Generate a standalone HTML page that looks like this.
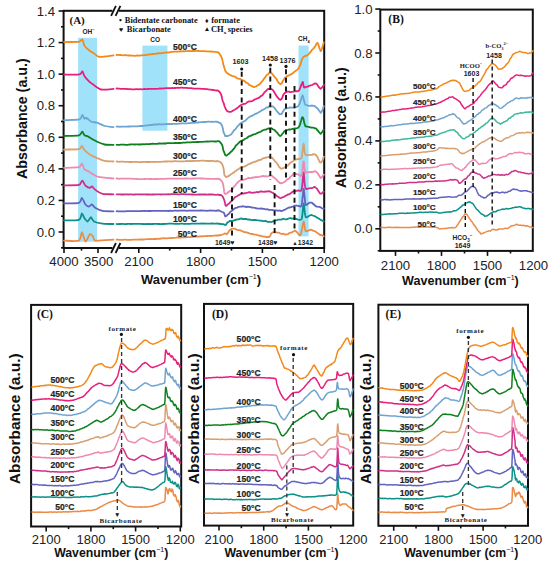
<!DOCTYPE html>
<html><head><meta charset="utf-8"><style>
html,body{margin:0;padding:0;background:#fff;}
svg{display:block;}
</style></head><body>
<svg width="550" height="564" viewBox="0 0 550 564">
<rect width="550" height="564" fill="#fff"/>
<rect x="78.10" y="37.80" width="18.90" height="203.90" fill="#A0E2FA"/>
<rect x="142.40" y="45.60" width="25.00" height="85.10" fill="#A0E2FA"/>
<rect x="298.50" y="45.50" width="10.10" height="190.90" fill="#A0E2FA"/>
<line x1="61.00" y1="247.78" x2="63.60" y2="247.78" stroke="#111" stroke-width="1.6" stroke-linecap="butt"/>
<line x1="58.60" y1="232.00" x2="63.60" y2="232.00" stroke="#111" stroke-width="1.6" stroke-linecap="butt"/>
<line x1="61.00" y1="216.22" x2="63.60" y2="216.22" stroke="#111" stroke-width="1.6" stroke-linecap="butt"/>
<line x1="58.60" y1="200.43" x2="63.60" y2="200.43" stroke="#111" stroke-width="1.6" stroke-linecap="butt"/>
<line x1="61.00" y1="184.64" x2="63.60" y2="184.64" stroke="#111" stroke-width="1.6" stroke-linecap="butt"/>
<line x1="58.60" y1="168.86" x2="63.60" y2="168.86" stroke="#111" stroke-width="1.6" stroke-linecap="butt"/>
<line x1="61.00" y1="153.07" x2="63.60" y2="153.07" stroke="#111" stroke-width="1.6" stroke-linecap="butt"/>
<line x1="58.60" y1="137.29" x2="63.60" y2="137.29" stroke="#111" stroke-width="1.6" stroke-linecap="butt"/>
<line x1="61.00" y1="121.50" x2="63.60" y2="121.50" stroke="#111" stroke-width="1.6" stroke-linecap="butt"/>
<line x1="58.60" y1="105.72" x2="63.60" y2="105.72" stroke="#111" stroke-width="1.6" stroke-linecap="butt"/>
<line x1="61.00" y1="89.94" x2="63.60" y2="89.94" stroke="#111" stroke-width="1.6" stroke-linecap="butt"/>
<line x1="58.60" y1="74.15" x2="63.60" y2="74.15" stroke="#111" stroke-width="1.6" stroke-linecap="butt"/>
<line x1="61.00" y1="58.37" x2="63.60" y2="58.37" stroke="#111" stroke-width="1.6" stroke-linecap="butt"/>
<line x1="58.60" y1="42.58" x2="63.60" y2="42.58" stroke="#111" stroke-width="1.6" stroke-linecap="butt"/>
<line x1="61.00" y1="26.79" x2="63.60" y2="26.79" stroke="#111" stroke-width="1.6" stroke-linecap="butt"/>
<line x1="58.60" y1="11.01" x2="63.60" y2="11.01" stroke="#111" stroke-width="1.6" stroke-linecap="butt"/>
<text x="55.00" y="236.50" font-family="Liberation Sans" font-size="13.2" font-weight="normal" text-anchor="end" fill="#222" >0.0</text>
<text x="55.00" y="204.93" font-family="Liberation Sans" font-size="13.2" font-weight="normal" text-anchor="end" fill="#222" >0.2</text>
<text x="55.00" y="173.36" font-family="Liberation Sans" font-size="13.2" font-weight="normal" text-anchor="end" fill="#222" >0.4</text>
<text x="55.00" y="141.79" font-family="Liberation Sans" font-size="13.2" font-weight="normal" text-anchor="end" fill="#222" >0.6</text>
<text x="55.00" y="110.22" font-family="Liberation Sans" font-size="13.2" font-weight="normal" text-anchor="end" fill="#222" >0.8</text>
<text x="55.00" y="78.65" font-family="Liberation Sans" font-size="13.2" font-weight="normal" text-anchor="end" fill="#222" >1.0</text>
<text x="55.00" y="47.08" font-family="Liberation Sans" font-size="13.2" font-weight="normal" text-anchor="end" fill="#222" >1.2</text>
<text x="55.00" y="15.51" font-family="Liberation Sans" font-size="13.2" font-weight="normal" text-anchor="end" fill="#222" >1.4</text>
<line x1="64.00" y1="248.00" x2="64.00" y2="253.00" stroke="#111" stroke-width="1.6" stroke-linecap="butt"/>
<line x1="81.50" y1="248.00" x2="81.50" y2="250.60" stroke="#111" stroke-width="1.6" stroke-linecap="butt"/>
<line x1="98.00" y1="248.00" x2="98.00" y2="253.00" stroke="#111" stroke-width="1.6" stroke-linecap="butt"/>
<line x1="138.80" y1="248.00" x2="138.80" y2="253.00" stroke="#111" stroke-width="1.6" stroke-linecap="butt"/>
<line x1="169.70" y1="248.00" x2="169.70" y2="250.60" stroke="#111" stroke-width="1.6" stroke-linecap="butt"/>
<line x1="200.60" y1="248.00" x2="200.60" y2="253.00" stroke="#111" stroke-width="1.6" stroke-linecap="butt"/>
<line x1="231.50" y1="248.00" x2="231.50" y2="250.60" stroke="#111" stroke-width="1.6" stroke-linecap="butt"/>
<line x1="262.40" y1="248.00" x2="262.40" y2="253.00" stroke="#111" stroke-width="1.6" stroke-linecap="butt"/>
<line x1="293.30" y1="248.00" x2="293.30" y2="250.60" stroke="#111" stroke-width="1.6" stroke-linecap="butt"/>
<line x1="324.20" y1="248.00" x2="324.20" y2="253.00" stroke="#111" stroke-width="1.6" stroke-linecap="butt"/>
<text x="64.00" y="266.00" font-family="Liberation Sans" font-size="13.2" font-weight="normal" text-anchor="middle" fill="#222" >4000</text>
<text x="98.70" y="266.00" font-family="Liberation Sans" font-size="13.2" font-weight="normal" text-anchor="middle" fill="#222" >3500</text>
<text x="138.80" y="266.00" font-family="Liberation Sans" font-size="13.2" font-weight="normal" text-anchor="middle" fill="#222" >2100</text>
<text x="200.60" y="266.00" font-family="Liberation Sans" font-size="13.2" font-weight="normal" text-anchor="middle" fill="#222" >1800</text>
<text x="262.40" y="266.00" font-family="Liberation Sans" font-size="13.2" font-weight="normal" text-anchor="middle" fill="#222" >1500</text>
<text x="324.20" y="266.00" font-family="Liberation Sans" font-size="13.2" font-weight="normal" text-anchor="middle" fill="#222" >1200</text>
<rect x="63.60" y="10.80" width="260.60" height="237.20" fill="none" stroke="#111" stroke-width="2.0"/>
<rect x="112.50" y="8.80" width="6.50" height="4.00" fill="#fff"/>
<rect x="112.50" y="246.00" width="6.50" height="4.00" fill="#fff"/>
<line x1="111.10" y1="15.80" x2="115.90" y2="5.80" stroke="#111" stroke-width="1.8" stroke-linecap="butt"/>
<line x1="115.60" y1="15.80" x2="120.40" y2="5.80" stroke="#111" stroke-width="1.8" stroke-linecap="butt"/>
<line x1="111.10" y1="253.00" x2="115.90" y2="243.00" stroke="#111" stroke-width="1.8" stroke-linecap="butt"/>
<line x1="115.60" y1="253.00" x2="120.40" y2="243.00" stroke="#111" stroke-width="1.8" stroke-linecap="butt"/>
<text x="201.00" y="284.00" font-family="Liberation Sans" font-size="13" font-weight="bold" text-anchor="middle" fill="#111" >Wavenumber (cm<tspan dy="-5" font-size="7" font-weight="normal">−1</tspan><tspan dy="5">)</tspan></text>
<text x="0.00" y="0.00" font-family="Liberation Sans" font-size="14.3" font-weight="bold" text-anchor="middle" fill="#111" transform="translate(27,118.6) rotate(-90)">Absorbance (a.u.)</text>
<text x="69.50" y="24.30" font-family="Liberation Serif" font-size="11" font-weight="bold" text-anchor="start" fill="#111" >(A)</text>
<text x="119.00" y="22.70" font-family="Liberation Serif" font-size="8" font-weight="bold" text-anchor="start" fill="#111" >•</text>
<text x="124.80" y="22.70" font-family="Liberation Serif" font-size="8.45" font-weight="bold" text-anchor="start" fill="#111" >Bidentate carbonate</text>
<text x="119.00" y="31.50" font-family="Liberation Serif" font-size="7" font-weight="bold" text-anchor="start" fill="#111" >♥</text>
<text x="126.80" y="31.50" font-family="Liberation Serif" font-size="8.45" font-weight="bold" text-anchor="start" fill="#111" >Bicarbonate</text>
<text x="205.00" y="22.70" font-family="Liberation Serif" font-size="7" font-weight="bold" text-anchor="start" fill="#111" >♦</text>
<text x="211.30" y="22.70" font-family="Liberation Serif" font-size="8.45" font-weight="bold" text-anchor="start" fill="#111" >formate</text>
<text x="203.80" y="31.30" font-family="Liberation Serif" font-size="6.5" font-weight="bold" text-anchor="start" fill="#111" >▲</text>
<text x="211.00" y="31.50" font-family="Liberation Serif" font-size="8.45" font-weight="bold" text-anchor="start" fill="#111" >CH<tspan dy="2.5" font-size="5">x</tspan><tspan dy="-2.5" dx="-0.5"> species</tspan></text>
<text x="82.50" y="34.00" font-family="Liberation Sans" font-size="6.5" font-weight="bold" text-anchor="start" fill="#222" >OH<tspan dy="-3" font-size="4">−</tspan></text>
<text x="150.30" y="42.00" font-family="Liberation Sans" font-size="6.5" font-weight="bold" text-anchor="start" fill="#222" >CO</text>
<text x="298.00" y="41.00" font-family="Liberation Sans" font-size="6.5" font-weight="bold" text-anchor="start" fill="#222" >CH<tspan dy="2" font-size="4">4</tspan></text>
<path d="M64.0,240.6 C65.8,240.6 76.9,241.6 79.0,240.6 C81.1,239.6 81.1,232.0 81.9,232.1 C82.7,232.2 84.6,241.4 85.5,241.7 C86.4,242.0 88.9,234.9 89.8,234.3 C90.7,233.7 92.4,235.7 93.0,236.4 C93.6,237.1 93.0,240.2 95.1,240.6 C97.5,241.0 111.4,239.7 113.5,239.6" fill="none" stroke="#EB8B46" stroke-width="1.8" stroke-linejoin="round" stroke-linecap="round"/>
<polyline points="116.6,239.6 117.1,239.7 117.7,239.7 118.3,239.7 119.1,239.8 119.9,239.8 120.9,239.8 121.9,239.9 123.0,239.9 124.2,239.7 125.4,239.7 126.8,239.9 128.2,239.9 129.7,239.8 131.2,239.9 132.9,239.7 134.6,239.7 136.3,239.7 138.1,239.6 140.0,239.4 140.6,239.5 141.2,239.6 141.9,239.5 142.7,239.5 143.5,239.6 144.4,239.3 145.3,239.3 146.2,239.1 147.3,239.2 148.3,239.2 149.4,239.1 150.6,239.0 151.8,239.1 153.0,239.1 154.2,239.0 155.5,239.0 156.9,238.8 158.2,238.7 159.6,238.8 161.0,238.5 162.5,238.4 163.9,238.2 165.4,238.3 166.9,238.3 168.4,238.1 169.9,238.1 171.4,238.0 173.0,237.9 174.6,237.8 176.1,237.7 177.7,237.5 179.2,237.7 180.8,237.5 182.4,237.4 184.0,237.4 185.5,237.4 187.1,237.2 188.6,237.1 190.1,237.2 191.7,236.9 193.2,236.8 194.6,236.7 196.1,236.7 197.5,236.6 199.0,236.5 200.4,236.3 201.7,236.2 203.1,236.3 204.4,236.1 205.7,236.1 206.9,236.0 208.1,235.9 209.3,235.8 210.4,236.0 211.5,235.9 212.5,235.8 213.5,235.7 214.5,235.7 215.3,235.7 216.2,235.5 217.0,235.4 217.7,235.8 218.4,235.4 219.0,235.3 219.5,234.9 220.0,235.4 222.6,234.5 223.8,234.0 224.3,233.7 224.7,233.3 226.8,234.3 227.3,233.4 228.1,232.6 229.0,231.0 230.0,229.9 231.0,229.2 232.0,228.9 232.7,228.7 233.6,228.7 234.6,228.6 235.8,229.3 237.1,229.9 238.4,230.1 239.8,230.1 241.2,230.8 242.5,231.2 243.8,231.9 244.5,232.2 245.4,232.2 246.4,232.5 247.5,232.7 248.7,233.2 250.0,233.6 251.4,234.0 252.8,234.0 254.3,234.7 255.8,234.6 257.2,235.0 258.7,235.6 260.1,235.6 261.4,236.2 262.7,236.4 263.9,236.6 264.9,236.6 265.8,236.9 266.6,237.3 267.2,236.9 268.6,237.1 269.7,236.6 270.5,235.1 271.2,233.7 271.9,232.9 272.8,232.3 273.6,232.3 274.7,232.2 276.0,232.4 277.4,232.6 279.0,232.7 280.5,233.5 282.0,234.0 283.4,233.7 284.6,234.3 285.5,234.8 286.6,234.3 287.9,234.2 289.2,233.1 290.6,232.7 292.0,232.3 293.2,231.5 294.3,231.0 295.1,230.6 296.2,231.4 297.4,232.6 298.6,234.2 299.6,235.3 300.4,235.1 300.7,234.5 301.0,233.2 301.3,232.3 301.6,230.9 302.0,229.0 302.3,227.0 302.6,225.6 302.9,224.0 303.2,223.0 303.4,222.3 303.6,221.6 303.8,221.7 304.0,222.7 304.3,224.1 304.5,225.7 304.8,227.5 305.0,228.9 305.4,230.4 305.7,231.1 306.5,230.9 307.8,230.9 309.2,230.2 310.7,229.7 312.1,230.0 312.8,230.6 313.8,230.8 314.9,231.3 316.2,232.1 317.5,233.1 318.9,234.0 320.2,235.0 321.4,235.0 322.5,235.6 323.3,236.0 323.8,236.4" fill="none" stroke="#EB8B46" stroke-width="1.8" stroke-linejoin="round" stroke-linecap="round"/>
<path d="M64.0,220.4 C65.8,220.3 76.9,220.6 79.0,219.8 C81.1,219.0 81.3,213.6 81.9,213.4 C82.5,213.2 83.8,217.4 84.5,218.3 C85.2,219.2 87.0,221.6 87.7,221.5 C88.4,221.4 90.2,217.2 90.9,217.2 C91.6,217.2 92.6,220.8 94.0,221.5 C95.4,222.2 100.3,223.3 102.6,223.6 C104.9,223.9 112.2,224.0 113.5,224.0" fill="none" stroke="#0C9188" stroke-width="1.8" stroke-linejoin="round" stroke-linecap="round"/>
<polyline points="116.6,224.0 117.1,224.1 117.7,224.1 118.3,224.1 119.1,224.0 119.9,223.9 120.9,224.0 121.9,223.9 123.0,223.9 124.2,224.1 125.4,224.2 126.8,224.0 128.2,223.9 129.7,223.9 131.2,224.0 132.9,223.9 134.6,223.9 136.3,223.8 138.1,223.8 140.0,223.9 140.6,223.9 141.2,223.9 141.9,224.0 142.7,224.1 143.5,224.0 144.4,224.1 145.3,224.0 146.2,224.1 147.3,224.0 148.3,223.9 149.4,224.0 150.6,224.1 151.8,224.0 153.0,224.0 154.2,223.9 155.5,223.8 156.8,223.8 158.2,224.0 159.6,224.0 161.0,224.1 162.4,224.0 163.9,224.0 165.4,223.8 166.8,223.8 168.4,223.7 169.9,223.7 171.4,223.7 173.0,223.6 174.5,223.8 176.1,223.7 177.6,223.8 179.2,223.8 180.8,223.7 182.3,223.7 183.9,223.9 185.5,223.9 187.0,223.8 188.6,223.9 190.1,223.8 191.6,223.7 193.1,223.7 194.6,223.7 196.1,223.7 197.5,223.7 198.9,223.7 200.3,223.7 201.7,223.5 203.0,223.6 204.3,223.5 205.6,223.6 206.9,223.7 208.1,223.7 209.2,223.7 210.4,223.7 211.4,223.5 212.5,223.5 213.5,223.6 214.4,223.6 215.3,223.6 216.2,223.6 216.9,223.5 217.7,223.6 218.3,223.8 219.0,223.5 219.5,223.7 220.0,224.0 223.1,224.1 224.6,224.8 225.2,224.7 225.7,225.1 226.6,223.8 227.5,222.4 229.0,221.7 229.7,221.0 230.6,220.9 231.7,221.0 232.9,220.9 234.2,220.4 235.7,219.8 237.2,219.3 238.7,219.3 240.2,218.7 241.7,218.4 242.4,219.1 243.3,219.2 244.2,218.9 245.4,219.0 246.6,219.0 247.9,219.6 249.2,219.5 250.7,219.8 252.2,220.1 253.7,220.0 255.2,219.9 256.8,220.2 258.3,220.3 259.9,220.6 261.3,220.6 262.8,221.1 264.1,221.1 265.4,220.9 266.6,221.4 267.7,221.8 268.7,221.8 269.5,221.7 270.2,221.9 271.7,222.1 273.1,221.2 274.5,221.0 275.8,220.3 277.0,220.1 278.2,219.7 279.3,219.6 280.3,219.6 281.3,219.7 282.2,219.2 283.4,218.7 284.7,219.3 286.1,219.3 287.6,219.0 289.2,218.4 290.6,218.0 292.0,218.6 293.3,218.5 294.3,218.7 295.1,218.7 296.6,219.0 298.1,219.7 299.5,219.8 300.7,219.7 301.5,219.2 301.7,218.9 301.9,218.2 302.1,217.0 302.3,215.3 302.5,213.5 302.7,211.5 302.8,210.0 303.0,208.5 303.1,206.9 303.2,205.7 303.4,204.9 303.5,204.4 303.6,203.4 303.7,203.4 303.9,204.4 304.1,205.8 304.2,207.0 304.4,209.1 304.6,210.7 304.8,212.7 305.0,213.8 305.2,215.2 305.5,216.0 305.7,217.2 306.6,217.4 307.9,216.8 309.4,215.6 311.0,215.0 311.7,215.1 312.8,215.5 314.0,215.9 315.4,216.5 316.9,217.6 318.4,218.3 319.8,219.2 321.2,220.2 322.3,220.6 323.2,221.1 323.8,221.5" fill="none" stroke="#0C9188" stroke-width="1.8" stroke-linejoin="round" stroke-linecap="round"/>
<path d="M64.0,203.4 C65.8,203.3 76.9,203.4 79.0,202.8 C81.1,202.2 81.1,197.8 81.9,198.0 C82.7,198.2 84.7,203.5 85.5,204.5 C86.3,205.5 88.0,206.6 88.7,206.6 C89.4,206.6 91.2,204.4 91.9,204.5 C92.6,204.6 93.9,207.0 95.1,207.7 C96.3,208.4 100.5,210.5 102.6,210.9 C104.7,211.3 112.2,211.3 113.5,211.3" fill="none" stroke="#6262C0" stroke-width="1.8" stroke-linejoin="round" stroke-linecap="round"/>
<polyline points="116.6,211.3 117.1,211.2 117.7,211.2 118.3,211.3 119.1,211.4 119.9,211.3 120.9,211.3 121.9,211.3 123.0,211.4 124.2,211.4 125.4,211.4 126.8,211.2 128.2,211.1 129.7,211.1 131.2,211.2 132.9,211.2 134.6,211.2 136.3,211.2 138.1,211.1 140.0,211.1 140.6,211.1 141.2,211.1 141.9,211.0 142.7,210.9 143.5,210.9 144.4,211.0 145.3,210.9 146.2,210.9 147.3,211.1 148.3,211.0 149.4,211.0 150.6,211.0 151.8,210.8 153.0,210.9 154.2,210.9 155.5,210.9 156.8,210.9 158.2,210.9 159.6,210.8 161.0,210.9 162.4,210.8 163.9,210.8 165.4,210.9 166.8,210.8 168.4,211.0 169.9,210.7 171.4,210.8 173.0,210.8 174.5,210.7 176.1,210.7 177.6,210.8 179.2,210.6 180.8,210.7 182.3,210.7 183.9,210.6 185.5,210.7 187.0,210.8 188.6,210.6 190.1,210.7 191.6,210.7 193.1,210.6 194.6,210.6 196.1,210.6 197.5,210.7 198.9,210.6 200.3,210.5 201.7,210.5 203.0,210.6 204.3,210.7 205.6,210.7 206.9,210.8 208.1,210.6 209.2,210.6 210.4,210.5 211.4,210.6 212.5,210.7 213.5,210.6 214.4,210.7 215.3,210.8 216.2,210.6 216.9,210.8 217.7,210.4 218.3,210.7 219.0,210.4 219.5,210.6 220.0,211.0 222.3,212.0 223.7,212.5 224.5,214.2 224.9,215.5 225.2,216.4 225.7,216.2 226.5,216.0 227.5,214.7 228.7,214.0 229.8,212.4 231.0,211.3 232.0,210.7 232.8,210.0 233.7,209.2 234.7,208.4 235.9,207.8 237.2,207.6 238.6,206.8 240.1,206.7 241.7,206.7 242.4,206.4 243.2,206.2 244.1,206.6 245.2,206.6 246.4,207.1 247.7,206.7 249.1,206.9 250.5,207.2 252.0,207.5 253.6,207.6 255.1,208.0 256.7,208.3 258.2,208.6 259.8,208.7 261.3,208.5 262.7,208.8 264.1,208.7 265.4,209.3 266.6,209.4 267.7,209.2 268.7,209.8 269.5,209.9 270.2,209.9 271.7,209.8 273.1,210.1 274.5,210.5 275.8,210.4 277.0,210.4 278.2,210.8 279.3,210.5 280.3,210.7 281.3,211.1 282.1,210.8 283.2,210.4 284.4,209.8 285.6,209.3 287.0,208.5 288.4,207.7 289.8,207.5 291.1,207.1 292.4,206.7 293.5,206.5 294.4,205.7 295.1,205.6 296.6,205.5 298.1,206.0 299.5,206.1 300.7,206.6 301.5,206.1 301.7,204.8 301.9,203.6 302.1,202.4 302.3,200.7 302.4,199.1 302.6,197.7 302.7,196.4 302.9,194.9 303.0,193.5 303.1,192.1 303.3,190.8 303.4,189.9 303.5,189.1 303.6,188.8 303.7,189.1 303.8,189.2 304.0,190.1 304.1,191.9 304.3,193.8 304.4,194.8 304.6,196.5 304.8,198.1 304.9,200.1 305.1,201.8 305.3,203.2 305.5,204.0 305.7,205.0 306.7,204.8 308.3,203.5 309.8,202.6 311.0,202.7 311.9,202.7 313.0,203.9 314.2,204.6 315.3,205.8 316.2,206.5 317.5,206.7 319.0,206.8 320.5,207.1 321.9,208.2 323.1,208.8 323.8,208.7" fill="none" stroke="#6262C0" stroke-width="1.8" stroke-linejoin="round" stroke-linecap="round"/>
<path d="M64.0,185.3 C65.8,185.3 76.9,185.4 79.0,184.9 C81.1,184.4 81.5,180.5 82.3,180.6 C83.1,180.7 84.6,184.8 85.5,185.7 C86.4,186.6 89.1,187.8 89.8,187.9 C90.5,188.0 91.3,186.2 91.9,186.4 C92.5,186.6 93.9,188.7 95.1,189.6 C96.3,190.5 100.5,193.3 102.6,193.8 C104.7,194.3 112.2,194.2 113.5,194.3" fill="none" stroke="#CF2F86" stroke-width="1.8" stroke-linejoin="round" stroke-linecap="round"/>
<polyline points="116.6,194.3 117.1,194.3 117.7,194.4 118.3,194.3 119.1,194.4 119.9,194.4 120.9,194.5 121.9,194.4 123.0,194.5 124.2,194.5 125.4,194.4 126.8,194.3 128.2,194.5 129.7,194.3 131.2,194.4 132.9,194.6 134.6,194.5 136.3,194.4 138.1,194.4 140.0,194.4 140.6,194.5 141.2,194.4 141.9,194.3 142.7,194.5 143.5,194.4 144.4,194.4 145.3,194.3 146.2,194.5 147.3,194.4 148.3,194.5 149.4,194.5 150.6,194.6 151.8,194.4 153.0,194.5 154.2,194.5 155.5,194.4 156.8,194.4 158.2,194.4 159.6,194.3 161.0,194.5 162.4,194.4 163.9,194.4 165.4,194.3 166.8,194.4 168.4,194.2 169.9,194.4 171.4,194.2 173.0,194.2 174.5,194.2 176.1,194.2 177.6,194.3 179.2,194.3 180.8,194.2 182.3,194.1 183.9,194.2 185.5,194.3 187.0,194.3 188.6,194.3 190.1,194.4 191.6,194.5 193.1,194.5 194.6,194.6 196.1,194.6 197.5,194.6 198.9,194.5 200.3,194.5 201.7,194.5 203.0,194.4 204.3,194.5 205.6,194.4 206.9,194.6 208.1,194.5 209.2,194.3 210.4,194.5 211.4,194.5 212.5,194.4 213.5,194.6 214.4,194.7 215.3,194.8 216.2,194.8 216.9,194.7 217.7,194.5 218.3,194.7 219.0,195.0 219.5,195.0 220.0,194.8 221.7,195.3 222.9,197.0 223.7,198.7 224.3,200.3 224.7,201.6 224.9,202.5 225.1,203.7 225.4,204.9 225.7,205.8 226.6,205.8 227.6,204.5 228.7,203.8 229.9,202.6 231.0,201.4 231.6,201.1 232.4,200.2 233.3,199.4 234.3,198.0 235.3,196.9 236.5,196.6 237.7,195.6 239.0,195.1 240.3,194.3 241.7,193.7 242.4,193.3 243.2,193.7 244.2,193.2 245.3,193.4 246.5,192.8 247.8,192.6 249.1,192.2 250.6,192.5 252.1,192.8 253.6,192.6 255.2,192.5 256.7,192.0 258.3,192.3 259.8,191.7 261.3,191.5 262.7,191.6 264.1,191.8 265.4,191.5 266.6,191.6 267.7,191.3 268.7,191.1 269.5,191.3 270.2,191.6 271.6,192.3 272.8,192.7 274.1,193.7 275.3,194.6 276.4,195.7 277.5,196.5 278.5,197.0 279.5,197.7 280.4,198.1 281.3,197.9 282.1,197.5 283.0,197.2 284.1,196.9 285.2,196.0 286.5,195.4 287.8,194.5 289.0,194.4 290.3,193.5 291.5,192.8 292.6,191.7 293.6,191.2 294.5,191.2 295.1,191.1 296.6,190.9 298.1,190.4 299.5,190.9 300.7,190.9 301.5,189.7 301.7,188.9 301.9,188.3 302.1,186.7 302.3,185.1 302.4,183.7 302.6,182.0 302.7,180.3 302.9,178.5 303.0,177.2 303.1,175.8 303.3,174.4 303.4,173.8 303.5,172.8 303.6,172.3 303.7,172.5 303.8,172.8 303.9,174.1 304.0,175.6 304.1,177.0 304.3,178.7 304.4,180.6 304.5,182.4 304.7,184.1 304.9,185.5 305.1,186.7 305.4,188.1 305.7,188.2 306.4,189.1 307.5,188.8 308.9,188.4 310.4,188.1 311.9,188.2 313.3,187.5 314.4,186.9 315.3,187.4 316.2,188.1 317.2,188.9 318.2,190.8 319.2,192.2 320.0,193.4 320.6,193.6 321.8,193.5 323.0,192.1 323.8,191.7" fill="none" stroke="#CF2F86" stroke-width="1.8" stroke-linejoin="round" stroke-linecap="round"/>
<path d="M64.0,167.9 C65.8,167.8 76.9,167.7 79.0,167.2 C81.1,166.7 81.3,163.3 81.9,163.6 C82.5,163.9 83.7,168.5 84.5,169.4 C85.3,170.3 87.8,171.0 88.7,171.5 C89.6,172.0 90.8,173.0 91.9,173.6 C93.0,174.2 95.8,176.2 98.3,176.8 C100.8,177.4 111.7,178.3 113.5,178.5" fill="none" stroke="#EE8AB0" stroke-width="1.8" stroke-linejoin="round" stroke-linecap="round"/>
<polyline points="116.6,178.5 117.1,178.5 117.7,178.6 118.3,178.6 119.1,178.8 119.9,178.6 120.9,178.7 121.9,178.6 123.0,178.6 124.2,178.6 125.4,178.7 126.8,178.6 128.2,178.6 129.7,178.6 131.2,178.7 132.9,178.8 134.6,178.9 136.3,178.8 138.1,179.0 140.0,179.1 140.6,179.1 141.2,179.2 141.9,179.1 142.7,179.1 143.5,179.1 144.4,179.0 145.3,179.0 146.2,178.9 147.3,178.8 148.3,178.9 149.4,179.0 150.6,179.0 151.8,179.0 153.0,179.1 154.2,179.1 155.5,178.9 156.9,179.0 158.2,178.8 159.6,178.8 161.0,178.9 162.5,178.9 163.9,178.8 165.4,178.8 166.9,178.7 168.4,178.6 169.9,178.6 171.4,178.6 173.0,178.6 174.6,178.6 176.1,178.7 177.7,178.6 179.2,178.6 180.8,178.6 182.4,178.6 184.0,178.6 185.5,178.4 187.1,178.5 188.6,178.7 190.1,178.6 191.7,178.7 193.2,178.5 194.6,178.5 196.1,178.4 197.5,178.3 199.0,178.4 200.4,178.5 201.7,178.4 203.1,178.5 204.4,178.6 205.7,178.6 206.9,178.8 208.1,178.7 209.3,178.8 210.4,178.8 211.5,178.8 212.5,178.9 213.5,178.8 214.5,178.8 215.3,178.9 216.2,179.0 217.0,178.9 217.7,178.7 218.4,178.7 219.0,179.1 219.5,179.0 220.0,179.6 221.1,180.5 221.9,181.4 222.5,182.5 223.0,184.1 223.4,185.8 223.6,187.4 223.8,188.4 224.0,189.7 224.1,191.4 224.2,192.0 224.4,192.9 224.7,193.8 225.7,193.8 226.9,193.4 228.3,192.2 229.7,191.0 231.0,190.5 231.5,190.4 232.2,189.7 232.9,188.3 233.6,187.1 234.5,186.1 235.4,185.4 236.3,183.9 237.3,182.8 238.4,181.6 239.5,180.9 240.6,180.2 241.7,180.1 242.3,180.1 243.1,180.0 244.0,179.5 245.1,179.4 246.2,179.0 247.4,178.4 248.7,177.9 250.1,178.1 251.5,178.1 253.0,177.3 254.4,177.6 255.9,176.9 257.4,177.2 258.9,176.9 260.4,176.5 261.8,176.4 263.1,175.8 264.4,176.3 265.7,176.2 266.8,176.3 267.8,176.4 268.8,176.0 269.5,175.6 270.2,175.3 271.4,175.6 272.6,176.3 273.8,177.5 274.8,178.1 275.9,179.1 276.9,180.1 277.8,181.3 278.8,182.0 279.6,182.9 280.5,183.4 281.3,183.0 282.0,183.2 282.9,182.7 283.8,182.3 284.9,181.6 286.0,180.7 287.2,179.4 288.4,178.9 289.6,178.2 290.7,176.6 291.8,175.6 292.8,174.6 293.7,174.0 294.5,174.0 295.1,173.9 296.6,174.0 298.1,174.4 299.5,175.1 300.7,176.0 301.5,175.5 301.7,174.7 302.0,173.9 302.2,173.1 302.4,171.2 302.6,169.8 302.7,167.8 302.9,166.1 303.1,164.2 303.2,163.3 303.3,162.4 303.5,161.8 303.6,161.3 303.8,161.3 303.9,162.2 304.1,163.4 304.2,165.4 304.4,167.2 304.7,169.3 304.9,171.0 305.3,172.3 305.7,172.6 306.4,172.5 307.5,172.2 308.9,172.3 310.4,172.0 311.9,172.0 313.3,171.9 314.4,171.4 315.3,171.2 316.2,171.9 317.2,172.9 318.2,174.1 319.2,175.7 320.0,177.0 320.6,178.1 321.8,177.2 323.0,175.4 323.8,174.7" fill="none" stroke="#EE8AB0" stroke-width="1.8" stroke-linejoin="round" stroke-linecap="round"/>
<path d="M64.0,149.6 C65.8,149.5 76.9,149.5 79.0,149.1 C81.1,148.7 81.3,145.9 81.9,146.0 C82.5,146.1 83.6,149.2 84.5,150.2 C85.4,151.2 88.4,153.6 89.8,154.5 C91.2,155.4 94.5,157.0 96.2,157.7 C97.9,158.4 102.7,160.5 104.7,160.9 C106.7,161.3 112.5,161.4 113.5,161.5" fill="none" stroke="#D8A070" stroke-width="1.8" stroke-linejoin="round" stroke-linecap="round"/>
<polyline points="116.6,161.5 117.1,161.6 117.7,161.5 118.3,161.7 119.1,161.8 120.0,161.6 120.9,161.7 121.9,161.7 123.1,161.7 124.2,161.8 125.5,161.9 126.9,161.8 128.3,161.9 129.8,162.0 131.3,162.0 132.9,161.9 134.6,161.9 136.4,161.9 138.2,162.1 140.0,162.2 140.6,162.1 141.2,162.0 141.9,162.1 142.7,162.0 143.5,161.9 144.4,161.8 145.3,161.9 146.2,162.0 147.3,162.0 148.3,162.0 149.4,162.0 150.6,161.9 151.8,161.8 153.0,161.9 154.2,162.0 155.5,161.9 156.8,161.9 158.2,161.9 159.6,161.8 161.0,161.8 162.4,161.7 163.9,161.7 165.3,161.4 166.8,161.5 168.3,161.4 169.8,161.4 171.4,161.5 172.9,161.4 174.5,161.2 176.0,161.2 177.6,161.3 179.1,161.3 180.7,161.4 182.2,161.3 183.8,161.3 185.3,161.2 186.9,161.0 188.4,161.1 189.9,160.9 191.4,161.1 192.9,161.0 194.3,160.9 195.8,160.8 197.2,160.9 198.6,160.8 200.0,160.8 201.3,160.7 202.6,160.7 203.9,160.7 205.1,160.9 206.3,160.8 207.5,161.0 208.6,161.0 209.7,160.9 210.8,161.0 211.8,160.9 212.7,160.9 213.6,161.0 214.4,161.2 215.2,161.3 216.0,161.1 216.6,161.4 217.3,161.1 217.8,161.0 218.3,161.4 219.7,161.6 220.9,162.7 221.8,163.7 222.6,165.2 223.1,166.7 223.5,168.3 223.8,169.8 224.0,171.4 224.1,173.0 224.3,174.1 224.5,175.1 224.7,175.5 226.0,177.1 227.9,176.3 228.4,176.2 229.0,175.9 229.8,175.2 230.6,174.5 231.6,174.0 232.6,173.3 233.7,172.6 234.8,171.5 236.0,171.0 237.2,169.7 238.3,169.4 239.5,168.4 240.6,167.5 241.7,167.0 242.4,167.2 243.1,166.9 244.0,166.7 245.0,166.4 246.1,165.6 247.3,165.2 248.5,164.1 249.8,163.9 251.2,163.1 252.5,162.4 253.9,162.2 255.4,161.6 256.8,161.1 258.2,160.4 259.6,159.8 261.0,159.8 262.3,158.8 263.6,158.1 264.8,158.1 265.9,157.5 267.0,157.3 268.0,157.1 268.8,156.7 269.6,156.8 270.2,157.4 271.2,157.8 272.3,157.7 273.2,159.1 274.2,160.2 275.1,161.4 276.0,162.1 276.8,163.2 277.6,164.2 278.4,165.7 279.2,166.9 279.9,167.4 280.6,168.4 281.3,168.7 282.1,168.6 283.0,168.1 284.1,167.8 285.2,167.0 286.5,166.3 287.8,165.6 289.0,164.1 290.3,162.8 291.5,161.9 292.6,161.6 293.6,160.7 294.5,160.0 295.1,159.8 296.6,159.3 298.1,159.0 299.5,159.2 300.7,158.6 301.5,158.0 301.8,156.8 302.0,156.0 302.2,154.4 302.4,152.8 302.6,150.7 302.8,149.4 303.0,147.4 303.2,146.3 303.3,145.0 303.5,143.7 303.6,144.0 303.8,144.4 303.9,144.8 304.1,146.1 304.2,148.4 304.4,150.1 304.7,151.9 304.9,153.5 305.3,154.3 305.7,154.9 306.4,155.3 307.5,155.2 308.9,155.1 310.4,154.9 311.9,154.9 313.3,154.1 314.4,154.3 315.3,154.3 316.0,155.1 316.7,156.0 317.5,157.1 318.2,159.0 318.9,160.0 319.6,161.8 320.2,162.5 320.6,162.6 321.3,162.4 322.0,161.2 322.8,159.7 323.4,157.6 323.8,156.6" fill="none" stroke="#D8A070" stroke-width="1.8" stroke-linejoin="round" stroke-linecap="round"/>
<path d="M64.0,136.0 C65.8,135.9 76.9,135.8 79.0,135.3 C81.1,134.8 81.7,131.7 82.3,131.7 C82.9,131.7 83.9,134.8 84.5,135.3 C85.1,135.8 86.8,136.0 87.7,136.4 C88.6,136.8 90.8,138.3 91.9,138.9 C93.0,139.5 95.7,141.0 97.2,141.7 C98.7,142.4 102.8,144.1 104.7,144.5 C106.6,144.9 112.5,144.9 113.5,144.9" fill="none" stroke="#0F8020" stroke-width="1.8" stroke-linejoin="round" stroke-linecap="round"/>
<polyline points="116.6,144.9 117.1,144.8 117.8,144.9 118.6,144.9 119.6,144.8 120.6,144.7 121.8,144.7 123.1,144.7 124.4,144.7 125.8,144.8 127.3,144.8 128.8,144.6 130.3,144.5 131.8,144.4 133.2,144.4 134.7,144.5 136.1,144.4 137.5,144.4 138.8,144.5 140.0,144.5 140.7,144.4 141.5,144.2 142.4,144.3 143.3,144.2 144.4,144.3 145.4,144.1 146.6,144.1 147.8,144.2 149.0,144.1 150.3,144.0 151.6,143.9 153.0,143.7 154.4,143.8 155.8,143.9 157.2,143.8 158.6,143.5 160.1,143.5 161.5,143.6 163.0,143.5 164.4,143.4 165.8,143.5 167.2,143.2 168.6,143.2 169.9,143.2 171.3,143.2 172.5,143.1 173.8,143.1 175.0,142.9 176.1,143.0 177.2,143.1 178.2,143.0 179.1,142.9 180.0,143.0 180.9,142.8 181.9,142.8 183.0,142.7 184.2,142.7 185.4,142.7 186.7,142.4 188.1,142.4 189.5,142.3 190.9,142.3 192.4,142.2 193.9,142.1 195.4,142.1 196.9,141.9 198.4,142.0 199.9,141.9 201.4,141.8 202.9,141.8 204.4,141.7 205.8,141.7 207.2,141.5 208.6,141.6 209.9,141.4 211.2,141.3 212.3,141.3 213.5,141.3 214.5,141.5 215.5,141.5 216.3,141.6 217.1,141.2 217.7,141.2 218.3,141.2 219.8,141.7 220.9,143.1 221.7,144.2 222.3,145.6 222.7,146.8 223.0,148.6 223.2,149.6 223.4,150.4 223.6,150.9 224.4,152.8 225.0,154.6 225.7,155.5 226.4,155.7 227.4,154.9 228.6,154.0 230.0,152.8 230.4,152.4 231.0,151.6 231.6,151.4 232.3,150.7 233.1,149.5 233.9,148.8 234.8,147.5 235.7,145.8 236.7,145.0 237.7,143.9 238.7,143.1 239.7,141.7 240.7,141.2 241.7,141.0 242.3,140.4 243.1,140.2 244.0,139.7 245.0,138.8 246.0,138.5 247.2,137.7 248.4,136.7 249.7,136.2 251.1,135.7 252.5,134.9 253.9,134.3 255.3,134.2 256.7,133.3 258.2,132.7 259.6,132.2 261.0,131.5 262.3,130.6 263.6,130.0 264.8,129.7 266.0,129.7 267.0,129.0 268.0,128.4 268.9,128.4 269.6,128.8 270.2,128.2 271.5,128.2 272.8,129.2 274.0,129.8 275.1,130.6 276.2,131.8 277.2,132.7 278.1,134.1 278.9,134.9 279.6,135.8 280.2,136.0 281.1,135.6 281.9,134.4 282.7,133.5 283.6,132.4 284.5,131.1 285.5,130.6 286.3,130.4 287.5,130.0 288.8,129.5 290.3,129.5 291.9,129.1 293.5,128.7 295.1,128.4 296.4,128.4 297.5,128.1 298.3,127.6 298.9,126.7 299.5,125.7 300.1,124.5 300.6,122.3 301.1,121.0 301.5,119.4 301.9,118.0 302.3,117.2 302.6,117.2 302.9,117.6 303.2,117.9 303.6,119.3 303.9,121.0 304.3,123.1 304.7,124.2 305.2,125.9 305.7,126.4 306.5,126.5 307.6,126.7 308.9,126.9 310.4,127.5 311.9,127.7 313.3,127.6 314.4,128.3 315.3,128.2 316.2,128.6 317.2,130.0 318.2,131.0 319.2,132.4 320.0,133.1 320.6,133.8 321.5,132.9 322.4,131.8 323.3,130.2 323.8,129.6" fill="none" stroke="#0F8020" stroke-width="1.8" stroke-linejoin="round" stroke-linecap="round"/>
<path d="M64.0,120.1 C65.8,120.0 77.4,120.0 79.5,119.4 C81.6,118.8 81.8,115.0 82.4,114.9 C83.0,114.8 83.9,118.5 84.4,118.8 C84.9,119.1 85.5,117.5 86.3,117.8 C87.1,118.1 89.9,121.1 91.2,121.7 C92.5,122.3 95.5,122.2 97.1,122.7 C98.7,123.2 103.0,125.5 104.9,126.0 C106.8,126.5 112.5,127.1 113.5,127.2" fill="none" stroke="#6EA4CF" stroke-width="1.8" stroke-linejoin="round" stroke-linecap="round"/>
<polyline points="116.6,126.6 117.1,126.5 117.9,126.6 118.8,126.7 119.9,126.8 121.1,126.7 122.4,126.6 123.8,126.6 125.3,126.6 126.9,126.6 128.4,126.5 130.0,126.5 131.5,126.3 133.0,126.3 134.5,126.4 135.8,126.3 137.1,126.3 138.2,126.3 139.2,126.0 140.0,125.9 141.1,126.0 142.3,126.0 143.6,125.8 144.8,125.7 146.1,125.6 147.4,125.3 148.7,125.2 150.0,125.1 151.3,125.0 152.6,124.9 153.8,124.5 155.0,124.5 155.8,124.6 156.6,124.5 157.6,124.4 158.7,124.3 159.8,124.2 161.1,124.3 162.4,124.3 163.7,124.3 165.1,124.1 166.5,124.0 167.9,124.1 169.4,124.0 170.8,124.1 172.2,124.0 173.6,123.9 175.0,123.9 176.4,123.8 177.6,123.8 178.9,123.7 180.0,123.7 180.8,123.5 181.6,123.4 182.6,123.3 183.7,123.4 184.8,123.4 186.0,123.4 187.3,123.3 188.7,123.1 190.1,123.1 191.5,122.9 193.0,122.8 194.5,122.8 196.0,122.7 197.5,122.5 199.1,122.3 200.6,122.2 202.1,122.1 203.7,122.0 205.1,122.0 206.6,121.8 208.0,121.7 209.3,121.7 210.6,121.8 211.9,121.7 213.0,121.8 214.1,121.8 215.1,121.7 216.0,121.6 216.8,121.7 217.4,122.2 218.0,121.9 219.5,122.9 220.7,123.4 221.5,124.8 222.1,125.9 222.6,127.5 222.9,128.6 223.1,129.9 223.3,131.3 223.6,132.4 224.2,133.5 224.7,134.6 225.1,136.1 225.7,136.1 226.6,136.0 228.0,136.0 229.5,135.3 231.0,134.4 231.5,134.1 232.0,133.1 232.6,132.6 233.3,131.4 234.1,130.3 234.9,129.6 235.8,128.8 236.7,127.5 237.6,126.2 238.6,125.3 239.6,124.2 240.7,123.3 241.7,122.8 242.3,122.1 242.9,122.1 243.7,121.4 244.6,121.1 245.6,120.4 246.6,119.4 247.7,118.4 248.9,117.4 250.1,116.5 251.4,116.1 252.7,115.4 254.0,114.7 255.3,113.8 256.6,113.5 258.0,112.7 259.3,111.9 260.6,111.3 261.8,110.1 263.0,109.8 264.2,109.1 265.3,108.4 266.4,107.5 267.3,107.5 268.2,107.3 269.0,106.4 269.6,105.8 270.2,106.2 271.5,106.3 272.8,106.5 274.0,107.4 275.1,108.7 276.2,110.3 277.2,111.7 278.1,112.5 278.9,113.4 279.6,114.3 280.2,114.2 281.1,114.2 281.9,113.7 282.7,111.8 283.6,110.6 284.5,109.3 285.5,108.7 286.3,108.3 287.5,108.2 288.8,107.9 290.3,107.3 291.9,107.6 293.5,107.5 295.1,107.3 296.4,107.0 297.5,106.6 298.3,105.9 298.9,104.9 299.5,103.7 300.1,102.3 300.6,101.0 301.1,99.5 301.5,98.3 301.9,96.8 302.3,95.9 302.6,95.4 302.9,95.8 303.2,97.2 303.6,98.6 303.9,100.4 304.3,101.6 304.7,103.3 305.2,104.5 305.7,104.9 306.5,105.1 307.6,105.4 308.9,105.8 310.4,105.8 311.9,105.5 313.3,105.8 314.4,106.0 315.3,106.6 316.2,107.5 317.2,108.2 318.2,109.2 319.2,110.9 320.0,111.6 320.6,112.8 321.3,112.5 322.0,110.8 322.8,109.0 323.4,107.2 323.8,106.2" fill="none" stroke="#6EA4CF" stroke-width="1.8" stroke-linejoin="round" stroke-linecap="round"/>
<path d="M64.0,74.5 C65.8,74.5 77.4,74.8 79.5,74.4 C81.6,74.0 81.8,71.2 82.4,71.4 C83.0,71.6 83.6,74.7 84.4,75.9 C85.2,77.1 88.3,80.7 89.3,81.7 C90.3,82.7 91.8,83.7 93.2,84.6 C94.6,85.5 98.6,89.0 101.0,89.5 C103.4,90.0 112.0,89.0 113.5,88.9" fill="none" stroke="#E91E7A" stroke-width="1.8" stroke-linejoin="round" stroke-linecap="round"/>
<polyline points="116.6,88.5 117.1,88.5 117.8,88.6 118.6,88.6 119.6,88.7 120.6,88.8 121.8,88.8 123.1,88.8 124.4,88.9 125.8,88.8 127.3,89.0 128.8,89.1 130.3,89.2 131.8,89.4 133.2,89.3 134.7,89.4 136.1,89.2 137.5,89.1 138.8,89.3 140.0,89.2 140.7,89.2 141.5,89.4 142.4,89.4 143.3,89.2 144.4,89.0 145.5,89.1 146.6,89.1 147.8,89.0 149.0,88.9 150.3,88.8 151.7,88.8 153.0,88.9 154.4,88.8 155.8,88.8 157.2,88.8 158.7,88.7 160.1,88.5 161.6,88.6 163.0,88.4 164.5,88.3 165.9,88.2 167.3,88.1 168.7,88.2 170.0,88.2 171.3,88.2 172.6,88.0 173.8,88.1 175.0,88.0 176.1,87.9 177.2,87.8 178.2,87.7 179.1,87.9 180.0,87.8 180.9,87.7 182.0,87.7 183.1,87.9 184.3,87.9 185.5,87.9 186.8,87.9 188.2,88.1 189.6,88.1 191.0,88.2 192.5,88.4 194.0,88.6 195.5,88.6 197.0,88.6 198.5,88.6 200.0,88.7 201.5,88.9 203.0,88.9 204.4,88.9 205.8,89.1 207.2,89.1 208.5,89.4 209.8,89.6 211.0,89.6 212.1,89.9 213.2,90.0 214.1,90.2 215.0,90.4 215.8,90.4 216.4,90.5 217.0,90.4 218.5,90.9 219.6,92.0 220.4,93.1 221.0,94.2 221.4,95.3 221.7,96.4 222.0,97.6 222.2,98.9 222.5,100.3 223.0,101.6 223.4,102.4 223.9,103.8 224.4,105.7 224.9,107.0 225.3,107.9 225.7,108.9 226.5,110.3 227.5,111.4 228.7,111.6 230.0,112.0 230.6,111.8 231.4,111.6 232.4,111.0 233.5,110.3 234.7,109.7 235.9,109.0 237.2,108.0 238.4,107.1 239.6,106.0 240.7,105.3 241.7,104.7 242.5,104.5 243.4,104.0 244.4,103.9 245.6,103.6 246.9,102.6 248.2,101.7 249.5,101.3 250.9,101.4 252.2,101.1 253.6,100.2 254.8,99.3 256.0,99.1 257.0,98.4 257.9,98.2 258.7,97.9 259.6,97.4 260.5,96.3 261.5,95.9 262.6,95.0 263.7,93.4 264.8,92.0 265.8,91.3 266.8,90.2 267.8,89.2 268.7,88.9 269.5,88.8 270.2,88.9 270.9,89.2 271.7,89.2 272.6,89.8 273.5,91.1 274.5,92.6 275.5,94.3 276.4,95.8 277.4,97.2 278.2,97.9 279.0,99.1 279.7,99.4 280.2,99.9 280.9,99.4 281.7,99.0 282.4,97.2 283.1,95.4 283.8,94.0 284.6,93.1 285.5,92.6 286.3,92.0 287.5,91.6 288.8,91.7 290.3,92.2 291.9,91.9 293.5,91.7 295.1,91.4 296.4,91.2 297.5,91.4 298.3,90.8 299.0,90.6 299.7,89.2 300.3,87.5 300.9,86.2 301.4,84.6 301.9,83.6 302.3,82.6 302.6,82.0 303.0,82.3 303.2,83.8 303.5,85.9 304.0,87.4 304.7,87.6 305.4,87.1 306.4,86.9 307.7,86.7 309.1,85.8 310.6,85.4 312.1,85.0 313.4,84.3 314.5,83.5 315.3,83.3 316.3,83.7 317.3,84.7 318.3,86.4 319.2,87.5 320.0,88.2 320.6,88.8 321.5,88.1 322.4,87.0 323.3,85.9 323.8,84.9" fill="none" stroke="#E91E7A" stroke-width="1.8" stroke-linejoin="round" stroke-linecap="round"/>
<path d="M64.0,42.1 C65.6,42.1 76.2,41.9 78.0,41.9 C79.5,41.9 79.0,42.0 79.5,41.7 C80.0,41.4 81.8,38.9 82.4,39.4 C83.0,39.9 83.6,44.3 84.4,45.6 C85.2,46.9 88.2,49.6 89.3,50.5 C90.4,51.4 93.0,52.7 94.1,53.4 C95.2,54.1 97.5,56.6 99.0,56.9 C100.5,57.2 105.1,56.5 106.8,56.3 C108.5,56.1 112.7,55.5 113.5,55.4" fill="none" stroke="#F28A1A" stroke-width="1.8" stroke-linejoin="round" stroke-linecap="round"/>
<polyline points="116.6,55.0 117.1,54.9 117.8,54.9 118.6,54.9 119.6,55.2 120.6,55.0 121.8,55.2 123.1,55.3 124.4,55.2 125.8,55.2 127.3,55.3 128.8,55.5 130.3,55.5 131.8,55.6 133.2,55.7 134.7,55.8 136.1,55.7 137.5,55.5 138.8,55.6 140.0,55.5 140.7,55.4 141.5,55.4 142.4,55.3 143.3,55.2 144.4,55.1 145.5,55.1 146.6,54.8 147.8,54.7 149.0,54.7 150.3,54.3 151.7,54.1 153.0,54.0 154.4,53.9 155.8,53.8 157.2,53.5 158.7,53.2 160.1,53.3 161.6,53.1 163.0,52.9 164.5,52.7 165.9,52.6 167.3,52.5 168.7,52.4 170.0,52.2 171.3,51.9 172.6,51.8 173.8,51.7 175.0,51.7 176.1,51.7 177.2,51.6 178.2,51.6 179.1,51.5 180.0,51.4 180.9,51.2 182.0,51.3 183.1,51.2 184.3,51.3 185.5,51.2 186.8,51.2 188.2,51.1 189.6,51.0 191.0,51.1 192.5,51.0 193.9,51.0 195.4,50.9 196.9,50.9 198.5,51.0 200.0,51.2 201.5,51.2 202.9,51.2 204.4,51.1 205.8,51.3 207.1,51.4 208.5,51.4 209.7,51.6 210.9,51.5 212.1,51.7 213.1,51.7 214.1,51.8 215.0,51.8 215.8,52.0 216.4,52.2 217.0,52.2 218.3,52.5 219.4,53.6 220.2,55.1 221.0,56.1 221.6,57.4 222.1,58.7 222.5,60.4 222.8,62.0 223.1,63.2 223.3,64.6 223.6,65.2 224.1,66.9 224.5,68.3 224.9,69.2 225.2,70.8 225.7,71.3 226.4,72.5 227.4,73.4 228.6,73.9 229.8,74.7 231.0,75.4 231.8,75.8 232.8,76.2 234.1,76.4 235.4,77.0 236.8,78.1 238.3,78.6 239.6,78.9 240.7,79.2 241.7,80.3 242.5,80.2 243.5,80.6 244.6,81.1 245.8,82.4 247.0,83.0 248.2,83.6 249.4,85.1 250.4,85.3 251.3,85.9 252.0,86.1 253.3,86.9 254.6,87.0 256.0,86.5 257.4,85.6 258.7,84.8 259.2,84.7 259.9,83.9 260.6,83.2 261.5,82.1 262.4,81.0 263.3,79.7 264.3,78.4 265.3,77.1 266.3,75.7 267.2,74.7 268.1,74.3 268.9,73.2 269.6,72.6 270.2,72.7 270.9,73.1 271.7,73.2 272.6,74.4 273.5,75.5 274.5,77.1 275.5,77.8 276.4,79.0 277.4,80.8 278.2,82.0 279.0,83.2 279.7,83.5 280.2,84.2 281.1,83.8 281.9,83.2 282.7,81.2 283.6,79.9 284.5,78.4 285.5,77.3 286.2,77.2 287.0,76.1 288.1,75.7 289.3,75.1 290.6,74.5 291.9,73.9 293.3,72.7 294.6,71.6 295.8,70.7 296.8,70.2 297.7,69.4 298.3,68.7 298.9,67.6 299.5,66.4 300.0,65.5 300.5,64.2 300.9,62.8 301.4,61.3 301.8,59.7 302.2,59.3 302.6,58.0 303.4,57.1 304.4,56.4 305.6,55.9 306.9,55.7 308.0,54.6 309.0,53.8 309.6,53.2 310.3,52.0 311.1,51.3 311.9,49.9 312.9,49.1 313.8,48.1 314.7,46.9 315.6,45.5 316.3,44.2 316.9,43.3 317.4,42.8 318.1,43.9 318.7,45.5 319.2,47.4 319.7,48.9 320.2,50.0 320.6,51.1 321.0,50.8 321.5,49.7 322.1,48.3 322.6,46.3 323.1,44.7 323.5,43.2 323.8,42.3" fill="none" stroke="#F28A1A" stroke-width="1.8" stroke-linejoin="round" stroke-linecap="round"/>
<line x1="241.70" y1="71.80" x2="241.70" y2="194.00" stroke="#111" stroke-width="1.9" stroke-linecap="butt" stroke-dasharray="5,3.6"/>
<line x1="270.30" y1="67.80" x2="270.30" y2="180.00" stroke="#111" stroke-width="1.9" stroke-linecap="butt" stroke-dasharray="5,3.6"/>
<line x1="286.00" y1="69.20" x2="286.00" y2="181.00" stroke="#111" stroke-width="1.9" stroke-linecap="butt" stroke-dasharray="5,3.6"/>
<line x1="294.50" y1="86.00" x2="294.50" y2="230.00" stroke="#111" stroke-width="1.9" stroke-linecap="butt" stroke-dasharray="5,3.6"/>
<line x1="232.00" y1="187.40" x2="232.00" y2="238.50" stroke="#111" stroke-width="1.9" stroke-linecap="butt" stroke-dasharray="5,3.6"/>
<line x1="274.60" y1="185.00" x2="274.60" y2="236.00" stroke="#111" stroke-width="1.9" stroke-linecap="butt" stroke-dasharray="5,3.6"/>
<circle cx="241.7" cy="69" r="1.6" fill="#111"/>
<circle cx="270.3" cy="65" r="1.6" fill="#111"/>
<circle cx="286.0" cy="66.4" r="1.6" fill="#111"/>
<text x="240.50" y="63.80" font-family="Liberation Sans" font-size="7.2" font-weight="bold" text-anchor="middle" fill="#222" >1603</text>
<text x="270.00" y="60.80" font-family="Liberation Sans" font-size="7.2" font-weight="bold" text-anchor="middle" fill="#222" >1458</text>
<text x="287.50" y="63.30" font-family="Liberation Sans" font-size="7.2" font-weight="bold" text-anchor="middle" fill="#222" >1376</text>
<text x="215.00" y="245.00" font-family="Liberation Sans" font-size="6.9" font-weight="bold" text-anchor="start" fill="#222" >1649<tspan font-size="7" font-family="Liberation Serif">♥</tspan></text>
<text x="258.00" y="245.00" font-family="Liberation Sans" font-size="6.9" font-weight="bold" text-anchor="start" fill="#222" >1438<tspan font-size="7" font-family="Liberation Serif">♥</tspan></text>
<text x="292.20" y="245.00" font-family="Liberation Sans" font-size="6.9" font-weight="bold" text-anchor="start" fill="#222" ><tspan font-size="5.5">▲</tspan>1342</text>
<text x="197.00" y="49.50" font-family="Liberation Sans" font-size="8.6" font-weight="bold" text-anchor="end" fill="#222" stroke="#222" stroke-width="0.2">500°C</text>
<text x="197.00" y="85.00" font-family="Liberation Sans" font-size="8.6" font-weight="bold" text-anchor="end" fill="#222" stroke="#222" stroke-width="0.2">450°C</text>
<text x="197.00" y="121.90" font-family="Liberation Sans" font-size="8.6" font-weight="bold" text-anchor="end" fill="#222" stroke="#222" stroke-width="0.2">400°C</text>
<text x="197.00" y="140.30" font-family="Liberation Sans" font-size="8.6" font-weight="bold" text-anchor="end" fill="#222" stroke="#222" stroke-width="0.2">350°C</text>
<text x="197.00" y="159.10" font-family="Liberation Sans" font-size="8.6" font-weight="bold" text-anchor="end" fill="#222" stroke="#222" stroke-width="0.2">300°C</text>
<text x="197.00" y="176.30" font-family="Liberation Sans" font-size="8.6" font-weight="bold" text-anchor="end" fill="#222" stroke="#222" stroke-width="0.2">250°C</text>
<text x="197.00" y="192.70" font-family="Liberation Sans" font-size="8.6" font-weight="bold" text-anchor="end" fill="#222" stroke="#222" stroke-width="0.2">200°C</text>
<text x="197.00" y="207.60" font-family="Liberation Sans" font-size="8.6" font-weight="bold" text-anchor="end" fill="#222" stroke="#222" stroke-width="0.2">150°C</text>
<text x="197.00" y="221.80" font-family="Liberation Sans" font-size="8.6" font-weight="bold" text-anchor="end" fill="#222" stroke="#222" stroke-width="0.2">100°C</text>
<text x="197.00" y="236.70" font-family="Liberation Sans" font-size="8.6" font-weight="bold" text-anchor="end" fill="#222" stroke="#222" stroke-width="0.2">50°C</text>
<line x1="377.70" y1="250.78" x2="380.30" y2="250.78" stroke="#111" stroke-width="1.6" stroke-linecap="butt"/>
<line x1="375.30" y1="228.80" x2="380.30" y2="228.80" stroke="#111" stroke-width="1.6" stroke-linecap="butt"/>
<line x1="377.70" y1="206.83" x2="380.30" y2="206.83" stroke="#111" stroke-width="1.6" stroke-linecap="butt"/>
<line x1="375.30" y1="184.85" x2="380.30" y2="184.85" stroke="#111" stroke-width="1.6" stroke-linecap="butt"/>
<line x1="377.70" y1="162.88" x2="380.30" y2="162.88" stroke="#111" stroke-width="1.6" stroke-linecap="butt"/>
<line x1="375.30" y1="140.90" x2="380.30" y2="140.90" stroke="#111" stroke-width="1.6" stroke-linecap="butt"/>
<line x1="377.70" y1="118.93" x2="380.30" y2="118.93" stroke="#111" stroke-width="1.6" stroke-linecap="butt"/>
<line x1="375.30" y1="96.95" x2="380.30" y2="96.95" stroke="#111" stroke-width="1.6" stroke-linecap="butt"/>
<line x1="377.70" y1="74.97" x2="380.30" y2="74.97" stroke="#111" stroke-width="1.6" stroke-linecap="butt"/>
<line x1="375.30" y1="53.00" x2="380.30" y2="53.00" stroke="#111" stroke-width="1.6" stroke-linecap="butt"/>
<line x1="377.70" y1="31.03" x2="380.30" y2="31.03" stroke="#111" stroke-width="1.6" stroke-linecap="butt"/>
<line x1="375.30" y1="9.05" x2="380.30" y2="9.05" stroke="#111" stroke-width="1.6" stroke-linecap="butt"/>
<text x="372.50" y="233.30" font-family="Liberation Sans" font-size="13.2" font-weight="normal" text-anchor="end" fill="#222" >0.0</text>
<text x="372.50" y="189.35" font-family="Liberation Sans" font-size="13.2" font-weight="normal" text-anchor="end" fill="#222" >0.2</text>
<text x="372.50" y="145.40" font-family="Liberation Sans" font-size="13.2" font-weight="normal" text-anchor="end" fill="#222" >0.4</text>
<text x="372.50" y="101.45" font-family="Liberation Sans" font-size="13.2" font-weight="normal" text-anchor="end" fill="#222" >0.6</text>
<text x="372.50" y="57.50" font-family="Liberation Sans" font-size="13.2" font-weight="normal" text-anchor="end" fill="#222" >0.8</text>
<text x="372.50" y="13.55" font-family="Liberation Sans" font-size="13.2" font-weight="normal" text-anchor="end" fill="#222" >1.0</text>
<line x1="395.50" y1="250.90" x2="395.50" y2="255.90" stroke="#111" stroke-width="1.6" stroke-linecap="butt"/>
<line x1="418.50" y1="250.90" x2="418.50" y2="253.50" stroke="#111" stroke-width="1.6" stroke-linecap="butt"/>
<line x1="441.50" y1="250.90" x2="441.50" y2="255.90" stroke="#111" stroke-width="1.6" stroke-linecap="butt"/>
<line x1="464.50" y1="250.90" x2="464.50" y2="253.50" stroke="#111" stroke-width="1.6" stroke-linecap="butt"/>
<line x1="487.50" y1="250.90" x2="487.50" y2="255.90" stroke="#111" stroke-width="1.6" stroke-linecap="butt"/>
<line x1="510.50" y1="250.90" x2="510.50" y2="253.50" stroke="#111" stroke-width="1.6" stroke-linecap="butt"/>
<text x="395.50" y="270.00" font-family="Liberation Sans" font-size="13.2" font-weight="normal" text-anchor="middle" fill="#222" >2100</text>
<text x="441.50" y="270.00" font-family="Liberation Sans" font-size="13.2" font-weight="normal" text-anchor="middle" fill="#222" >1800</text>
<text x="487.50" y="270.00" font-family="Liberation Sans" font-size="13.2" font-weight="normal" text-anchor="middle" fill="#222" >1500</text>
<text x="533.50" y="270.00" font-family="Liberation Sans" font-size="13.2" font-weight="normal" text-anchor="middle" fill="#222" >1200</text>
<rect x="380.30" y="9.60" width="152.50" height="241.30" fill="none" stroke="#111" stroke-width="2.0"/>
<text x="460.40" y="284.50" font-family="Liberation Sans" font-size="12.6" font-weight="bold" text-anchor="middle" fill="#111" >Wavenumber (cm<tspan dy="-5" font-size="7" font-weight="normal">−1</tspan><tspan dy="5">)</tspan></text>
<text x="0.00" y="0.00" font-family="Liberation Sans" font-size="14.3" font-weight="bold" text-anchor="middle" fill="#111" transform="translate(345.5,127.7) rotate(-90)">Absorbance (a.u.)</text>
<text x="388.30" y="23.00" font-family="Liberation Serif" font-size="11.6" font-weight="bold" text-anchor="start" fill="#111" >(B)</text>
<polyline points="381.0,227.6 381.5,227.5 382.1,227.6 382.7,227.5 383.5,227.5 384.4,227.7 385.3,227.5 386.3,227.4 387.4,227.5 388.5,227.3 389.8,227.3 391.0,227.5 392.4,227.6 393.7,227.4 395.2,227.3 396.6,227.5 398.1,227.3 399.6,227.4 401.2,227.4 402.7,227.4 404.3,227.5 405.9,227.5 407.5,227.4 409.1,227.4 410.7,227.4 412.2,227.3 413.8,227.2 415.3,227.0 416.8,227.0 418.3,227.2 419.7,227.2 421.1,227.0 422.5,227.1 423.8,227.0 425.0,227.1 426.2,227.0 427.4,226.9 428.4,226.8 429.4,226.9 430.3,226.9 431.1,227.0 431.8,227.1 432.5,227.2 433.0,227.2 435.7,227.3 437.3,227.8 438.1,228.0 438.5,228.5 439.0,228.8 440.0,228.9 440.7,228.7 441.7,228.7 442.8,228.6 444.1,228.4 445.5,228.4 446.9,228.3 448.4,228.0 449.9,227.8 451.3,227.8 452.6,227.5 453.8,227.9 454.8,227.7 455.6,227.4 456.3,226.8 457.1,225.4 457.9,224.7 458.8,223.0 459.7,221.5 460.5,220.3 461.4,218.9 462.2,217.4 463.0,216.6 463.7,216.3 464.3,214.7 464.9,213.9 465.3,214.3 466.3,214.0 467.2,214.8 468.0,216.2 469.2,218.3 469.6,218.7 470.1,219.2 470.7,220.0 471.4,221.4 472.2,221.9 473.0,223.3 473.8,224.9 474.7,225.6 475.6,227.0 476.5,228.3 477.3,229.8 478.2,230.9 479.0,231.8 479.7,232.4 480.3,233.0 480.9,234.0 481.8,233.6 482.9,233.2 484.1,232.8 485.3,232.1 486.7,231.6 488.0,231.1 489.3,231.0 490.5,230.9 491.6,229.7 492.6,229.6 493.5,229.2 494.7,229.7 495.9,230.1 497.3,229.9 498.8,229.0 500.3,229.0 501.7,229.0 503.1,229.0 504.3,228.6 505.4,228.1 506.3,228.5 507.4,228.6 508.5,227.8 509.7,227.1 511.0,226.0 512.3,225.7 513.6,225.6 514.8,225.1 516.0,224.4 516.8,224.2 517.8,225.0 519.0,225.3 520.4,225.1 521.8,225.5 523.4,225.3 524.9,225.9 526.5,225.8 527.9,226.1 529.3,226.7 530.5,227.0 531.6,227.1 532.4,227.6 533.0,227.7" fill="none" stroke="#EB8B46" stroke-width="1.5" stroke-linejoin="round" stroke-linecap="round"/>
<polyline points="381.0,214.4 381.5,214.3 382.1,214.4 382.7,214.4 383.5,214.4 384.4,214.3 385.3,214.3 386.3,214.2 387.4,214.0 388.5,214.0 389.8,213.8 391.0,214.0 392.4,214.1 393.7,213.8 395.2,213.7 396.6,213.7 398.1,213.5 399.6,213.3 401.2,213.2 402.7,213.2 404.3,213.2 405.9,213.4 407.5,213.1 409.1,213.2 410.7,213.1 412.2,213.1 413.8,213.0 415.3,212.7 416.8,212.7 418.3,212.5 419.7,212.3 421.1,212.3 422.5,212.4 423.8,212.4 425.0,212.2 426.2,212.3 427.4,212.4 428.4,212.2 429.4,212.1 430.3,212.1 431.1,212.2 431.8,212.0 432.5,212.0 433.0,212.2 436.1,212.2 437.7,212.5 438.4,212.9 438.9,213.1 440.0,213.0 440.7,212.9 441.7,212.8 442.8,212.6 444.1,212.6 445.4,212.3 446.9,212.1 448.3,212.0 449.8,211.8 451.2,211.9 452.5,211.5 453.7,210.7 454.8,210.8 455.6,210.8 456.5,210.3 457.6,209.7 458.8,208.7 460.0,207.6 461.3,206.7 462.5,205.3 463.7,204.8 464.8,204.3 465.8,203.1 466.6,202.9 467.3,202.7 468.6,202.0 469.8,201.8 471.1,202.7 472.2,203.2 473.1,203.9 473.7,204.8 474.4,205.9 475.2,207.2 476.0,208.4 476.8,209.3 477.6,209.9 478.4,210.7 479.0,211.4 479.9,212.5 481.1,213.8 482.4,214.3 483.7,215.0 484.8,216.2 485.8,216.1 486.7,216.0 487.7,215.4 488.9,214.7 490.1,213.6 491.4,212.8 492.6,212.4 493.4,211.6 494.4,211.8 495.7,211.8 497.0,210.8 498.5,210.3 500.0,209.9 501.5,209.4 502.9,209.1 504.2,209.4 505.4,208.8 506.3,208.4 507.4,209.1 508.6,208.7 510.0,208.5 511.4,208.2 512.8,207.7 514.2,207.5 515.6,207.1 516.9,207.2 518.0,207.0 518.9,206.8 520.1,206.8 521.4,207.2 522.9,208.0 524.4,208.2 526.0,208.8 527.6,208.6 529.0,208.5 530.4,209.0 531.5,208.7 532.4,209.5 533.0,209.2" fill="none" stroke="#0C9188" stroke-width="1.5" stroke-linejoin="round" stroke-linecap="round"/>
<polyline points="381.0,199.9 381.5,200.1 382.1,199.9 382.7,199.8 383.5,199.8 384.4,199.6 385.3,199.5 386.3,199.7 387.4,199.6 388.5,199.7 389.8,199.9 391.0,199.7 392.4,199.7 393.7,199.4 395.2,199.6 396.6,199.4 398.1,199.5 399.6,199.4 401.2,199.5 402.7,199.5 404.3,199.3 405.9,199.1 407.5,198.9 409.1,199.1 410.7,199.1 412.2,198.9 413.8,198.8 415.3,198.9 416.8,198.9 418.3,198.9 419.7,198.8 421.1,198.9 422.5,198.6 423.8,198.8 425.0,198.8 426.2,198.9 427.4,198.6 428.4,198.4 429.4,198.4 430.3,198.3 431.1,198.4 431.8,198.3 432.5,198.2 433.0,198.2 436.1,198.3 437.5,198.3 438.2,198.0 438.7,197.7 440.0,197.4 440.7,197.5 441.6,197.3 442.6,197.2 443.8,197.2 445.1,197.0 446.5,197.0 448.0,196.8 449.5,196.7 451.0,197.0 452.4,197.2 453.9,197.1 455.3,196.9 456.5,197.0 457.7,196.0 458.7,195.4 459.5,195.1 460.5,195.4 461.5,195.1 462.6,194.2 463.8,193.1 465.1,192.0 466.3,191.6 467.5,190.6 468.7,189.2 469.8,188.0 470.8,187.1 471.7,186.4 472.5,186.4 473.1,186.3 474.0,187.0 474.8,187.2 475.6,188.4 476.4,189.6 477.1,191.7 477.8,193.2 478.4,194.2 479.0,195.3 480.0,195.5 481.2,196.7 482.5,196.9 483.7,197.9 484.8,197.7 485.6,197.7 486.6,196.9 487.7,195.5 489.0,194.9 490.2,193.6 491.5,192.9 492.6,192.7 493.4,193.0 494.5,192.3 495.8,192.2 497.2,192.0 498.7,192.8 500.2,192.9 501.7,192.2 503.1,192.2 504.4,192.9 505.5,192.2 506.3,192.4 507.5,192.2 508.7,191.3 510.0,191.3 511.3,190.1 512.6,189.3 514.1,189.1 514.9,189.6 515.9,189.5 517.1,189.6 518.4,190.4 519.9,190.7 521.5,191.2 523.1,190.8 524.7,190.7 526.3,190.7 527.8,191.3 529.2,191.6 530.5,192.0 531.6,192.2 532.4,192.6 533.0,192.6" fill="none" stroke="#6262C0" stroke-width="1.5" stroke-linejoin="round" stroke-linecap="round"/>
<polyline points="381.0,184.8 381.5,184.6 382.1,184.7 382.7,184.5 383.5,184.7 384.4,184.5 385.3,184.3 386.3,184.3 387.4,184.2 388.5,184.0 389.8,184.0 391.0,184.0 392.4,183.8 393.7,184.0 395.2,183.8 396.6,183.8 398.1,183.6 399.6,183.3 401.2,183.3 402.7,183.3 404.3,183.2 405.9,183.1 407.5,182.8 409.1,182.6 410.7,182.5 412.2,182.5 413.8,182.6 415.3,182.4 416.8,182.4 418.3,182.1 419.7,182.0 421.1,182.0 422.5,182.0 423.8,182.0 425.0,181.7 426.2,181.6 427.4,181.5 428.4,181.6 429.4,181.5 430.3,181.5 431.1,181.5 431.8,181.5 432.5,181.4 433.0,181.5 436.1,181.1 437.7,181.2 438.4,180.9 438.9,181.1 440.0,181.2 440.7,181.1 441.7,180.9 442.9,180.9 444.2,180.9 445.7,180.7 447.2,180.5 448.7,180.3 450.2,179.6 451.6,179.9 452.9,179.7 454.0,180.0 454.9,179.4 455.6,179.7 457.0,180.0 458.0,181.1 458.8,182.8 459.5,183.3 460.5,183.0 461.7,182.0 463.1,180.5 464.4,179.3 465.0,179.1 465.9,178.9 466.8,177.9 467.9,176.2 469.0,175.6 470.1,174.0 471.2,172.6 472.2,172.2 473.1,172.0 473.9,171.7 475.0,172.9 476.2,173.1 477.6,173.9 479.0,174.3 480.4,174.9 481.7,176.6 482.9,177.8 484.0,178.2 484.8,177.7 486.0,177.4 487.3,176.8 488.6,175.9 490.0,175.9 491.3,175.3 492.6,174.4 493.4,174.4 494.5,174.6 495.8,174.8 497.2,174.9 498.7,174.6 500.2,175.2 501.7,174.7 503.1,174.9 504.4,175.3 505.5,174.7 506.3,174.3 507.4,174.8 508.5,174.4 509.6,173.2 510.7,172.7 511.8,171.5 512.9,171.6 514.1,170.8 514.9,170.6 515.9,170.7 517.1,171.3 518.4,172.1 519.8,171.9 521.3,172.6 522.9,172.7 524.3,173.0 525.7,173.5 527.0,173.4 528.1,173.9 529.0,173.8 529.7,173.6 531.5,173.5 532.5,172.6 533.0,172.0" fill="none" stroke="#CF2F86" stroke-width="1.5" stroke-linejoin="round" stroke-linecap="round"/>
<polyline points="381.0,169.7 381.5,169.8 382.1,169.8 382.7,169.5 383.5,169.3 384.4,169.3 385.3,169.3 386.3,169.3 387.4,169.3 388.5,169.5 389.8,169.4 391.0,169.3 392.4,169.2 393.7,169.3 395.2,169.3 396.6,169.0 398.1,169.1 399.6,168.9 401.2,168.7 402.7,168.7 404.3,168.5 405.9,168.6 407.5,168.7 409.1,168.5 410.7,168.4 412.2,168.4 413.8,168.3 415.3,168.2 416.8,168.1 418.3,167.9 419.7,168.1 421.1,168.0 422.5,168.1 423.8,168.0 425.0,167.8 426.2,167.8 427.4,167.6 428.4,167.7 429.4,167.7 430.3,167.7 431.1,167.5 431.8,167.6 432.5,167.6 433.0,167.3 435.8,167.0 437.4,166.7 438.3,166.3 438.7,166.0 439.2,165.5 440.0,165.3 440.9,165.0 442.1,165.1 443.4,164.9 445.0,164.6 446.5,164.5 448.0,164.3 449.5,164.3 450.7,163.8 451.7,163.8 452.6,164.1 453.6,165.5 454.8,166.6 456.0,167.9 457.1,168.1 458.3,168.5 459.5,169.7 460.5,169.8 461.4,170.5 462.1,170.6 462.8,169.2 463.8,169.0 464.7,167.7 465.8,167.0 466.9,165.4 468.0,163.8 469.0,163.3 470.0,161.8 471.0,161.3 471.8,160.9 472.5,160.0 473.1,159.7 474.1,160.0 475.2,160.1 476.2,161.3 477.2,162.2 478.2,163.6 479.0,164.4 480.0,164.2 481.4,163.5 482.9,163.3 484.4,163.4 485.8,163.3 486.8,162.9 487.9,161.5 489.1,160.2 490.4,159.3 491.6,158.6 492.6,158.2 493.7,158.0 495.1,158.9 496.7,158.8 498.5,158.5 499.2,158.1 500.1,158.0 501.2,157.5 502.4,156.9 503.7,156.6 505.1,156.5 506.5,156.0 507.9,154.6 509.4,153.7 510.7,153.6 512.0,153.7 513.1,153.4 514.1,152.9 515.0,152.3 516.2,152.9 517.5,152.5 518.9,152.3 520.4,152.6 522.0,152.5 523.5,153.0 525.1,153.7 526.5,153.7 527.9,153.5 529.1,153.5 530.2,154.1 531.0,154.2 531.6,154.6" fill="none" stroke="#EE8AB0" stroke-width="1.5" stroke-linejoin="round" stroke-linecap="round"/>
<polyline points="381.0,156.0 381.5,155.9 382.1,155.7 382.7,155.7 383.5,155.8 384.4,155.7 385.3,155.6 386.3,155.4 387.4,155.3 388.5,155.2 389.8,155.0 391.0,154.9 392.4,154.7 393.7,154.8 395.2,154.7 396.6,154.6 398.1,154.5 399.6,154.4 401.2,154.1 402.7,154.2 404.3,154.0 405.9,153.9 407.5,153.6 409.1,153.4 410.7,153.1 412.2,153.1 413.8,153.0 415.3,153.0 416.8,152.7 418.3,152.7 419.7,152.6 421.1,152.5 422.5,152.1 423.8,152.1 425.0,152.1 426.2,152.0 427.4,151.7 428.4,151.6 429.4,151.4 430.3,151.2 431.1,151.3 431.8,151.2 432.5,151.3 433.0,151.0 435.7,150.4 437.2,149.9 438.0,149.0 438.4,148.4 439.0,148.0 440.0,147.7 440.7,147.8 441.7,147.9 442.9,147.9 444.3,148.1 445.8,148.4 447.3,148.2 448.9,148.6 450.5,148.4 452.0,148.6 453.4,148.6 454.8,148.5 455.9,149.1 456.8,149.0 457.5,149.5 458.9,151.0 459.7,152.5 460.4,153.0 461.4,153.2 462.1,153.7 463.0,153.3 464.2,153.4 465.5,152.5 466.8,151.9 468.2,151.1 469.6,150.0 470.9,149.7 472.1,149.2 473.1,148.6 473.9,148.8 474.8,148.3 475.9,147.0 477.1,145.8 478.3,144.8 479.6,143.9 480.9,143.1 482.1,142.1 483.3,142.1 484.4,141.3 485.4,140.6 486.2,140.1 486.8,139.8 488.3,138.8 489.5,138.1 490.6,137.7 491.7,137.3 492.5,137.7 493.6,138.0 494.9,138.7 496.3,139.6 497.7,140.4 499.1,140.9 500.4,141.2 501.1,141.3 502.0,141.0 503.0,140.1 504.1,139.1 505.4,138.5 506.7,137.7 508.0,137.7 509.3,137.3 510.6,136.0 511.9,135.8 513.1,135.4 514.2,134.8 515.2,134.2 516.0,133.6 517.0,133.5 518.3,132.9 519.7,132.7 521.1,132.9 522.6,132.5 524.1,133.1 525.6,132.6 526.9,132.2 528.1,132.5 529.0,132.3 529.7,132.4 531.9,132.7 533.0,133.0" fill="none" stroke="#D8A070" stroke-width="1.5" stroke-linejoin="round" stroke-linecap="round"/>
<polyline points="381.0,141.6 381.5,141.7 382.1,141.5 382.7,141.5 383.5,141.4 384.4,141.5 385.3,141.3 386.3,141.0 387.4,140.9 388.5,140.9 389.8,140.9 391.0,140.6 392.4,140.3 393.7,140.3 395.2,140.0 396.6,139.8 398.1,139.9 399.6,139.8 401.2,139.5 402.7,139.3 404.3,139.1 405.9,139.0 407.5,138.7 409.1,138.6 410.7,138.4 412.2,138.1 413.8,137.9 415.3,137.9 416.8,137.6 418.3,137.6 419.7,137.4 421.1,137.3 422.5,137.2 423.8,137.1 425.0,136.8 426.2,136.5 427.4,136.5 428.4,136.6 429.4,136.2 430.3,136.2 431.1,136.2 431.8,136.1 432.5,135.9 433.0,135.6 435.7,135.2 437.3,135.0 438.2,134.6 438.6,134.2 439.1,134.0 440.0,133.6 440.8,133.4 441.9,133.0 443.2,132.4 444.6,132.2 446.1,131.6 447.6,130.9 449.1,130.5 450.5,129.9 451.8,130.1 452.8,129.7 453.6,129.7 454.7,130.3 455.9,131.7 456.9,132.1 457.9,133.1 458.8,134.8 459.5,135.4 460.6,136.4 461.8,137.8 463.1,138.5 464.4,138.7 465.2,138.3 466.2,137.3 467.3,136.9 468.6,136.5 469.9,134.7 471.2,134.3 472.2,133.8 473.1,133.3 474.0,132.7 475.1,132.1 476.3,130.7 477.5,130.3 478.7,128.8 479.9,128.3 480.9,127.2 481.6,126.5 482.5,126.5 483.6,125.3 484.7,124.8 485.9,123.3 487.1,122.9 488.3,121.5 489.4,120.1 490.4,119.2 491.1,118.7 491.7,118.2 493.4,118.3 494.6,119.7 495.5,120.4 496.7,121.7 498.1,122.9 499.4,123.3 500.4,124.2 501.4,123.3 502.5,123.0 503.8,122.0 505.1,121.5 506.3,120.9 507.0,120.8 507.9,119.6 509.0,118.3 510.2,118.2 511.4,116.6 512.7,116.2 513.9,114.9 515.0,114.2 516.0,113.9 516.9,113.6 518.0,113.8 519.4,113.1 520.8,112.7 522.4,113.1 523.9,112.8 525.4,112.1 526.8,112.4 528.0,111.8 529.0,112.4 529.7,112.0 531.9,112.0 533.0,113.0" fill="none" stroke="#3DB89A" stroke-width="1.5" stroke-linejoin="round" stroke-linecap="round"/>
<polyline points="381.0,126.8 381.5,126.6 382.0,126.7 382.7,126.7 383.5,126.7 384.3,126.5 385.2,126.5 386.2,126.5 387.3,126.3 388.4,126.2 389.6,125.9 390.9,125.6 392.2,125.7 393.5,125.7 394.9,125.5 396.3,125.3 397.8,124.9 399.3,124.7 400.8,124.7 402.4,124.3 403.9,124.2 405.5,124.0 407.0,124.1 408.6,123.7 410.2,123.4 411.7,123.3 413.3,123.4 414.8,123.2 416.3,123.1 417.8,123.0 419.2,122.8 420.6,122.8 422.0,122.5 423.3,122.0 424.6,121.8 425.8,121.9 427.0,121.7 428.1,121.7 429.1,121.5 430.0,121.5 430.9,121.2 431.7,121.2 432.4,121.1 433.0,121.1 434.6,120.6 436.1,120.1 437.6,119.8 439.1,119.3 440.5,118.7 441.8,118.3 443.0,118.0 444.2,117.5 445.3,116.8 446.3,116.3 447.2,116.0 448.1,115.6 448.8,115.1 449.5,114.7 450.0,114.7 451.8,114.5 452.7,113.6 453.6,114.2 454.3,114.3 455.3,115.1 456.5,116.7 457.7,117.8 458.7,118.1 459.5,118.8 460.3,119.8 461.3,121.3 462.4,122.8 463.4,123.9 464.4,123.8 465.2,123.8 466.2,123.2 467.3,122.2 468.6,121.3 469.9,120.4 471.2,119.9 472.2,119.2 473.1,118.1 473.9,117.4 474.8,117.0 475.8,116.0 476.9,114.6 478.0,114.3 479.0,113.0 480.0,112.7 480.9,111.6 481.6,110.7 482.5,110.2 483.6,109.4 484.7,108.4 485.9,107.9 487.1,107.2 488.3,105.8 489.4,105.3 490.4,104.7 491.1,104.0 491.7,103.8 493.4,103.8 494.6,104.7 495.5,104.6 496.7,105.9 498.1,106.5 499.4,108.1 500.4,108.4 501.4,108.1 502.5,107.4 503.8,106.2 505.1,105.3 506.3,104.2 507.0,103.5 507.9,102.9 509.0,102.5 510.2,101.5 511.4,100.9 512.7,100.5 513.9,99.6 515.0,98.5 516.0,98.1 516.9,98.1 518.0,98.5 519.4,98.7 520.8,97.7 522.4,98.0 523.9,98.1 525.4,98.0 526.8,98.2 528.0,97.4 529.0,97.7 529.7,97.6 531.9,97.3 533.0,98.0" fill="none" stroke="#6EA4CF" stroke-width="1.5" stroke-linejoin="round" stroke-linecap="round"/>
<polyline points="381.0,112.3 381.5,112.3 382.0,112.3 382.7,112.0 383.5,112.1 384.3,112.1 385.2,111.9 386.2,111.8 387.3,111.6 388.4,111.3 389.6,111.2 390.9,111.0 392.2,110.6 393.5,110.5 394.9,110.4 396.3,110.1 397.8,110.1 399.3,109.6 400.8,109.4 402.4,109.1 403.9,108.9 405.5,108.9 407.0,108.7 408.6,108.5 410.2,108.3 411.7,108.0 413.3,107.9 414.8,107.5 416.3,107.2 417.8,107.1 419.2,107.0 420.6,106.9 422.0,106.7 423.3,106.4 424.6,106.3 425.8,105.9 427.0,105.8 428.1,105.6 429.1,105.4 430.0,105.3 430.9,105.1 431.7,105.2 432.4,105.0 433.0,104.6 434.6,104.2 436.1,104.0 437.6,103.4 439.1,102.8 440.5,102.3 441.8,101.5 443.0,100.9 444.2,100.5 445.3,99.7 446.3,99.1 447.2,98.7 448.1,98.4 448.8,97.7 449.5,97.2 450.0,97.3 451.8,96.9 452.7,96.6 453.6,97.8 454.5,98.2 455.8,98.9 457.2,99.9 458.5,100.6 459.5,101.7 460.2,102.0 461.0,103.9 461.8,105.0 462.7,106.3 463.6,107.4 464.4,108.5 465.2,108.8 466.2,107.7 467.3,106.7 468.6,106.4 469.9,105.4 471.2,104.5 472.2,104.3 473.1,103.5 473.8,103.3 474.6,101.8 475.5,101.0 476.4,100.1 477.4,99.1 478.3,97.5 479.3,96.9 480.1,95.9 480.9,94.6 481.5,93.9 482.2,92.8 483.1,92.0 484.0,90.9 485.0,90.0 486.0,88.7 487.0,87.3 488.0,85.8 489.0,84.7 489.9,83.9 490.6,83.3 491.2,82.7 491.7,81.6 493.4,81.0 494.6,82.5 495.3,83.5 496.3,84.3 497.4,85.4 498.5,87.1 499.6,87.6 500.4,87.6 501.4,87.9 502.5,87.5 503.8,85.8 505.1,85.2 506.3,84.5 506.9,83.3 507.7,82.0 508.7,81.6 509.7,80.4 510.8,78.7 511.9,78.0 513.0,77.5 514.1,76.5 515.1,75.6 516.0,75.0 516.9,74.9 518.0,75.3 519.4,75.6 520.8,75.3 522.4,75.6 523.9,75.8 525.4,76.2 526.8,75.9 528.0,76.0 529.0,75.9 529.7,76.1 531.4,75.4 532.4,73.4 533.0,73.0" fill="none" stroke="#E91E7A" stroke-width="1.5" stroke-linejoin="round" stroke-linecap="round"/>
<polyline points="381.0,97.0 381.5,97.2 382.1,97.0 382.7,96.7 383.5,96.7 384.4,96.5 385.3,96.5 386.3,96.3 387.4,96.1 388.5,96.1 389.8,95.7 391.0,95.5 392.4,95.3 393.7,95.1 395.2,95.2 396.6,94.7 398.1,94.6 399.6,94.3 401.2,94.0 402.7,93.8 404.3,93.8 405.9,93.5 407.5,93.5 409.1,93.2 410.7,92.9 412.2,92.5 413.8,92.2 415.3,91.9 416.8,92.0 418.3,92.0 419.7,91.9 421.1,91.6 422.5,91.5 423.8,91.2 425.0,90.9 426.2,90.9 427.4,90.6 428.4,90.3 429.4,90.2 430.3,90.2 431.1,90.1 431.8,89.9 432.5,89.8 433.0,89.6 435.7,89.0 437.3,88.4 438.2,87.5 438.6,87.1 439.1,86.6 440.0,86.0 440.7,85.5 441.7,85.1 442.8,84.5 444.1,83.7 445.4,83.3 446.8,82.7 448.2,81.9 449.6,81.3 450.9,80.5 452.0,80.7 452.9,80.1 453.6,80.4 455.0,80.3 456.3,81.0 457.5,81.7 458.6,82.3 459.5,83.1 460.1,84.0 460.7,85.5 461.5,86.7 462.2,88.5 463.0,89.7 463.7,90.7 464.4,91.3 465.3,91.3 466.5,91.1 467.9,90.7 469.4,90.1 470.8,88.7 472.1,87.8 473.1,87.0 473.8,86.8 474.7,86.3 475.6,85.4 476.6,84.5 477.6,83.2 478.6,82.3 479.5,81.6 480.3,81.1 480.9,80.1 481.4,79.5 482.0,77.9 482.6,77.2 483.3,75.9 484.0,74.6 484.6,73.6 485.3,72.4 485.9,70.9 486.4,69.8 486.8,69.7 487.5,68.6 488.4,67.7 489.4,66.1 490.3,65.2 491.1,64.3 491.7,63.7 493.1,63.7 494.6,64.7 495.3,65.2 496.3,66.1 497.4,67.9 498.6,69.1 499.5,69.2 500.4,69.0 501.5,68.9 502.8,68.0 504.1,67.2 505.3,66.2 506.3,64.5 506.8,63.9 507.5,63.4 508.2,62.6 508.9,61.6 509.7,59.7 510.6,58.2 511.4,57.2 512.2,55.7 512.9,54.4 513.5,53.9 514.1,53.8 515.2,53.0 516.5,52.5 518.0,52.1 519.5,51.3 520.8,51.7 521.9,52.1 523.0,52.5 524.4,52.5 526.0,52.7 527.5,53.6 528.8,53.4 529.7,53.0 531.0,53.0 532.3,51.5 533.0,50.7" fill="none" stroke="#F28A1A" stroke-width="1.5" stroke-linejoin="round" stroke-linecap="round"/>
<line x1="473.10" y1="78.00" x2="473.10" y2="187.00" stroke="#111" stroke-width="1.4" stroke-linecap="butt" stroke-dasharray="4,3"/>
<line x1="492.20" y1="59.50" x2="492.20" y2="227.00" stroke="#111" stroke-width="1.4" stroke-linecap="butt" stroke-dasharray="4,3"/>
<line x1="465.30" y1="181.00" x2="465.30" y2="230.00" stroke="#111" stroke-width="1.4" stroke-linecap="butt" stroke-dasharray="4,3"/>
<text x="471.00" y="68.30" font-family="Liberation Serif" font-size="6.6" font-weight="bold" text-anchor="middle" fill="#222" >HCOO<tspan dy="-3" font-size="4.5">−</tspan></text>
<text x="471.50" y="76.00" font-family="Liberation Sans" font-size="7" font-weight="bold" text-anchor="middle" fill="#222" >1603</text>
<text x="497.00" y="47.80" font-family="Liberation Serif" font-size="6.6" font-weight="bold" text-anchor="middle" fill="#222" >b-CO<tspan dy="2" font-size="4.5">3</tspan><tspan dy="-5" font-size="4.5">2−</tspan></text>
<text x="494.00" y="57.50" font-family="Liberation Sans" font-size="7" font-weight="bold" text-anchor="middle" fill="#222" >1458</text>
<text x="462.50" y="240.40" font-family="Liberation Sans" font-size="6.6" font-weight="bold" text-anchor="middle" fill="#222" >HCO<tspan dy="2" font-size="4.5">3</tspan><tspan dy="-5" font-size="4.5">−</tspan></text>
<text x="462.50" y="248.20" font-family="Liberation Sans" font-size="7" font-weight="bold" text-anchor="middle" fill="#222" >1649</text>
<text x="435.60" y="88.90" font-family="Liberation Sans" font-size="8.1" font-weight="bold" text-anchor="end" fill="#222" stroke="#222" stroke-width="0.2">500°C</text>
<text x="435.60" y="104.90" font-family="Liberation Sans" font-size="8.1" font-weight="bold" text-anchor="end" fill="#222" stroke="#222" stroke-width="0.2">450°C</text>
<text x="435.60" y="120.90" font-family="Liberation Sans" font-size="8.1" font-weight="bold" text-anchor="end" fill="#222" stroke="#222" stroke-width="0.2">400°C</text>
<text x="435.60" y="134.90" font-family="Liberation Sans" font-size="8.1" font-weight="bold" text-anchor="end" fill="#222" stroke="#222" stroke-width="0.2">350°C</text>
<text x="435.60" y="148.90" font-family="Liberation Sans" font-size="8.1" font-weight="bold" text-anchor="end" fill="#222" stroke="#222" stroke-width="0.2">300°C</text>
<text x="435.60" y="163.90" font-family="Liberation Sans" font-size="8.1" font-weight="bold" text-anchor="end" fill="#222" stroke="#222" stroke-width="0.2">250°C</text>
<text x="435.60" y="179.30" font-family="Liberation Sans" font-size="8.1" font-weight="bold" text-anchor="end" fill="#222" stroke="#222" stroke-width="0.2">200°C</text>
<text x="435.60" y="194.60" font-family="Liberation Sans" font-size="8.1" font-weight="bold" text-anchor="end" fill="#222" stroke="#222" stroke-width="0.2">150°C</text>
<text x="435.60" y="209.90" font-family="Liberation Sans" font-size="8.1" font-weight="bold" text-anchor="end" fill="#222" stroke="#222" stroke-width="0.2">100°C</text>
<text x="435.60" y="226.50" font-family="Liberation Sans" font-size="8.1" font-weight="bold" text-anchor="end" fill="#222" stroke="#222" stroke-width="0.2">50°C</text>
<rect x="31.10" y="304.90" width="150.10" height="221.60" fill="none" stroke="#111" stroke-width="2.0"/>
<line x1="46.20" y1="526.50" x2="46.20" y2="531.50" stroke="#111" stroke-width="1.6" stroke-linecap="butt"/>
<line x1="68.55" y1="526.50" x2="68.55" y2="529.10" stroke="#111" stroke-width="1.6" stroke-linecap="butt"/>
<line x1="90.90" y1="526.50" x2="90.90" y2="531.50" stroke="#111" stroke-width="1.6" stroke-linecap="butt"/>
<line x1="113.25" y1="526.50" x2="113.25" y2="529.10" stroke="#111" stroke-width="1.6" stroke-linecap="butt"/>
<line x1="135.60" y1="526.50" x2="135.60" y2="531.50" stroke="#111" stroke-width="1.6" stroke-linecap="butt"/>
<line x1="157.95" y1="526.50" x2="157.95" y2="529.10" stroke="#111" stroke-width="1.6" stroke-linecap="butt"/>
<line x1="180.30" y1="526.50" x2="180.30" y2="531.50" stroke="#111" stroke-width="1.6" stroke-linecap="butt"/>
<text x="46.20" y="543.60" font-family="Liberation Sans" font-size="13.0" font-weight="normal" text-anchor="middle" fill="#222" >2100</text>
<text x="90.90" y="543.60" font-family="Liberation Sans" font-size="13.0" font-weight="normal" text-anchor="middle" fill="#222" >1800</text>
<text x="135.60" y="543.60" font-family="Liberation Sans" font-size="13.0" font-weight="normal" text-anchor="middle" fill="#222" >1500</text>
<text x="180.30" y="543.60" font-family="Liberation Sans" font-size="13.0" font-weight="normal" text-anchor="middle" fill="#222" >1200</text>
<text x="111.20" y="556.50" font-family="Liberation Sans" font-size="12.3" font-weight="bold" text-anchor="middle" fill="#111" >Wavenumber (cm<tspan dy="-5" font-size="7" font-weight="normal">−1</tspan><tspan dy="5">)</tspan></text>
<text x="0.00" y="0.00" font-family="Liberation Sans" font-size="15.5" font-weight="bold" text-anchor="middle" fill="#111" transform="translate(19.5,418.8) rotate(-90)">Absorbance (a.u.)</text>
<text x="36.90" y="318.40" font-family="Liberation Serif" font-size="11.6" font-weight="bold" text-anchor="start" fill="#111" >(C)</text>
<rect x="204.00" y="303.90" width="149.20" height="221.70" fill="none" stroke="#111" stroke-width="2.0"/>
<line x1="219.00" y1="525.60" x2="219.00" y2="530.60" stroke="#111" stroke-width="1.6" stroke-linecap="butt"/>
<line x1="241.35" y1="525.60" x2="241.35" y2="528.20" stroke="#111" stroke-width="1.6" stroke-linecap="butt"/>
<line x1="263.70" y1="525.60" x2="263.70" y2="530.60" stroke="#111" stroke-width="1.6" stroke-linecap="butt"/>
<line x1="286.05" y1="525.60" x2="286.05" y2="528.20" stroke="#111" stroke-width="1.6" stroke-linecap="butt"/>
<line x1="308.40" y1="525.60" x2="308.40" y2="530.60" stroke="#111" stroke-width="1.6" stroke-linecap="butt"/>
<line x1="330.75" y1="525.60" x2="330.75" y2="528.20" stroke="#111" stroke-width="1.6" stroke-linecap="butt"/>
<text x="219.00" y="543.60" font-family="Liberation Sans" font-size="13.0" font-weight="normal" text-anchor="middle" fill="#222" >2100</text>
<text x="263.70" y="543.60" font-family="Liberation Sans" font-size="13.0" font-weight="normal" text-anchor="middle" fill="#222" >1800</text>
<text x="308.40" y="543.60" font-family="Liberation Sans" font-size="13.0" font-weight="normal" text-anchor="middle" fill="#222" >1500</text>
<text x="353.10" y="543.60" font-family="Liberation Sans" font-size="13.0" font-weight="normal" text-anchor="middle" fill="#222" >1200</text>
<text x="281.50" y="556.50" font-family="Liberation Sans" font-size="12.3" font-weight="bold" text-anchor="middle" fill="#111" >Wavenumber (cm<tspan dy="-5" font-size="7" font-weight="normal">−1</tspan><tspan dy="5">)</tspan></text>
<text x="0.00" y="0.00" font-family="Liberation Sans" font-size="15.5" font-weight="bold" text-anchor="middle" fill="#111" transform="translate(198.7,418.8) rotate(-90)">Absorbance (a.u.)</text>
<text x="212.00" y="318.40" font-family="Liberation Serif" font-size="11.6" font-weight="bold" text-anchor="start" fill="#111" >(D)</text>
<rect x="378.40" y="304.70" width="149.60" height="221.10" fill="none" stroke="#111" stroke-width="2.0"/>
<line x1="393.70" y1="525.80" x2="393.70" y2="530.80" stroke="#111" stroke-width="1.6" stroke-linecap="butt"/>
<line x1="416.05" y1="525.80" x2="416.05" y2="528.40" stroke="#111" stroke-width="1.6" stroke-linecap="butt"/>
<line x1="438.40" y1="525.80" x2="438.40" y2="530.80" stroke="#111" stroke-width="1.6" stroke-linecap="butt"/>
<line x1="460.75" y1="525.80" x2="460.75" y2="528.40" stroke="#111" stroke-width="1.6" stroke-linecap="butt"/>
<line x1="483.10" y1="525.80" x2="483.10" y2="530.80" stroke="#111" stroke-width="1.6" stroke-linecap="butt"/>
<line x1="505.45" y1="525.80" x2="505.45" y2="528.40" stroke="#111" stroke-width="1.6" stroke-linecap="butt"/>
<text x="393.70" y="543.60" font-family="Liberation Sans" font-size="13.0" font-weight="normal" text-anchor="middle" fill="#222" >2100</text>
<text x="438.40" y="543.60" font-family="Liberation Sans" font-size="13.0" font-weight="normal" text-anchor="middle" fill="#222" >1800</text>
<text x="483.10" y="543.60" font-family="Liberation Sans" font-size="13.0" font-weight="normal" text-anchor="middle" fill="#222" >1500</text>
<text x="527.80" y="543.60" font-family="Liberation Sans" font-size="13.0" font-weight="normal" text-anchor="middle" fill="#222" >1200</text>
<text x="461.30" y="556.50" font-family="Liberation Sans" font-size="12.3" font-weight="bold" text-anchor="middle" fill="#111" >Wavenumber (cm<tspan dy="-5" font-size="7" font-weight="normal">−1</tspan><tspan dy="5">)</tspan></text>
<text x="0.00" y="0.00" font-family="Liberation Sans" font-size="15.5" font-weight="bold" text-anchor="middle" fill="#111" transform="translate(370.5,418.8) rotate(-90)">Absorbance (a.u.)</text>
<text x="385.60" y="318.40" font-family="Liberation Serif" font-size="11.6" font-weight="bold" text-anchor="start" fill="#111" >(E)</text>
<polyline points="32.0,512.1 32.3,512.1 32.7,511.9 33.2,512.0 33.8,512.3 34.4,512.1 35.1,512.3 35.9,512.2 36.7,512.3 37.5,512.0 38.4,512.2 39.3,512.1 40.2,512.2 41.2,512.1 42.2,512.3 43.1,512.2 44.1,512.3 45.0,512.2 45.9,512.2 46.8,512.3 47.7,512.2 48.5,512.2 49.3,512.0 50.0,512.1 50.7,512.0 51.3,512.1 51.8,512.1 52.4,512.2 53.0,512.2 53.7,512.0 54.4,512.1 55.2,511.9 55.9,512.2 56.7,512.2 57.5,512.0 58.4,511.9 59.2,512.0 60.1,512.0 61.0,512.0 61.9,512.2 62.7,511.8 63.6,511.8 64.5,511.9 65.4,511.7 66.2,511.8 67.0,511.9 67.8,511.8 68.6,512.0 69.4,511.8 70.1,511.7 70.8,511.8 71.4,511.7 72.0,511.7 72.6,511.5 73.2,511.4 73.8,511.6 74.5,511.5 75.2,511.4 75.9,511.4 76.7,511.4 77.6,511.2 78.4,511.4 79.3,511.4 80.2,511.5 81.1,511.0 82.0,511.0 82.9,511.1 83.9,511.1 84.8,510.8 85.7,511.0 86.6,510.6 87.4,510.6 88.3,510.4 89.1,510.3 89.8,510.5 90.6,510.4 91.2,510.5 91.9,510.5 92.5,510.2 93.0,510.1 93.4,510.0 93.8,509.8 94.8,509.7 95.7,509.6 96.4,509.2 97.1,509.0 97.7,508.4 98.3,507.9 98.9,507.9 99.4,507.3 100.0,506.9 100.5,507.0 101.1,506.7 101.7,506.4 102.4,506.0 103.2,505.3 104.1,505.0 104.9,504.6 105.7,504.1 106.5,503.7 107.3,503.3 108.0,502.9 108.7,502.6 109.2,502.5 109.8,502.1 110.5,502.1 111.2,501.7 112.1,501.4 112.9,501.1 113.8,500.9 114.7,500.8 115.5,500.7 116.4,500.3 117.1,500.0 117.8,499.9 118.4,500.3 118.9,500.2 119.4,500.5 120.0,500.9 120.7,501.2 121.3,501.9 122.0,502.6 122.7,503.1 123.5,503.6 124.2,504.2 124.9,504.7 125.6,504.9 126.3,505.2 127.0,505.8 127.6,506.1 128.1,506.3 128.6,506.4 129.3,506.3 130.0,506.2 130.7,506.5 131.5,506.4 132.4,506.7 133.2,506.7 134.1,506.9 135.0,507.0 136.0,507.1 136.9,507.0 137.7,507.0 138.6,506.9 139.4,506.9 140.2,506.8 140.9,507.2 141.5,507.0 142.1,507.2 142.6,506.9 143.3,507.0 144.1,506.9 144.9,507.1 145.8,506.8 146.7,507.0 147.6,506.9 148.5,506.8 149.4,506.6 150.2,506.5 151.0,506.4 151.8,506.2 152.4,506.3 153.0,505.9 153.6,505.7 154.3,505.6 155.0,505.2 155.8,504.9 156.7,504.8 157.5,504.7 158.4,504.0 159.2,503.7 160.0,503.3 160.7,503.1 161.3,502.9 161.8,502.7 162.2,502.4 163.1,502.3 163.9,501.9 164.4,501.6 164.8,500.7 164.9,500.3 164.9,499.8 165.0,499.1 165.1,498.3 165.1,497.4 165.2,496.5 165.2,495.5 165.3,494.5 165.3,493.4 165.4,492.4 165.4,491.5 165.5,490.5 165.5,489.7 165.6,489.0 165.6,488.4 165.6,487.9 165.7,487.6 166.0,487.5 166.5,488.5 167.0,489.7 167.3,490.6 167.6,493.1 168.0,493.9 168.4,492.7 169.0,489.3 169.7,488.6 170.5,491.1 171.4,491.0 171.6,491.7 171.9,489.0 172.2,489.4 172.5,489.8 172.9,490.5 173.3,494.1 173.7,495.0 174.2,495.8 174.6,496.1 175.1,494.5 175.6,495.9 176.1,496.9 176.6,500.1 177.1,500.6 177.5,502.0 178.0,500.5 178.4,500.4 178.8,501.7 179.2,504.6 179.6,505.8 179.9,506.3 180.1,506.7 180.3,507.3 180.5,506.0" fill="none" stroke="#EB8B46" stroke-width="1.5" stroke-linejoin="round" stroke-linecap="round"/>
<polyline points="32.0,496.8 32.3,496.8 32.7,497.0 33.2,497.0 33.8,496.9 34.4,496.8 35.1,496.7 35.9,497.0 36.7,497.1 37.5,496.9 38.4,497.0 39.3,497.1 40.2,497.2 41.2,497.0 42.2,496.9 43.1,496.9 44.1,497.1 45.0,497.3 45.9,497.3 46.8,497.0 47.7,497.1 48.5,497.0 49.3,497.0 50.0,497.1 50.7,497.0 51.3,497.1 51.8,497.1 52.4,497.1 53.0,497.3 53.7,497.1 54.4,497.3 55.2,497.2 55.9,497.1 56.7,497.1 57.5,497.3 58.4,497.4 59.2,497.4 60.1,497.5 61.0,497.4 61.9,497.2 62.7,497.1 63.6,497.3 64.5,497.3 65.4,497.4 66.2,497.5 67.0,497.4 67.8,497.5 68.6,497.4 69.4,497.4 70.1,497.4 70.8,497.3 71.4,497.4 72.0,497.4 72.6,497.3 73.2,497.1 73.8,497.1 74.4,497.2 75.1,497.2 75.9,497.1 76.7,497.0 77.5,497.1 78.3,497.1 79.2,497.2 80.1,497.2 81.0,496.8 81.9,496.8 82.8,496.9 83.7,496.8 84.6,496.8 85.5,496.6 86.3,496.6 87.2,496.8 88.0,496.7 88.8,496.7 89.6,496.7 90.4,496.7 91.1,496.6 91.7,496.6 92.3,496.6 92.9,496.5 93.4,496.3 93.8,496.2 94.6,496.1 95.4,496.1 96.3,496.1 97.1,495.8 98.0,495.5 98.8,495.2 99.7,494.9 100.5,494.7 101.3,494.5 102.0,494.3 102.7,494.3 103.4,494.1 104.0,494.3 104.5,493.9 105.1,493.7 105.9,493.9 106.7,493.9 107.5,493.7 108.4,493.6 109.3,493.4 110.1,493.3 111.0,493.1 111.8,492.8 112.6,492.9 113.2,492.7 113.8,492.4 114.2,491.8 114.6,491.5 115.1,490.7 115.6,490.3 116.1,489.4 116.6,488.8 117.2,487.8 117.7,487.3 118.3,486.5 118.8,485.5 119.4,484.9 119.9,484.2 120.4,483.3 120.8,482.9 121.2,482.5 121.6,482.0 121.9,481.9 122.4,481.7 123.0,481.8 123.6,482.5 124.1,483.0 124.8,484.1 125.4,484.9 126.1,485.4 126.8,486.0 127.6,486.2 128.0,486.4 128.5,486.6 129.1,486.8 129.8,487.0 130.5,486.9 131.3,486.9 132.2,487.1 133.1,487.1 134.0,487.2 134.9,487.1 135.8,487.3 136.7,487.1 137.6,487.2 138.5,487.2 139.3,487.2 140.1,487.4 140.9,487.6 141.5,487.3 142.1,487.5 142.6,487.5 143.3,487.8 144.0,488.0 144.8,488.3 145.6,488.6 146.4,488.7 147.2,488.8 148.1,489.2 148.9,489.4 149.7,489.5 150.5,489.6 151.2,490.0 151.9,490.0 152.5,489.8 153.0,489.7 153.5,489.5 154.1,489.2 154.7,489.1 155.4,488.6 156.1,488.0 156.8,487.4 157.6,486.8 158.3,486.3 159.0,485.7 159.7,485.0 160.4,484.5 160.9,484.2 161.4,483.7 161.9,483.3 162.2,483.0 163.1,482.4 163.9,482.2 164.4,482.0 164.8,481.0 164.9,480.7 164.9,480.2 165.0,479.5 165.0,478.8 165.1,477.9 165.1,477.0 165.2,476.0 165.2,475.0 165.3,474.0 165.3,473.0 165.4,472.0 165.4,471.0 165.4,470.1 165.5,469.3 165.5,468.5 165.6,467.9 165.6,467.4 165.7,467.0 165.7,466.8 165.8,466.8 165.9,467.1 166.1,467.8 166.2,468.6 166.4,469.6 166.5,470.7 166.7,471.7 166.9,472.8 167.0,473.7 167.2,474.5 167.3,475.1 167.5,477.2 167.6,477.4 167.8,478.1 168.0,479.0 168.5,480.4 169.1,477.8 169.4,478.3 169.9,479.1 170.4,482.2 171.0,482.2 171.7,482.8 172.4,481.2 173.2,483.7 174.0,484.1 174.9,482.2 175.7,483.3 176.5,486.0 177.3,486.8 178.0,484.2 178.7,485.4 179.3,488.5 179.8,488.8 180.2,488.3 180.5,487.6" fill="none" stroke="#0C9188" stroke-width="1.5" stroke-linejoin="round" stroke-linecap="round"/>
<polyline points="32.0,484.5 32.3,484.4 32.7,484.3 33.2,484.4 33.8,484.4 34.4,484.7 35.1,484.5 35.9,484.6 36.7,484.6 37.5,484.6 38.4,484.9 39.3,485.1 40.2,485.0 41.2,485.0 42.2,485.0 43.1,485.2 44.1,485.0 45.0,485.2 45.9,485.1 46.8,485.4 47.7,485.5 48.5,485.5 49.3,485.4 50.0,485.4 50.7,485.6 51.3,485.6 51.8,485.6 52.4,485.4 53.0,485.7 53.7,485.8 54.4,485.8 55.1,485.8 55.9,485.6 56.6,485.8 57.4,485.7 58.3,485.7 59.1,485.5 60.0,485.5 60.8,485.7 61.7,485.9 62.5,485.9 63.4,485.9 64.3,485.9 65.1,485.6 66.0,485.8 66.8,485.7 67.6,485.9 68.4,485.8 69.2,485.7 69.9,485.7 70.7,485.5 71.3,485.5 72.0,485.6 72.6,485.4 73.1,485.4 73.7,485.2 74.3,485.2 75.0,485.4 75.7,485.3 76.4,485.1 77.2,485.0 78.0,484.9 78.9,484.8 79.7,484.4 80.6,484.3 81.5,484.1 82.5,484.0 83.4,484.0 84.3,483.6 85.3,483.4 86.2,483.5 87.1,483.2 88.0,483.0 89.0,482.9 89.8,482.7 90.7,482.4 91.6,482.5 92.4,482.5 93.2,482.3 93.9,482.1 94.6,481.8 95.3,481.6 95.9,481.6 96.4,481.7 97.0,481.7 97.4,481.3 97.8,481.4 98.1,481.5 99.1,481.7 100.0,481.7 100.4,481.6 100.9,481.8 101.5,481.6 102.2,481.4 103.0,481.3 103.8,481.2 104.7,480.9 105.7,481.0 106.6,480.8 107.6,480.7 108.6,480.3 109.5,480.2 110.4,479.8 111.2,479.6 112.0,479.2 112.7,478.9 113.3,478.5 113.8,478.4 114.2,478.0 114.5,477.6 114.9,476.9 115.3,476.3 115.7,475.8 116.1,474.8 116.5,474.1 117.0,473.0 117.4,472.0 117.8,471.0 118.2,470.4 118.6,469.4 119.0,468.7 119.4,467.8 119.8,467.0 120.1,466.0 120.5,465.6 120.8,464.9 121.1,464.4 121.4,464.1 121.7,463.5 121.9,463.4 122.3,463.4 122.7,463.7 123.1,464.0 123.6,464.8 124.1,465.6 124.6,466.2 125.0,467.1 125.5,468.1 126.0,469.0 126.4,470.0 126.8,470.5 127.2,470.9 127.6,471.2 128.2,471.7 128.9,472.2 129.7,472.7 130.6,472.9 131.4,473.4 132.3,473.4 133.2,473.6 133.9,473.5 134.6,473.5 135.1,473.6 135.8,473.2 136.5,472.9 137.2,472.4 138.0,471.9 138.9,471.4 139.7,471.1 140.5,471.0 141.3,470.7 142.0,470.3 142.6,470.3 143.1,470.5 143.6,470.6 144.3,470.8 145.0,471.1 145.7,471.7 146.5,472.0 147.3,472.4 148.1,472.9 148.9,473.4 149.7,473.7 150.5,474.1 151.2,474.3 151.9,474.6 152.5,474.8 153.0,474.8 153.6,474.7 154.3,474.6 155.0,474.6 155.9,474.2 156.8,473.9 157.7,473.7 158.6,473.3 159.5,472.9 160.4,472.9 161.2,472.6 161.9,472.2 162.5,472.0 163.0,471.6 163.4,471.5 164.3,471.0 164.6,470.6 164.8,469.2 164.8,468.8 164.9,468.3 164.9,467.7 165.0,466.9 165.0,466.1 165.0,465.2 165.1,464.2 165.1,463.2 165.2,462.2 165.2,461.1 165.3,460.1 165.3,459.1 165.4,458.0 165.4,457.1 165.4,456.2 165.5,455.4 165.5,454.7 165.6,454.0 165.6,453.6 165.7,453.2 165.7,453.0 165.8,453.0 165.9,453.3 166.0,453.8 166.2,454.6 166.3,455.5 166.5,456.6 166.6,457.7 166.8,458.7 166.9,459.8 167.1,460.7 167.2,461.4 167.3,462.0 167.5,464.3 167.6,464.7 167.8,465.5 168.0,466.2 168.5,467.1 169.1,465.6 169.4,465.6 169.8,466.5 170.3,468.9 170.9,470.1 171.5,470.0 172.2,468.3 172.9,468.5 173.7,471.9 174.5,472.9 175.3,470.6 176.0,471.6 176.8,474.3 177.5,474.7 178.2,473.4 178.8,473.4 179.4,476.1 179.9,476.5 180.2,477.4 180.5,476.0" fill="none" stroke="#6262C0" stroke-width="1.5" stroke-linejoin="round" stroke-linecap="round"/>
<polyline points="32.0,470.2 32.3,470.3 32.7,470.4 33.2,470.2 33.8,470.2 34.4,470.4 35.1,470.4 35.9,470.6 36.7,470.8 37.5,470.5 38.4,470.7 39.3,470.7 40.2,470.8 41.2,471.1 42.2,471.0 43.1,471.1 44.1,471.1 45.0,471.1 45.9,471.1 46.8,471.2 47.7,471.5 48.5,471.6 49.3,471.6 50.0,471.7 50.7,471.9 51.3,471.7 51.8,471.8 52.4,471.6 53.0,471.6 53.7,471.7 54.4,471.8 55.1,471.9 55.9,471.8 56.6,471.8 57.4,472.0 58.3,471.9 59.1,472.0 60.0,472.1 60.8,472.2 61.7,471.9 62.5,471.9 63.4,472.1 64.3,471.9 65.1,472.0 66.0,471.9 66.8,472.1 67.6,472.0 68.4,471.8 69.2,472.0 69.9,471.7 70.7,471.7 71.3,471.8 72.0,471.7 72.6,471.8 73.1,471.9 73.7,471.7 74.3,471.5 75.0,471.6 75.7,471.4 76.4,471.3 77.2,471.1 78.0,471.0 78.9,470.9 79.7,470.4 80.6,470.2 81.5,470.0 82.5,469.9 83.4,469.7 84.3,469.6 85.3,469.4 86.2,469.3 87.1,469.2 88.0,468.7 89.0,468.6 89.8,468.7 90.7,468.6 91.6,468.1 92.4,468.0 93.2,467.9 93.9,467.8 94.6,467.5 95.3,467.6 95.9,467.5 96.4,467.3 97.0,467.1 97.4,466.9 97.8,466.9 98.1,467.1 99.1,467.6 100.0,468.0 100.4,468.0 100.9,467.8 101.5,468.0 102.2,467.8 103.0,467.9 103.8,468.0 104.7,467.8 105.7,467.9 106.6,467.6 107.6,467.3 108.6,467.2 109.5,467.0 110.4,466.9 111.2,466.8 112.0,466.5 112.7,466.1 113.3,465.8 113.8,465.8 114.1,465.6 114.4,465.2 114.8,464.7 115.1,464.0 115.5,463.1 115.8,462.5 116.2,461.7 116.6,460.6 116.9,460.0 117.3,459.0 117.7,458.0 118.0,456.9 118.4,456.1 118.7,455.3 119.1,454.3 119.4,453.4 119.8,452.7 120.1,451.8 120.4,451.2 120.7,450.4 121.0,449.6 121.2,449.1 121.5,449.0 121.7,448.5 121.9,448.2 122.3,448.3 122.6,448.5 123.1,448.9 123.5,449.4 123.9,450.1 124.4,451.0 124.8,451.9 125.2,452.9 125.7,453.8 126.1,454.8 126.5,455.6 126.9,456.6 127.3,457.2 127.6,457.4 128.2,458.0 128.9,458.5 129.7,459.0 130.6,459.1 131.4,459.4 132.3,459.6 133.2,460.0 133.9,460.1 134.6,460.2 135.1,459.8 135.7,459.3 136.3,459.2 137.0,458.6 137.7,458.2 138.5,457.7 139.2,457.0 140.0,456.6 140.7,456.2 141.4,455.8 142.0,455.4 142.6,455.4 143.1,455.5 143.6,455.7 144.3,455.9 145.0,456.0 145.7,456.5 146.5,456.9 147.3,457.5 148.1,457.8 148.9,458.2 149.7,458.6 150.5,458.9 151.2,459.5 151.9,459.8 152.5,460.0 153.0,460.1 153.6,459.8 154.3,459.8 155.0,459.7 155.9,459.5 156.8,459.2 157.7,458.8 158.6,458.5 159.5,458.2 160.4,457.7 161.2,457.5 161.9,457.2 162.5,457.1 163.0,456.6 163.4,456.6 164.3,456.2 164.6,455.8 164.8,454.7 164.8,454.3 164.9,453.7 164.9,453.0 165.0,452.2 165.1,451.3 165.1,450.4 165.2,449.3 165.2,448.3 165.3,447.2 165.3,446.2 165.4,445.2 165.4,444.3 165.5,443.5 165.5,442.8 165.6,442.2 165.6,441.7 165.7,441.5 165.8,441.5 166.0,441.9 166.2,442.7 166.5,443.8 166.7,444.9 166.9,446.0 167.1,446.9 167.3,447.5 167.5,449.8 167.8,449.8 168.2,451.2 169.1,449.3 169.4,450.0 169.7,449.7 170.1,450.1 170.6,453.4 171.2,454.3 171.8,452.2 172.4,452.8 173.1,453.4 173.8,456.5 174.5,457.3 175.2,455.3 175.9,456.7 176.6,459.6 177.3,460.7 177.9,458.1 178.5,458.7 179.1,459.7 179.5,462.8 179.9,463.3 180.3,462.9 180.5,462.2" fill="none" stroke="#CF2F86" stroke-width="1.5" stroke-linejoin="round" stroke-linecap="round"/>
<polyline points="32.0,456.8 32.3,456.6 32.7,456.8 33.2,456.9 33.8,456.7 34.4,457.0 35.1,457.2 35.9,457.1 36.7,457.2 37.5,457.3 38.4,457.1 39.3,457.3 40.2,457.3 41.2,457.5 42.2,457.6 43.1,457.7 44.1,457.4 45.0,457.8 45.9,457.6 46.8,457.8 47.7,457.9 48.5,457.7 49.3,457.7 50.0,458.0 50.7,458.1 51.3,458.0 51.8,458.1 52.4,458.2 53.1,457.9 53.8,457.8 54.5,458.0 55.3,458.1 56.1,457.8 56.9,458.0 57.8,457.9 58.6,458.2 59.5,458.0 60.4,458.2 61.3,457.9 62.2,458.1 63.1,458.0 64.0,457.8 64.9,458.1 65.8,458.3 66.6,458.2 67.5,458.3 68.3,458.0 69.0,458.0 69.7,458.1 70.4,458.2 71.0,457.9 71.6,457.7 72.1,458.0 72.6,457.8 73.3,457.7 74.1,457.8 74.8,457.9 75.6,457.7 76.4,457.4 77.3,457.5 78.1,457.4 78.9,457.0 79.7,456.9 80.5,456.8 81.3,456.5 82.1,456.6 82.8,456.4 83.5,456.3 84.1,455.8 84.7,455.6 85.3,455.5 85.9,455.4 86.5,455.3 87.3,455.0 88.1,455.0 89.0,454.7 89.9,454.6 90.8,454.2 91.7,454.0 92.6,453.8 93.5,453.3 94.4,452.9 95.2,452.7 96.0,452.7 96.7,452.6 97.2,452.4 97.7,452.1 98.1,452.0 99.0,452.5 100.0,453.1 100.4,453.0 100.9,453.0 101.5,453.0 102.2,452.8 103.0,452.7 103.8,452.6 104.7,452.3 105.7,452.2 106.6,452.2 107.6,451.8 108.6,451.7 109.5,451.5 110.4,451.4 111.2,451.1 112.0,450.6 112.7,450.1 113.3,449.9 113.8,449.6 114.1,449.2 114.4,448.9 114.7,448.3 115.1,447.6 115.4,446.7 115.7,445.9 116.1,445.2 116.4,444.3 116.8,443.6 117.1,442.7 117.5,441.8 117.9,440.6 118.2,439.7 118.5,438.8 118.9,437.9 119.2,437.0 119.5,436.2 119.9,435.5 120.2,434.6 120.5,433.9 120.7,433.2 121.0,432.6 121.3,432.1 121.5,431.4 121.7,431.3 121.9,431.2 122.3,431.2 122.6,431.3 123.1,431.7 123.5,432.3 123.9,433.0 124.4,433.8 124.8,434.8 125.2,435.9 125.7,436.9 126.1,437.9 126.5,438.6 126.9,439.4 127.3,439.8 127.6,440.4 128.2,440.9 128.9,441.3 129.7,441.4 130.6,441.7 131.4,442.1 132.3,442.2 133.2,442.5 133.9,442.7 134.6,442.8 135.1,442.7 135.7,442.2 136.3,441.8 137.0,441.3 137.7,440.6 138.5,439.9 139.2,439.6 140.0,439.0 140.7,438.7 141.4,438.2 142.0,438.2 142.6,438.1 143.1,438.1 143.6,438.1 144.3,438.3 145.0,438.9 145.7,439.2 146.5,439.5 147.3,440.0 148.1,440.6 148.9,440.8 149.7,441.1 150.5,441.5 151.2,441.8 151.9,442.1 152.5,442.5 153.0,442.8 153.6,442.5 154.3,442.4 155.0,442.4 155.9,441.9 156.8,441.7 157.7,441.7 158.6,441.3 159.5,440.8 160.4,440.5 161.2,440.2 161.9,440.0 162.5,439.6 163.0,439.2 163.4,439.1 164.3,438.8 164.6,438.5 164.8,437.3 164.8,436.9 164.9,436.4 164.9,435.7 165.0,435.0 165.0,434.1 165.1,433.2 165.1,432.2 165.2,431.2 165.2,430.2 165.3,429.2 165.3,428.2 165.4,427.2 165.4,426.3 165.5,425.5 165.5,424.7 165.6,424.1 165.6,423.6 165.7,423.2 165.7,423.0 165.8,423.0 165.9,423.4 166.1,424.0 166.3,424.9 166.5,426.0 166.6,427.1 166.8,428.2 167.0,429.2 167.2,430.0 167.3,430.5 167.5,432.8 167.7,433.0 167.9,434.4 168.4,434.5 169.1,433.7 169.4,433.8 169.8,434.1 170.2,437.3 170.7,437.8 171.3,437.8 172.0,435.9 172.7,436.4 173.4,440.2 174.1,440.9 174.9,438.5 175.6,439.1 176.4,442.8 177.1,443.1 177.7,441.0 178.4,441.5 179.0,441.9 179.5,445.5 179.9,446.0 180.2,446.0 180.5,445.0" fill="none" stroke="#EE8AB0" stroke-width="1.5" stroke-linejoin="round" stroke-linecap="round"/>
<polyline points="32.0,443.0 32.3,443.0 32.7,443.1 33.2,443.1 33.8,443.1 34.4,442.9 35.1,443.1 35.9,443.2 36.7,443.2 37.5,443.2 38.4,443.2 39.3,443.5 40.2,443.6 41.2,443.7 42.2,443.8 43.1,443.8 44.1,443.9 45.0,443.6 45.9,443.7 46.8,443.7 47.7,443.7 48.5,443.8 49.3,443.9 50.0,444.1 50.7,443.9 51.3,443.9 51.8,444.2 52.4,443.9 53.1,443.8 53.8,443.8 54.5,444.1 55.3,444.2 56.1,444.2 56.9,444.0 57.8,444.2 58.6,444.0 59.5,444.2 60.4,444.4 61.3,444.4 62.2,444.1 63.1,444.1 64.0,444.1 64.9,444.3 65.8,444.3 66.6,444.2 67.5,444.1 68.3,444.0 69.0,444.2 69.7,444.0 70.4,444.2 71.0,444.1 71.6,444.1 72.1,444.2 72.6,443.9 73.3,443.7 74.1,443.8 74.8,443.5 75.6,443.6 76.4,443.2 77.3,443.3 78.1,443.1 78.9,442.9 79.7,442.4 80.5,442.1 81.3,442.2 82.1,441.9 82.8,441.8 83.5,441.3 84.1,441.2 84.7,441.1 85.3,441.0 85.8,440.7 86.5,440.5 87.2,440.5 87.9,440.3 88.7,439.7 89.6,439.4 90.4,439.0 91.3,438.7 92.2,438.5 93.0,438.3 93.9,438.0 94.7,437.6 95.4,437.2 96.1,437.2 96.8,437.0 97.3,437.0 97.8,436.8 98.1,436.7 98.9,437.0 99.1,437.6 100.0,438.0 100.4,438.0 100.8,437.7 101.4,437.5 102.0,437.4 102.8,437.4 103.5,437.0 104.4,436.6 105.3,436.6 106.2,436.2 107.1,435.8 108.0,435.6 108.9,435.0 109.8,434.6 110.6,434.3 111.4,433.9 112.1,433.6 112.8,433.2 113.3,432.9 113.8,432.4 114.1,432.0 114.4,431.5 114.8,430.9 115.1,430.1 115.5,429.7 115.8,429.0 116.2,427.9 116.6,426.9 116.9,426.0 117.3,425.4 117.7,424.4 118.0,423.5 118.4,422.6 118.7,421.5 119.1,420.5 119.4,419.8 119.8,419.2 120.1,418.4 120.4,417.7 120.7,417.0 121.0,416.2 121.2,415.8 121.5,415.5 121.7,415.3 121.9,414.9 122.2,414.9 122.6,415.2 123.0,415.6 123.4,416.2 123.8,416.9 124.2,417.7 124.6,418.9 125.0,420.0 125.4,420.8 125.8,421.9 126.2,423.0 126.6,423.7 127.0,424.5 127.3,425.1 127.6,425.5 128.2,425.9 128.9,426.4 129.7,426.8 130.6,427.0 131.4,427.3 132.3,427.4 133.2,427.5 133.9,427.8 134.6,427.8 135.0,427.5 135.6,427.1 136.1,426.6 136.8,426.3 137.4,425.6 138.1,425.0 138.8,424.5 139.5,423.6 140.2,423.2 140.9,422.8 141.5,422.4 142.1,422.2 142.6,421.9 143.1,422.0 143.7,422.2 144.4,422.2 145.2,422.5 146.0,422.6 146.8,423.1 147.7,423.4 148.6,423.7 149.4,424.2 150.3,424.6 151.0,425.0 151.8,425.0 152.4,425.2 153.0,425.4 153.6,425.2 154.3,425.2 155.0,425.0 155.9,424.7 156.8,424.3 157.7,424.2 158.6,423.8 159.5,423.6 160.4,423.4 161.2,423.1 161.9,422.7 162.5,422.4 163.0,421.9 163.4,422.0 164.3,421.6 164.6,421.1 164.8,419.8 164.8,419.4 164.9,418.9 164.9,418.3 165.0,417.5 165.0,416.7 165.1,415.8 165.1,414.8 165.1,413.8 165.2,412.8 165.2,411.7 165.3,410.7 165.3,409.7 165.4,408.7 165.4,407.8 165.5,407.0 165.5,406.3 165.6,405.6 165.6,405.1 165.7,404.8 165.7,404.6 165.8,404.6 165.9,404.9 166.0,405.5 166.2,406.2 166.3,407.2 166.5,408.2 166.6,409.3 166.8,410.4 166.9,411.4 167.1,412.3 167.2,413.0 167.3,413.6 167.5,415.4 167.6,415.9 167.8,416.7 168.0,418.1 168.5,418.6 169.1,416.9 169.4,417.7 169.7,418.0 170.1,417.9 170.6,420.9 171.2,421.7 171.8,420.4 172.4,420.6 173.1,421.3 173.8,424.2 174.5,424.9 175.2,423.1 175.9,424.4 176.6,427.1 177.3,428.1 177.9,426.4 178.5,427.2 179.1,426.8 179.5,430.4 179.9,430.9 180.3,430.6 180.5,430.0" fill="none" stroke="#D8A070" stroke-width="1.5" stroke-linejoin="round" stroke-linecap="round"/>
<polyline points="32.0,429.6 32.3,429.8 32.7,429.5 33.2,429.8 33.8,429.6 34.4,429.7 35.1,429.6 35.9,429.6 36.7,429.7 37.5,429.6 38.4,429.5 39.3,429.7 40.2,429.8 41.2,429.7 42.2,429.8 43.1,429.9 44.1,430.1 45.0,429.9 45.9,429.9 46.8,429.8 47.7,430.1 48.5,430.2 49.3,430.2 50.0,430.3 50.7,430.3 51.3,430.1 51.8,430.0 52.4,430.0 53.1,430.4 53.8,430.2 54.5,430.6 55.3,430.7 56.1,430.4 56.9,430.6 57.8,430.4 58.6,430.5 59.5,430.8 60.4,430.9 61.3,431.0 62.2,430.9 63.1,430.9 64.0,431.1 64.9,431.0 65.8,431.0 66.6,431.1 67.5,431.1 68.3,431.4 69.0,431.5 69.7,431.4 70.4,431.5 71.0,431.4 71.6,431.2 72.1,431.3 72.6,431.1 73.3,431.2 74.1,430.9 74.9,431.0 75.7,430.9 76.5,430.4 77.3,430.0 78.2,430.0 79.0,429.8 79.8,429.2 80.6,429.1 81.4,428.8 82.2,428.4 82.9,427.9 83.6,427.8 84.2,427.7 84.8,427.1 85.3,426.8 85.8,426.8 86.5,426.5 87.1,426.0 87.8,425.6 88.6,425.0 89.4,424.7 90.1,424.1 90.9,423.5 91.7,423.2 92.5,422.5 93.2,422.2 93.9,421.7 94.5,421.4 95.1,420.9 95.6,420.9 96.0,420.5 96.8,420.3 97.5,420.6 98.3,420.7 99.1,421.3 99.9,421.7 100.7,421.9 101.5,422.0 102.3,421.6 102.7,421.5 103.2,421.1 103.7,421.1 104.3,420.5 105.0,420.1 105.7,419.6 106.4,419.2 107.2,419.1 108.0,418.5 108.7,417.8 109.5,417.2 110.3,416.6 111.0,416.4 111.7,415.8 112.3,415.2 112.9,414.8 113.4,414.3 113.8,413.8 114.1,413.3 114.5,412.9 114.9,412.4 115.3,411.6 115.7,410.8 116.1,410.1 116.6,409.3 117.0,408.2 117.4,407.4 117.9,406.4 118.3,405.9 118.8,404.9 119.2,403.9 119.6,403.2 120.0,402.6 120.4,402.1 120.7,401.3 121.1,400.8 121.4,400.5 121.7,400.2 121.9,400.1 122.4,400.1 122.9,400.2 123.4,400.6 124.0,401.2 124.5,402.1 125.1,403.0 125.6,403.9 126.2,404.7 126.7,405.8 127.2,406.5 127.6,406.7 128.1,407.3 128.7,407.6 129.4,408.1 130.2,408.7 131.0,409.1 131.8,409.4 132.6,410.0 133.3,410.3 134.0,410.3 134.6,410.4 135.0,410.1 135.6,410.0 136.1,409.3 136.8,408.9 137.4,408.5 138.1,407.8 138.8,407.1 139.5,406.4 140.2,405.7 140.9,405.2 141.5,404.9 142.1,404.8 142.6,404.6 143.1,404.5 143.6,404.8 144.3,405.2 145.0,405.2 145.7,405.6 146.5,406.1 147.3,406.5 148.1,407.2 148.9,407.4 149.7,407.9 150.5,408.2 151.2,408.6 151.9,409.0 152.5,409.3 153.0,409.4 153.5,409.3 154.2,408.9 154.9,408.8 155.7,408.6 156.5,408.1 157.3,407.7 158.2,407.5 159.0,407.2 159.8,406.5 160.6,406.3 161.4,405.8 162.0,405.4 162.6,405.1 163.1,405.0 163.4,404.6 164.3,404.2 164.6,403.8 164.8,402.5 164.8,402.2 164.9,401.7 164.9,401.0 165.0,400.3 165.0,399.5 165.1,398.6 165.1,397.7 165.1,396.7 165.2,395.7 165.2,394.6 165.3,393.6 165.3,392.6 165.4,391.7 165.4,390.8 165.5,390.0 165.5,389.2 165.6,388.6 165.6,388.1 165.7,387.7 165.7,387.5 165.8,387.4 166.0,387.8 166.2,388.6 166.4,389.5 166.6,390.7 166.8,391.8 167.0,392.9 167.2,393.7 167.3,394.3 167.5,396.1 167.7,396.6 167.9,397.2 168.4,397.8 169.1,397.3 169.3,397.3 169.6,397.5 170.0,398.4 170.4,400.6 170.8,400.9 171.3,401.7 171.9,400.8 172.4,401.4 173.0,402.4 173.6,404.6 174.3,405.7 174.9,404.3 175.5,404.9 176.1,405.7 176.7,408.3 177.3,409.3 177.9,408.3 178.4,408.5 178.9,409.7 179.3,412.0 179.7,412.1 180.0,412.8 180.3,413.3 180.5,412.4" fill="none" stroke="#0F8020" stroke-width="1.5" stroke-linejoin="round" stroke-linecap="round"/>
<polyline points="32.0,414.4 32.3,414.2 32.7,414.4 33.2,414.3 33.8,414.2 34.5,414.2 35.2,414.2 35.9,414.0 36.8,413.7 37.6,413.8 38.5,413.8 39.4,413.8 40.4,413.8 41.3,413.5 42.3,413.4 43.2,413.2 44.1,413.1 45.0,413.1 45.9,413.0 46.7,412.9 47.5,413.1 48.2,413.1 48.9,413.1 49.5,413.1 50.0,412.9 50.6,412.9 51.2,413.0 51.9,413.3 52.6,413.2 53.4,413.4 54.2,413.7 55.0,413.5 55.8,413.6 56.7,413.8 57.6,413.9 58.5,414.3 59.3,414.5 60.2,414.4 61.1,414.4 62.0,414.8 62.8,415.0 63.6,414.9 64.4,414.9 65.2,414.9 66.0,415.1 66.7,415.5 67.3,415.4 67.9,415.3 68.5,415.3 69.0,415.4 69.6,415.3 70.3,415.2 71.0,415.4 71.7,415.2 72.5,415.0 73.3,414.7 74.1,414.6 74.9,414.4 75.8,414.5 76.6,414.1 77.5,414.0 78.3,413.8 79.1,413.4 79.9,413.2 80.7,413.2 81.5,412.6 82.2,412.3 82.9,412.1 83.5,412.1 84.1,411.7 84.6,411.5 85.1,411.2 85.6,411.1 86.1,410.4 86.7,410.1 87.4,409.5 88.0,408.9 88.7,408.4 89.4,408.1 90.1,407.3 90.8,406.8 91.5,406.1 92.2,405.4 92.9,405.0 93.6,404.4 94.3,403.6 94.9,403.1 95.5,402.6 96.1,402.2 96.6,402.0 97.1,401.5 97.6,401.0 98.0,400.7 98.3,400.7 99.3,400.3 100.2,400.5 101.0,400.6 101.9,400.9 102.7,401.0 103.4,401.5 104.1,401.8 104.7,401.9 105.3,402.3 106.1,402.5 107.0,402.8 107.9,402.9 108.8,403.2 109.7,403.7 110.5,403.9 111.1,403.7 111.7,403.5 112.0,403.5 112.4,402.9 112.8,402.5 113.2,402.0 113.6,401.2 114.1,400.5 114.5,399.7 115.0,398.9 115.4,398.3 115.8,397.3 116.2,396.7 116.6,396.0 117.0,395.0 117.2,394.3 117.5,393.7 117.7,393.2 117.9,392.6 118.1,391.8 118.3,390.9 118.6,390.0 118.8,388.9 119.0,388.0 119.2,387.2 119.5,386.2 119.7,385.2 120.0,384.5 120.2,383.7 120.4,382.8 120.7,382.2 120.9,381.8 121.2,381.6 121.4,381.4 121.7,381.2 122.2,381.4 122.7,381.9 123.3,382.2 123.9,382.9 124.5,383.7 125.2,384.6 125.9,385.5 126.6,386.3 127.2,386.9 127.8,387.5 128.3,388.3 128.8,388.9 129.2,389.1 129.9,389.4 130.8,389.9 131.6,390.0 132.5,390.3 133.4,390.2 134.3,390.4 135.1,389.8 135.5,389.7 136.0,389.4 136.6,388.9 137.3,388.7 138.0,387.9 138.7,387.4 139.5,386.6 140.3,386.2 141.0,385.7 141.8,385.1 142.5,384.4 143.2,384.1 143.8,383.6 144.3,383.3 144.8,383.0 145.4,383.0 146.0,383.0 146.7,383.5 147.5,383.6 148.2,384.2 149.0,384.6 149.8,384.9 150.5,385.3 151.3,385.8 152.0,386.0 152.6,386.1 153.1,385.9 153.7,386.0 154.4,385.6 155.2,385.4 156.0,385.5 156.9,385.3 157.8,385.1 158.8,384.7 159.7,384.3 160.6,384.0 161.4,383.9 162.2,383.7 162.9,383.5 163.5,383.2 164.0,383.2 164.3,383.1 164.7,382.7 164.8,381.3 164.8,381.0 164.9,380.4 164.9,379.8 165.0,379.0 165.0,378.1 165.1,377.2 165.1,376.2 165.2,375.2 165.2,374.1 165.3,373.2 165.4,372.2 165.4,371.3 165.5,370.5 165.5,369.8 165.6,369.2 165.6,368.8 165.7,368.5 165.9,368.4 166.1,369.0 166.4,370.0 166.7,371.2 167.0,372.2 167.3,372.9 167.7,374.6 168.1,374.7 168.7,374.9 169.4,373.3 170.2,376.1 170.5,376.3 170.8,377.3 171.2,377.3 171.6,377.9 172.2,376.9 172.7,377.2 173.3,380.2 173.9,380.6 174.5,381.8 175.2,380.3 175.8,381.2 176.4,383.8 177.0,384.6 177.6,385.5 178.2,384.3 178.7,384.5 179.2,387.4 179.6,387.9 180.0,388.2 180.3,388.9 180.5,388.0" fill="none" stroke="#6EA4CF" stroke-width="1.5" stroke-linejoin="round" stroke-linecap="round"/>
<polyline points="32.0,400.1 32.3,400.3 32.7,400.1 33.2,400.0 33.8,400.0 34.5,400.0 35.2,399.7 35.9,399.6 36.8,399.7 37.6,399.6 38.5,399.3 39.4,399.5 40.4,399.3 41.3,399.3 42.3,399.1 43.2,399.1 44.1,399.1 45.0,399.1 45.9,398.7 46.7,398.9 47.5,398.9 48.2,398.7 48.9,398.8 49.5,399.0 50.0,399.1 50.6,399.1 51.3,399.0 51.9,398.9 52.7,399.1 53.4,399.1 54.2,399.3 55.1,399.2 55.9,399.3 56.8,399.4 57.6,399.5 58.5,399.7 59.4,399.9 60.3,399.9 61.2,399.9 62.1,400.1 62.9,400.2 63.7,400.3 64.5,400.5 65.3,400.8 66.0,400.5 66.7,400.8 67.4,400.6 68.0,400.7 68.5,400.8 69.0,400.9 69.7,400.6 70.4,400.5 71.2,400.5 72.0,400.3 72.8,400.3 73.7,400.2 74.5,399.7 75.4,399.6 76.3,399.2 77.1,398.9 78.0,398.5 78.8,398.3 79.6,398.1 80.3,397.7 81.0,397.4 81.6,397.1 82.2,397.2 82.7,396.8 83.2,396.5 83.7,396.1 84.2,395.6 84.8,395.2 85.4,394.5 86.0,393.7 86.6,393.0 87.2,392.4 87.8,391.9 88.5,391.3 89.1,390.4 89.6,389.9 90.2,389.1 90.7,388.6 91.2,388.1 91.6,387.6 92.0,387.3 92.4,386.9 93.0,386.6 93.7,386.2 94.5,385.4 95.3,385.1 96.1,384.6 96.8,384.3 97.6,384.0 98.2,383.5 98.8,383.2 99.3,383.3 100.0,383.4 100.8,383.5 101.7,383.8 102.5,384.5 103.3,384.8 104.1,385.2 104.6,385.4 105.3,385.4 106.1,385.4 106.9,385.4 107.9,385.4 108.8,385.7 109.6,385.8 110.4,385.4 111.1,385.4 111.7,385.0 112.1,384.7 112.5,384.2 113.0,383.9 113.5,383.3 114.0,382.4 114.5,381.5 115.0,380.8 115.5,379.8 116.0,379.3 116.4,378.2 116.9,377.7 117.2,376.9 117.5,376.5 117.7,375.9 117.9,375.3 118.1,374.6 118.3,373.6 118.6,372.7 118.8,371.7 119.0,370.7 119.2,369.9 119.5,368.9 119.7,367.9 120.0,367.1 120.2,366.0 120.4,365.4 120.7,364.6 120.9,364.1 121.2,363.8 121.4,363.8 121.8,363.4 122.3,363.6 122.8,364.1 123.5,364.6 124.1,365.4 124.8,365.9 125.6,366.9 126.3,367.6 127.0,368.3 127.7,369.0 128.3,369.6 128.8,370.2 129.2,370.3 129.9,370.9 130.8,371.2 131.6,371.7 132.5,371.9 133.4,371.9 134.3,371.8 135.1,371.4 135.5,371.3 135.9,370.9 136.4,370.5 137.0,370.0 137.5,369.5 138.2,368.6 138.8,367.9 139.5,367.4 140.2,366.6 140.9,365.9 141.6,365.0 142.2,364.3 142.8,363.8 143.4,363.6 143.9,363.2 144.4,363.0 144.8,362.5 145.3,362.6 145.9,362.9 146.6,363.3 147.2,363.7 147.9,364.4 148.6,365.0 149.3,365.6 150.0,366.3 150.7,366.9 151.4,367.0 152.0,367.4 152.6,367.3 153.1,367.6 153.7,367.2 154.4,366.9 155.2,366.6 156.0,366.6 156.9,366.0 157.8,365.7 158.8,365.3 159.7,364.9 160.6,364.6 161.4,364.2 162.2,363.6 162.9,363.4 163.5,362.9 164.0,362.8 164.3,362.6 164.7,362.1 164.8,361.1 164.8,360.7 164.9,360.1 164.9,359.3 165.0,358.4 165.1,357.4 165.1,356.4 165.2,355.3 165.3,354.3 165.3,353.3 165.4,352.3 165.5,351.5 165.6,350.8 165.6,350.3 165.7,350.0 166.0,350.0 166.4,351.0 166.9,352.3 167.3,353.1 167.8,354.2 168.4,354.4 169.2,353.2 170.2,355.8 170.5,356.0 170.8,356.3 171.3,357.1 171.7,355.8 172.3,356.1 172.9,356.8 173.5,359.4 174.1,359.9 174.8,359.1 175.5,360.1 176.1,360.7 176.8,362.9 177.4,364.2 178.0,362.5 178.6,363.6 179.1,364.3 179.6,366.4 180.0,367.0 180.3,367.0 180.5,366.5" fill="none" stroke="#E91E7A" stroke-width="1.5" stroke-linejoin="round" stroke-linecap="round"/>
<polyline points="32.0,387.0 32.3,387.0 32.7,387.1 33.2,386.9 33.8,386.7 34.5,386.6 35.2,386.7 35.9,386.6 36.8,386.5 37.6,386.2 38.5,386.2 39.4,386.2 40.4,385.8 41.3,385.8 42.3,385.8 43.2,385.8 44.1,385.4 45.0,385.2 45.9,385.4 46.7,385.2 47.5,385.1 48.2,385.1 48.9,385.0 49.5,385.0 50.0,385.1 50.6,385.0 51.3,385.3 51.9,385.4 52.7,385.3 53.4,385.4 54.2,385.4 55.1,385.7 55.9,386.0 56.8,386.1 57.6,386.1 58.5,386.4 59.4,386.7 60.3,386.6 61.2,386.7 62.1,387.0 62.9,387.2 63.7,387.4 64.5,387.5 65.3,387.6 66.0,387.8 66.7,387.8 67.4,387.7 68.0,387.8 68.5,387.8 69.0,387.9 69.7,387.8 70.4,388.1 71.2,387.8 72.0,387.6 72.9,387.7 73.8,387.4 74.7,387.3 75.6,387.2 76.4,387.0 77.3,386.8 78.2,386.7 79.0,386.3 79.8,386.0 80.5,385.9 81.2,385.7 81.8,385.4 82.3,385.1 82.7,385.0 83.3,384.5 83.8,384.0 84.4,383.5 84.9,383.0 85.4,382.3 85.9,381.5 86.4,380.8 86.9,380.1 87.3,379.5 87.8,378.6 88.1,377.8 88.5,377.4 88.8,377.0 89.1,376.2 89.4,375.6 89.8,375.0 90.2,374.1 90.6,373.2 91.0,372.6 91.4,371.9 91.8,370.8 92.2,370.2 92.6,369.3 93.0,368.5 93.4,367.8 93.8,367.2 94.1,367.0 94.4,366.5 95.0,365.9 95.7,365.5 96.5,365.2 97.4,364.8 98.3,364.3 99.2,363.9 100.0,364.0 100.7,363.9 101.2,363.6 101.8,363.8 102.5,364.1 103.2,365.0 103.8,365.7 104.5,366.1 105.1,366.4 105.7,366.8 106.5,367.0 107.4,367.1 108.4,367.2 109.3,367.5 110.3,367.8 111.1,367.6 111.7,367.3 112.1,367.3 112.5,367.0 113.0,366.4 113.5,365.8 114.0,365.2 114.5,364.4 115.0,363.8 115.4,363.2 115.9,362.4 116.3,361.6 116.6,360.5 116.7,360.3 116.9,359.9 117.1,359.4 117.2,358.5 117.4,358.0 117.6,356.9 117.8,356.2 118.0,355.1 118.2,354.3 118.4,353.1 118.7,352.1 118.9,351.4 119.1,350.6 119.3,349.3 119.5,348.5 119.8,347.4 120.0,346.9 120.2,346.2 120.4,345.3 120.6,344.6 120.8,344.1 121.0,343.8 121.2,343.3 121.4,343.0 121.8,343.0 122.3,343.2 122.9,343.4 123.5,343.7 124.2,344.3 124.9,344.8 125.6,345.8 126.3,346.4 127.0,347.3 127.7,348.0 128.3,348.2 128.8,348.6 129.2,348.9 129.9,349.0 130.8,349.4 131.6,349.4 132.5,349.7 133.4,349.5 134.3,349.4 135.1,349.0 135.5,348.8 135.9,348.3 136.4,347.8 137.0,347.3 137.5,346.8 138.2,346.0 138.8,345.4 139.5,344.7 140.2,344.2 140.9,343.3 141.6,342.9 142.2,342.2 142.8,341.7 143.4,341.1 143.9,340.7 144.4,340.2 144.8,340.3 145.4,340.2 146.0,340.2 146.7,340.6 147.5,341.0 148.2,341.8 149.0,342.3 149.8,342.9 150.5,343.3 151.3,343.6 152.0,343.9 152.6,344.2 153.1,344.1 153.7,343.9 154.4,343.7 155.2,343.4 156.0,343.1 156.9,342.7 157.8,342.4 158.7,341.9 159.7,341.4 160.5,340.9 161.4,340.5 162.2,340.1 162.9,339.9 163.5,339.5 163.9,339.5 164.3,339.2 165.2,338.8 165.4,337.9 165.5,337.5 165.5,336.9 165.6,336.1 165.7,335.1 165.7,334.2 165.8,333.1 165.9,332.1 166.0,331.1 166.1,330.2 166.1,329.5 166.2,328.9 166.3,328.5 167.0,328.4 167.9,330.1 168.5,330.0 169.4,327.8 170.3,330.1 171.1,330.7 171.5,330.4 172.0,329.2 172.5,329.9 173.2,330.5 173.8,333.1 174.5,333.8 175.0,332.7 175.6,332.8 176.0,333.7 176.4,336.2 176.9,336.4 177.5,337.6 178.2,336.1 178.8,337.3 179.3,339.3 179.8,339.9 180.2,340.9 180.5,340.2" fill="none" stroke="#F28A1A" stroke-width="1.5" stroke-linejoin="round" stroke-linecap="round"/>
<line x1="121.60" y1="338.00" x2="121.60" y2="482.00" stroke="#333" stroke-width="1.35" stroke-linecap="butt" stroke-dasharray="4,3"/>
<circle cx="121.4" cy="334.4" r="1.6" fill="#111"/>
<line x1="117.30" y1="492.00" x2="117.30" y2="511.00" stroke="#333" stroke-width="1.3" stroke-linecap="butt" stroke-dasharray="4,3"/>
<text x="117.30" y="517.00" font-family="Liberation Sans" font-size="6.5" font-weight="normal" text-anchor="middle" fill="#111" >▼</text>
<text x="122.50" y="330.50" font-family="Liberation Serif" font-size="7" font-weight="bold" text-anchor="middle" fill="#222" letter-spacing="0.6">formate</text>
<text x="121.00" y="522.50" font-family="Liberation Serif" font-size="7" font-weight="bold" text-anchor="middle" fill="#222" letter-spacing="0.6">Bicarbonate</text>
<text x="74.50" y="383.40" font-family="Liberation Sans" font-size="8.6" font-weight="bold" text-anchor="end" fill="#222" stroke="#222" stroke-width="0.2">500°C</text>
<text x="74.50" y="397.10" font-family="Liberation Sans" font-size="8.6" font-weight="bold" text-anchor="end" fill="#222" stroke="#222" stroke-width="0.2">450°C</text>
<text x="74.50" y="410.80" font-family="Liberation Sans" font-size="8.6" font-weight="bold" text-anchor="end" fill="#222" stroke="#222" stroke-width="0.2">400°C</text>
<text x="74.50" y="426.30" font-family="Liberation Sans" font-size="8.6" font-weight="bold" text-anchor="end" fill="#222" stroke="#222" stroke-width="0.2">350°C</text>
<text x="74.50" y="440.20" font-family="Liberation Sans" font-size="8.6" font-weight="bold" text-anchor="end" fill="#222" stroke="#222" stroke-width="0.2">300°C</text>
<text x="74.50" y="455.00" font-family="Liberation Sans" font-size="8.6" font-weight="bold" text-anchor="end" fill="#222" stroke="#222" stroke-width="0.2">250°C</text>
<text x="74.50" y="467.80" font-family="Liberation Sans" font-size="8.6" font-weight="bold" text-anchor="end" fill="#222" stroke="#222" stroke-width="0.2">200°C</text>
<text x="74.50" y="481.60" font-family="Liberation Sans" font-size="8.6" font-weight="bold" text-anchor="end" fill="#222" stroke="#222" stroke-width="0.2">150°C</text>
<text x="74.50" y="495.50" font-family="Liberation Sans" font-size="8.6" font-weight="bold" text-anchor="end" fill="#222" stroke="#222" stroke-width="0.2">100°C</text>
<text x="74.50" y="510.30" font-family="Liberation Sans" font-size="8.6" font-weight="bold" text-anchor="end" fill="#222" stroke="#222" stroke-width="0.2">50°C</text>
<polyline points="205.0,513.3 205.3,513.3 205.6,513.4 206.0,513.2 206.5,513.2 206.9,513.3 207.5,513.3 208.0,513.2 208.6,513.2 209.3,513.1 209.9,513.1 210.6,513.2 211.4,513.4 212.1,513.3 212.9,513.3 213.7,513.1 214.6,513.1 215.4,513.0 216.3,513.2 217.2,513.0 218.1,513.0 219.0,513.3 219.9,513.1 220.9,513.3 221.8,513.2 222.8,513.2 223.7,513.1 224.7,512.9 225.6,513.1 226.6,512.9 227.5,512.9 228.5,512.8 229.4,512.7 230.3,512.8 231.2,512.7 232.1,512.8 233.0,513.0 233.9,513.1 234.7,512.9 235.5,512.7 236.3,512.7 237.1,512.6 237.8,512.6 238.5,512.8 239.2,512.8 239.8,512.6 240.4,512.7 241.0,512.7 241.5,512.7 242.0,512.5 242.6,512.6 243.3,512.5 244.0,512.7 244.8,512.7 245.6,512.7 246.4,512.6 247.2,512.8 248.0,512.6 248.9,512.4 249.8,512.4 250.7,512.6 251.6,512.4 252.5,512.5 253.4,512.6 254.3,512.6 255.2,512.4 256.1,512.3 257.0,512.5 257.9,512.4 258.8,512.4 259.7,512.1 260.5,512.2 261.4,512.3 262.2,512.0 263.0,511.9 263.7,512.2 264.5,512.1 265.2,512.0 265.8,511.9 266.5,511.8 267.0,511.7 267.6,511.6 268.1,511.7 268.5,511.6 268.9,511.9 269.3,511.9 270.6,511.6 271.7,511.0 272.6,510.8 273.3,510.2 273.9,509.8 274.3,509.3 274.8,509.0 275.2,508.6 275.8,508.2 276.5,507.7 277.2,507.2 277.9,506.8 278.5,506.3 279.0,506.0 279.9,505.9 280.9,506.0 281.8,505.6 282.3,505.3 282.9,504.8 283.7,504.4 284.5,503.8 285.3,503.5 286.0,502.9 286.6,502.6 287.1,502.9 287.8,503.2 288.5,503.3 289.2,503.8 290.1,504.4 290.9,505.1 291.7,505.6 292.5,506.0 292.9,506.1 293.5,506.5 294.1,506.6 294.8,506.8 295.6,507.1 296.4,507.8 297.3,508.2 298.2,508.6 299.1,509.1 299.9,509.4 300.8,509.6 301.6,510.0 302.4,510.4 303.1,510.3 303.7,510.7 304.2,510.6 304.8,510.4 305.5,510.3 306.3,510.2 307.1,509.8 307.9,509.3 308.8,509.0 309.6,508.4 310.5,508.1 311.3,507.6 312.1,507.3 312.8,507.0 313.4,506.7 313.9,506.5 314.5,506.8 315.2,506.9 315.9,507.1 316.6,507.6 317.4,508.1 318.2,508.3 319.0,508.8 319.7,509.0 320.4,509.5 321.1,509.5 321.7,509.8 322.2,509.7 322.8,509.5 323.5,509.2 324.3,508.8 325.1,508.5 325.9,508.0 326.8,507.6 327.6,507.3 328.4,507.0 329.2,506.5 329.9,506.3 330.6,506.1 331.1,506.0 331.5,505.6 332.2,506.0 332.9,506.4 333.5,507.3 334.1,508.1 334.6,508.8 335.1,509.5 335.4,509.7 336.0,509.6 336.5,509.1 336.8,507.8 336.8,507.4 336.9,506.9 336.9,506.2 337.0,505.4 337.1,504.5 337.1,503.6 337.2,502.6 337.2,501.5 337.3,500.5 337.3,499.4 337.4,498.4 337.4,497.5 337.5,496.6 337.5,495.8 337.6,495.1 337.6,494.6 337.7,494.2 337.7,494.0 337.8,494.0 337.8,494.4 337.9,495.0 338.0,495.9 338.1,496.9 338.2,497.9 338.2,499.0 338.3,500.1 338.4,501.0 338.5,501.8 338.6,502.2 338.9,503.2 339.3,504.0 339.8,505.1 340.3,505.5 340.8,505.1 341.6,504.7 342.4,503.9 343.4,504.0 344.3,504.1 345.1,504.0 345.5,503.9 346.0,504.0 346.7,504.9 347.4,505.6 348.1,506.2 348.9,507.1 349.6,507.2 350.4,507.7 351.1,508.4 351.7,509.1 352.3,509.5 352.7,510.0 353.0,510.6" fill="none" stroke="#EB8B46" stroke-width="1.5" stroke-linejoin="round" stroke-linecap="round"/>
<polyline points="205.0,499.0 205.3,498.9 205.6,499.2 206.0,499.1 206.4,499.0 206.9,499.1 207.4,498.9 208.0,498.9 208.6,499.0 209.2,498.9 209.9,499.1 210.5,499.1 211.3,499.1 212.0,499.0 212.8,499.0 213.6,499.2 214.4,499.4 215.3,499.2 216.1,499.3 217.0,499.2 217.9,499.3 218.8,499.2 219.7,499.3 220.6,499.3 221.6,499.5 222.5,499.5 223.5,499.2 224.4,499.2 225.4,499.3 226.3,499.3 227.2,499.3 228.2,499.6 229.1,499.7 230.0,499.3 230.9,499.2 231.8,499.5 232.7,499.7 233.6,499.7 234.4,499.7 235.3,499.7 236.1,499.6 236.8,499.6 237.6,499.7 238.3,499.5 239.0,499.6 239.7,499.7 240.3,499.5 240.9,499.7 241.5,499.5 242.0,499.8 242.6,499.8 243.2,499.6 243.8,499.6 244.5,499.8 245.2,499.6 246.0,499.4 246.7,499.6 247.5,499.7 248.3,499.4 249.1,499.6 250.0,499.5 250.9,499.6 251.7,499.5 252.6,499.7 253.5,499.5 254.4,499.7 255.3,499.7 256.3,499.3 257.2,499.5 258.1,499.5 259.0,499.2 259.9,499.3 260.8,499.2 261.7,499.1 262.6,499.0 263.5,499.1 264.4,499.3 265.2,499.0 266.1,499.2 266.9,499.3 267.7,499.1 268.5,499.2 269.2,499.2 269.9,499.2 270.6,499.1 271.3,499.2 271.9,499.0 272.5,498.9 273.0,498.8 273.6,498.8 274.0,498.7 274.5,499.0 274.9,498.8 275.2,499.0 276.8,499.0 278.0,498.8 279.0,498.4 279.8,498.3 280.4,498.5 281.0,498.3 281.4,498.2 281.8,497.9 282.5,497.4 283.2,496.9 283.9,496.4 284.7,495.8 285.2,495.8 285.8,495.7 286.5,495.4 287.3,495.0 288.2,494.8 289.1,494.5 290.0,494.4 290.9,494.2 291.8,494.2 292.5,494.3 293.0,494.1 293.5,494.3 294.1,494.2 294.8,494.7 295.5,494.8 296.3,495.1 297.1,495.3 297.9,495.4 298.8,495.9 299.6,495.8 300.4,496.1 301.3,496.4 302.1,496.8 302.8,496.9 303.5,497.1 304.2,497.0 304.7,497.0 305.2,497.1 305.9,496.9 306.6,496.8 307.3,496.9 308.1,496.7 309.0,496.7 309.8,496.7 310.7,496.9 311.6,496.8 312.6,496.8 313.5,496.7 314.4,496.6 315.3,496.7 316.2,496.4 317.1,496.3 317.9,496.2 318.7,496.0 319.4,495.9 320.1,495.9 320.7,496.1 321.2,495.9 321.7,496.0 322.5,495.8 323.3,495.9 324.1,495.7 325.0,495.6 325.9,495.7 326.8,495.6 327.6,495.6 328.4,495.2 329.2,495.2 329.9,495.0 330.5,495.2 331.1,495.0 331.5,495.1 332.5,495.0 333.4,495.2 334.2,495.3 334.9,495.3 335.4,495.2 336.0,494.8 336.5,494.2 336.8,492.5 336.8,492.1 336.9,491.6 336.9,491.0 336.9,490.3 337.0,489.5 337.0,488.6 337.1,487.7 337.1,486.7 337.1,485.7 337.2,484.7 337.2,483.6 337.3,482.5 337.3,481.5 337.4,480.5 337.4,479.5 337.4,478.5 337.5,477.6 337.5,476.8 337.5,476.0 337.6,475.4 337.6,474.9 337.6,474.4 337.7,474.1 337.7,474.0 337.7,474.0 337.8,474.2 337.8,474.7 337.9,475.2 337.9,475.9 338.0,476.8 338.0,477.7 338.1,478.7 338.1,479.7 338.2,480.8 338.2,481.9 338.3,482.9 338.3,483.9 338.4,484.9 338.4,485.7 338.5,486.5 338.5,487.1 338.6,487.5 338.8,488.5 339.0,489.5 339.3,490.3 339.6,491.2 339.9,491.4 340.3,491.9 340.8,492.4 341.6,492.2 342.4,492.0 343.4,492.0 344.3,492.3 345.1,491.9 345.6,492.4 346.3,492.4 347.0,493.0 347.9,493.0 348.8,493.3 349.7,493.9 350.6,494.8 351.4,495.0 352.1,495.7 352.6,495.7 353.0,496.0" fill="none" stroke="#0C9188" stroke-width="1.5" stroke-linejoin="round" stroke-linecap="round"/>
<polyline points="205.0,483.4 205.3,483.4 205.6,483.3 206.0,483.6 206.4,483.5 206.9,483.4 207.4,483.5 208.0,483.6 208.6,483.6 209.2,483.5 209.9,483.3 210.5,483.5 211.3,483.5 212.0,483.6 212.8,483.3 213.6,483.5 214.4,483.6 215.3,483.7 216.1,483.8 217.0,483.7 217.9,483.6 218.8,483.8 219.7,483.9 220.6,483.9 221.6,483.7 222.5,483.5 223.5,483.6 224.4,483.7 225.4,483.7 226.3,483.7 227.2,483.7 228.2,483.9 229.1,483.6 230.0,483.7 230.9,483.9 231.8,483.9 232.7,483.6 233.6,483.7 234.4,484.0 235.3,483.9 236.1,483.8 236.8,483.9 237.6,484.0 238.3,484.2 239.0,484.1 239.7,484.2 240.3,484.0 240.9,484.0 241.5,483.9 242.0,483.9 242.6,484.2 243.2,483.9 243.8,484.0 244.5,484.2 245.2,484.2 246.0,484.3 246.8,484.2 247.5,484.0 248.4,484.0 249.2,484.2 250.1,484.2 250.9,484.3 251.8,484.3 252.7,484.5 253.6,484.4 254.5,484.5 255.5,484.4 256.4,484.4 257.3,484.5 258.2,484.7 259.2,484.8 260.1,484.5 261.0,484.7 261.9,484.9 262.8,484.6 263.7,484.7 264.6,484.7 265.4,484.7 266.3,484.7 267.1,484.9 267.9,484.9 268.7,484.8 269.4,485.0 270.1,484.9 270.8,484.8 271.4,485.0 272.1,485.3 272.6,485.4 273.2,485.3 273.7,485.2 274.1,485.0 274.5,485.2 274.9,485.4 275.2,485.3 276.7,485.6 277.3,486.1 277.5,486.9 277.9,487.2 278.5,487.8 279.4,488.3 280.3,488.8 281.2,489.3 281.8,489.2 282.3,488.9 282.8,488.3 283.4,487.5 284.0,486.8 284.7,486.1 285.1,486.1 285.6,485.8 286.1,485.5 286.8,484.8 287.5,484.3 288.2,483.8 289.0,483.1 289.7,482.8 290.5,482.3 291.2,481.7 291.9,481.6 292.5,481.6 293.0,481.6 293.6,481.4 294.4,481.3 295.1,481.5 296.0,481.7 296.9,481.9 297.8,482.1 298.7,482.5 299.7,482.4 300.6,482.7 301.4,482.9 302.2,483.2 303.0,483.2 303.6,483.2 304.2,483.5 304.8,483.4 305.5,483.4 306.3,483.4 307.1,483.4 307.9,483.2 308.8,483.1 309.6,483.0 310.5,483.0 311.3,482.6 312.1,482.4 312.8,482.5 313.4,482.4 313.9,482.5 314.6,482.7 315.3,482.4 316.1,482.7 317.0,482.9 317.9,482.9 318.8,483.3 319.6,483.6 320.4,483.4 321.1,483.5 321.7,483.3 322.2,483.1 322.7,482.8 323.3,482.6 324.0,481.9 324.6,481.4 325.3,480.6 326.0,479.9 326.7,479.4 327.4,478.7 328.0,478.2 328.6,478.0 329.1,477.7 329.5,477.3 330.2,477.5 331.0,477.6 331.8,478.1 332.7,478.7 333.6,479.5 334.3,479.9 335.0,480.1 335.4,480.5 336.1,480.3 336.5,479.7 336.8,478.1 336.8,477.7 336.9,477.2 336.9,476.5 337.0,475.8 337.0,475.0 337.0,474.1 337.1,473.1 337.1,472.1 337.2,471.0 337.2,469.9 337.3,468.9 337.3,467.8 337.4,466.8 337.4,465.8 337.4,464.8 337.5,464.0 337.5,463.2 337.6,462.5 337.6,461.9 337.6,461.5 337.7,461.2 337.7,461.0 337.7,461.0 337.8,461.3 337.8,461.7 337.9,462.3 337.9,463.1 338.0,463.9 338.0,464.9 338.1,465.9 338.1,467.0 338.2,468.0 338.3,469.1 338.3,470.1 338.4,471.1 338.4,471.9 338.5,472.7 338.5,473.3 338.6,473.8 338.8,474.7 338.9,475.6 339.2,476.4 339.4,477.3 339.8,477.3 340.3,478.3 340.7,478.6 341.4,478.7 342.2,478.5 343.1,478.3 344.0,478.6 345.0,478.8 345.9,478.1 346.7,478.4 347.5,478.8 348.0,478.7 348.7,478.5 349.5,479.4 350.4,479.4 351.3,480.5 352.0,480.4 352.6,481.5 353.0,481.4" fill="none" stroke="#6262C0" stroke-width="1.5" stroke-linejoin="round" stroke-linecap="round"/>
<polyline points="205.0,469.8 205.3,469.9 205.6,469.6 206.0,469.9 206.4,469.9 206.9,469.9 207.4,470.0 208.0,469.8 208.6,470.0 209.2,470.0 209.9,469.7 210.5,469.9 211.3,469.9 212.0,470.0 212.8,470.1 213.6,470.0 214.4,470.0 215.3,470.1 216.1,469.9 217.0,469.8 217.9,470.0 218.8,470.1 219.7,470.2 220.6,470.2 221.6,470.1 222.5,470.2 223.5,470.0 224.4,469.9 225.4,470.2 226.3,470.2 227.2,470.2 228.2,470.2 229.1,470.0 230.0,470.0 230.9,470.0 231.8,470.0 232.7,470.1 233.6,470.0 234.4,470.3 235.3,470.1 236.1,470.0 236.8,470.2 237.6,470.1 238.3,470.1 239.0,470.3 239.7,470.3 240.3,470.4 240.9,470.5 241.5,470.3 242.0,470.3 242.6,470.2 243.2,470.2 243.8,470.2 244.5,470.2 245.2,470.3 246.0,470.4 246.8,470.6 247.5,470.6 248.4,470.2 249.2,470.2 250.1,470.5 250.9,470.6 251.8,470.4 252.7,470.2 253.6,470.1 254.5,470.1 255.5,470.5 256.4,470.5 257.3,470.4 258.2,470.4 259.2,470.3 260.1,470.3 261.0,470.2 261.9,470.4 262.8,470.4 263.7,470.4 264.6,470.2 265.4,470.1 266.3,470.1 267.1,470.4 267.9,470.6 268.7,470.5 269.4,470.6 270.1,470.5 270.8,470.5 271.4,470.4 272.1,470.6 272.6,470.4 273.2,470.6 273.7,470.8 274.1,470.5 274.5,470.7 274.9,470.7 275.2,470.8 276.3,471.0 276.9,471.7 277.3,472.5 277.5,473.2 277.6,473.9 277.9,474.5 278.3,475.1 278.7,475.8 279.3,476.6 279.8,477.2 280.4,478.3 281.0,478.9 281.4,479.3 281.8,479.7 282.3,479.6 282.8,478.8 283.4,478.1 284.0,477.2 284.7,476.6 285.0,476.2 285.4,475.6 285.9,475.2 286.4,474.7 287.0,473.9 287.6,473.1 288.2,472.3 288.9,471.5 289.5,470.9 290.2,470.5 290.8,469.8 291.4,469.1 292.0,468.7 292.5,468.8 293.0,468.8 293.6,468.4 294.4,468.6 295.1,468.4 296.0,468.8 296.9,468.8 297.8,468.9 298.7,469.2 299.7,469.3 300.6,469.4 301.4,469.5 302.2,469.7 303.0,469.8 303.6,469.8 304.2,469.5 304.8,469.6 305.5,469.6 306.3,469.2 307.1,468.7 307.9,468.6 308.8,468.4 309.6,467.9 310.5,467.6 311.3,467.1 312.1,467.2 312.8,466.9 313.4,466.6 313.9,466.5 314.4,467.0 315.1,467.2 315.7,467.9 316.4,468.3 317.1,468.9 317.9,469.3 318.6,470.1 319.3,470.6 320.0,471.1 320.6,471.4 321.2,471.5 321.7,471.8 322.2,471.6 322.7,471.3 323.3,470.9 324.0,470.1 324.6,469.3 325.3,468.6 326.0,467.9 326.7,467.1 327.4,466.7 328.0,465.9 328.6,465.4 329.1,464.8 329.5,464.7 330.2,464.6 331.0,464.9 331.8,465.3 332.7,465.7 333.6,466.2 334.3,466.7 335.0,466.7 335.4,466.7 336.1,466.5 336.5,466.1 336.8,464.5 336.8,464.2 336.9,463.7 336.9,463.1 337.0,462.3 337.0,461.5 337.0,460.7 337.1,459.7 337.1,458.7 337.2,457.7 337.2,456.7 337.3,455.6 337.3,454.6 337.4,453.6 337.4,452.7 337.4,451.7 337.5,450.9 337.5,450.1 337.6,449.5 337.6,448.9 337.6,448.5 337.7,448.2 337.7,448.0 337.7,448.0 337.8,448.3 337.8,448.8 337.9,449.4 337.9,450.2 338.0,451.1 338.1,452.1 338.1,453.1 338.2,454.2 338.2,455.2 338.3,456.3 338.4,457.3 338.4,458.2 338.5,458.9 338.5,459.6 338.6,460.0 338.8,461.1 339.0,462.0 339.3,462.8 339.7,463.5 340.3,463.9 340.8,464.2 341.4,464.3 342.2,464.3 343.2,464.4 344.1,464.7 345.1,464.8 346.0,465.2 346.9,465.4 347.5,465.2 348.0,465.6 348.7,466.8 349.2,467.6 349.6,468.7 350.0,468.7 350.5,468.5 351.2,467.5 352.0,467.0 352.6,466.5 353.0,465.8" fill="none" stroke="#CF2F86" stroke-width="1.5" stroke-linejoin="round" stroke-linecap="round"/>
<polyline points="205.0,454.1 205.3,454.3 205.6,454.0 206.0,453.9 206.4,454.2 206.9,454.2 207.4,454.3 208.0,454.3 208.6,454.1 209.2,454.1 209.9,454.1 210.5,454.0 211.3,454.1 212.0,454.0 212.8,454.0 213.6,454.1 214.4,454.3 215.3,454.2 216.1,454.5 217.0,454.4 217.9,454.4 218.8,454.4 219.7,454.2 220.6,454.3 221.6,454.5 222.5,454.4 223.5,454.4 224.4,454.5 225.4,454.7 226.3,454.5 227.2,454.4 228.2,454.7 229.1,454.7 230.0,454.7 230.9,454.6 231.8,454.6 232.7,454.7 233.6,454.8 234.4,454.6 235.3,454.4 236.1,454.6 236.8,454.5 237.6,454.8 238.3,454.9 239.0,454.9 239.7,454.8 240.3,454.6 240.9,454.6 241.5,454.6 242.0,454.5 242.6,454.8 243.2,454.8 243.8,454.8 244.5,454.6 245.2,454.8 246.0,454.6 246.8,454.7 247.5,454.7 248.4,454.8 249.2,454.6 250.1,454.9 250.9,454.7 251.8,454.9 252.7,454.9 253.6,454.7 254.5,454.7 255.5,454.8 256.4,454.7 257.3,454.6 258.2,454.8 259.2,454.6 260.1,454.5 261.0,454.6 261.9,454.7 262.8,454.8 263.7,454.7 264.6,454.7 265.4,454.7 266.3,454.7 267.1,454.7 267.9,454.7 268.7,454.7 269.4,454.8 270.1,454.9 270.8,454.9 271.4,455.0 272.1,454.8 272.6,454.9 273.2,454.8 273.7,455.1 274.1,455.0 274.5,455.1 274.9,455.0 275.2,455.0 276.3,455.4 276.9,455.8 277.3,456.5 277.5,457.2 277.6,458.4 277.9,458.9 278.1,459.5 278.4,460.3 278.7,461.1 279.1,461.8 279.5,462.6 279.8,463.7 280.2,464.8 280.6,465.5 281.0,466.3 281.3,467.1 281.6,467.7 281.8,468.0 282.4,468.2 283.1,467.7 283.8,467.0 284.7,465.9 285.0,465.5 285.3,464.9 285.7,464.6 286.1,463.8 286.6,463.1 287.1,462.3 287.7,461.7 288.2,460.8 288.8,460.1 289.4,459.1 289.9,458.3 290.5,457.7 291.0,457.2 291.6,456.8 292.1,456.4 292.5,456.2 293.0,455.8 293.6,455.7 294.4,455.6 295.1,455.6 296.0,455.5 296.9,455.2 297.8,455.1 298.7,455.1 299.7,455.3 300.6,455.3 301.4,455.3 302.2,455.1 303.0,455.1 303.6,455.3 304.2,455.3 304.8,454.8 305.5,454.7 306.3,454.3 307.1,454.0 307.9,453.6 308.8,453.2 309.6,452.7 310.5,452.2 311.3,451.7 312.1,451.5 312.8,451.2 313.4,451.2 313.9,451.1 314.4,451.2 315.0,451.9 315.6,452.2 316.2,452.8 316.9,453.6 317.5,454.4 318.2,455.4 318.9,456.0 319.5,456.6 320.2,457.0 320.7,457.8 321.2,458.0 321.7,458.0 322.1,457.8 322.6,457.4 323.1,457.2 323.6,456.5 324.2,455.7 324.8,455.2 325.4,454.5 326.0,453.7 326.6,452.6 327.2,452.0 327.7,451.1 328.2,450.3 328.7,449.8 329.1,449.6 329.5,449.4 330.3,448.9 331.2,448.8 332.2,449.0 333.2,448.9 334.1,449.3 334.9,449.1 335.4,449.2 336.3,448.9 336.8,447.6 336.9,447.2 336.9,446.6 337.0,445.9 337.0,445.0 337.1,444.0 337.2,443.0 337.2,441.9 337.3,440.8 337.4,439.8 337.4,438.8 337.5,438.0 337.6,437.2 337.6,436.6 337.7,436.2 337.7,436.0 337.8,436.1 337.8,436.5 337.9,437.1 338.0,438.0 338.1,439.0 338.2,440.0 338.2,441.1 338.3,442.1 338.4,443.0 338.5,443.8 338.6,444.2 338.8,445.1 339.2,445.9 339.6,446.2 340.3,446.5 340.8,446.7 341.4,447.1 342.2,447.1 343.2,447.3 344.1,447.7 345.1,448.2 346.0,448.7 346.9,449.0 347.5,449.0 348.0,449.5 348.4,449.7 348.8,450.4 349.1,451.4 349.3,452.0 349.5,453.5 349.8,454.0 350.0,453.8 350.3,453.4 350.8,453.3 351.3,452.4 351.9,451.3 352.4,450.7 352.8,449.4 353.0,449.2" fill="none" stroke="#EE8AB0" stroke-width="1.5" stroke-linejoin="round" stroke-linecap="round"/>
<polyline points="205.0,439.1 205.3,439.0 205.6,438.9 206.0,439.0 206.4,439.3 206.9,439.0 207.4,439.1 208.0,439.1 208.6,439.0 209.2,439.0 209.9,439.0 210.5,439.2 211.3,439.2 212.0,439.3 212.8,439.3 213.6,439.1 214.4,439.3 215.3,439.3 216.1,439.3 217.0,439.2 217.9,439.1 218.8,439.4 219.7,439.4 220.6,439.5 221.6,439.3 222.5,439.1 223.5,439.4 224.4,439.6 225.4,439.5 226.3,439.4 227.2,439.4 228.2,439.2 229.1,439.2 230.0,439.5 230.9,439.2 231.8,439.3 232.7,439.5 233.6,439.5 234.4,439.3 235.3,439.2 236.1,439.4 236.8,439.3 237.6,439.5 238.3,439.5 239.0,439.5 239.7,439.4 240.3,439.4 240.9,439.6 241.5,439.7 242.0,439.7 242.6,439.5 243.2,439.4 243.8,439.6 244.5,439.6 245.2,439.6 246.0,439.7 246.8,439.4 247.5,439.4 248.4,439.3 249.2,439.4 250.1,439.2 250.9,439.3 251.8,439.4 252.7,439.4 253.6,439.6 254.5,439.5 255.5,439.4 256.4,439.4 257.3,439.5 258.2,439.5 259.2,439.4 260.1,439.2 261.0,439.3 261.9,439.3 262.8,439.4 263.7,439.2 264.6,439.1 265.4,439.1 266.3,439.2 267.1,439.2 267.9,439.1 268.7,439.2 269.4,439.1 270.1,439.2 270.8,439.1 271.4,439.0 272.1,439.4 272.6,439.4 273.2,439.3 273.7,439.5 274.1,439.5 274.5,439.3 274.9,439.3 275.2,439.4 276.1,439.9 276.7,440.4 277.0,441.1 277.3,441.9 277.4,442.7 277.5,443.8 277.7,444.4 277.9,445.2 278.1,445.6 278.4,446.5 278.7,447.3 279.1,448.0 279.5,449.1 279.8,450.2 280.2,451.2 280.6,452.1 281.0,452.6 281.3,453.5 281.6,454.0 281.8,454.1 282.4,454.1 283.1,453.6 283.8,453.2 284.7,452.2 285.0,451.9 285.4,451.5 285.9,450.9 286.4,450.3 287.0,449.6 287.6,449.0 288.2,448.4 288.9,447.5 289.5,446.9 290.2,446.4 290.8,445.7 291.4,445.2 292.0,444.5 292.5,444.3 293.0,444.1 293.6,444.0 294.4,443.9 295.1,443.8 296.0,443.6 296.9,443.4 297.8,443.2 298.7,443.2 299.7,442.9 300.6,443.0 301.4,443.0 302.2,442.7 303.0,442.5 303.6,442.5 304.2,442.2 304.8,442.0 305.5,441.9 306.3,441.5 307.1,441.2 307.9,440.6 308.8,440.1 309.6,439.9 310.5,439.5 311.3,439.3 312.1,438.7 312.8,438.8 313.4,438.7 313.9,438.4 314.4,438.7 315.0,438.9 315.6,439.6 316.2,440.2 316.9,441.0 317.5,441.5 318.2,442.3 318.9,443.1 319.5,443.8 320.2,444.6 320.7,445.1 321.2,445.3 321.7,445.3 322.2,445.3 322.7,445.0 323.3,444.5 324.0,443.9 324.6,443.3 325.3,442.6 326.0,442.0 326.7,441.0 327.4,440.6 328.0,439.8 328.6,439.2 329.1,438.9 329.5,438.4 330.2,438.2 331.0,437.9 331.8,437.4 332.7,437.3 333.6,436.9 334.3,436.9 335.0,436.9 335.4,436.8 336.3,436.3 336.8,435.1 336.9,434.7 336.9,434.0 337.0,433.2 337.1,432.3 337.1,431.3 337.2,430.2 337.3,429.1 337.3,428.0 337.4,427.0 337.5,426.1 337.5,425.2 337.6,424.6 337.7,424.1 337.7,423.9 337.8,424.0 337.9,424.5 338.0,425.3 338.1,426.4 338.2,427.5 338.3,428.7 338.4,429.7 338.5,430.6 338.6,431.2 338.9,432.2 339.4,433.3 340.3,433.4 340.8,433.3 341.4,434.0 342.2,434.0 343.2,434.3 344.1,434.0 345.1,434.3 346.0,434.5 346.9,434.6 347.5,434.8 348.0,434.6 348.4,435.5 348.7,436.0 349.0,437.2 349.2,438.0 349.4,438.7 349.6,439.3 349.8,440.1 350.0,440.8 350.3,440.3 350.7,439.8 351.1,438.5 351.6,437.6 352.1,436.3 352.5,436.0 352.8,435.3 353.0,434.6" fill="none" stroke="#D8A070" stroke-width="1.5" stroke-linejoin="round" stroke-linecap="round"/>
<polyline points="205.0,425.4 205.3,425.3 205.7,425.5 206.1,425.3 206.6,425.5 207.1,425.6 207.7,425.5 208.3,425.2 209.0,425.1 209.7,425.4 210.4,425.3 211.2,425.2 212.0,425.2 212.9,425.1 213.7,424.9 214.6,425.1 215.5,424.9 216.4,424.9 217.4,425.1 218.3,425.1 219.3,425.2 220.2,425.2 221.1,425.1 222.1,425.0 223.0,424.8 223.9,424.9 224.8,424.8 225.7,424.6 226.6,424.7 227.4,424.5 228.2,424.6 229.0,424.6 229.7,424.4 230.4,424.3 231.1,424.4 231.7,424.5 232.3,424.3 232.8,424.3 233.4,424.3 234.0,424.1 234.7,424.1 235.3,424.1 236.0,423.9 236.8,423.9 237.5,424.0 238.3,424.0 239.1,423.7 240.0,423.5 240.8,423.6 241.7,423.3 242.6,423.5 243.4,423.1 244.3,423.2 245.2,423.0 246.1,422.8 247.0,422.7 247.9,422.8 248.8,422.5 249.7,422.7 250.6,422.4 251.5,422.2 252.3,422.2 253.2,422.1 254.0,422.1 254.8,421.9 255.6,421.9 256.3,421.7 257.0,421.9 257.7,421.8 258.4,421.7 259.0,421.5 259.6,421.5 260.1,421.6 260.6,421.7 261.1,421.7 261.5,421.5 262.3,421.4 263.2,421.7 264.1,421.4 265.0,421.8 265.9,421.8 266.9,421.8 267.8,422.1 268.6,422.2 269.5,422.4 270.3,422.7 271.1,422.8 271.9,423.2 272.6,423.4 273.3,423.3 273.9,423.6 274.4,423.5 274.8,423.6 275.2,424.0 276.0,424.3 276.6,425.1 277.0,425.7 277.3,426.5 277.6,427.0 277.9,428.0 278.1,428.2 278.4,428.9 278.8,429.5 279.2,430.6 279.6,431.5 280.0,432.5 280.4,433.1 280.8,434.1 281.2,434.8 281.5,435.1 281.8,435.6 282.4,435.8 283.2,435.8 284.1,435.2 284.9,434.2 285.7,433.5 286.0,433.3 286.3,432.8 286.7,432.3 287.2,431.7 287.7,430.8 288.2,430.0 288.7,429.3 289.3,428.6 289.8,427.8 290.4,426.8 290.9,426.3 291.3,425.3 291.8,424.7 292.2,424.3 292.5,423.8 293.1,423.2 293.7,422.8 294.5,422.4 295.2,422.0 296.0,421.2 296.7,420.9 297.4,420.5 297.9,420.4 298.3,419.9 298.8,419.6 299.2,419.0 300.3,418.6 300.6,418.2 301.1,418.0 301.6,417.8 302.2,417.1 302.8,416.6 303.6,416.3 304.3,415.9 305.2,415.1 306.0,414.4 306.8,413.9 307.7,413.6 308.6,413.1 309.4,412.4 310.2,412.0 311.0,411.7 311.7,411.1 312.4,410.8 313.0,410.8 313.5,410.7 313.9,410.4 314.4,410.8 315.0,411.1 315.5,411.7 316.1,412.1 316.7,412.8 317.3,413.5 317.8,414.4 318.4,415.5 319.0,416.2 319.5,417.0 320.0,417.6 320.5,418.2 321.0,418.7 321.4,419.3 321.7,419.3 322.2,419.3 322.7,419.2 323.2,418.8 323.8,418.0 324.4,417.2 324.9,416.7 325.5,416.0 326.1,415.3 326.6,414.5 327.1,414.1 327.6,413.4 328.1,413.3 328.8,412.8 329.5,412.6 330.4,412.5 331.3,412.0 332.1,411.7 333.0,411.6 333.8,411.1 334.5,411.0 335.0,410.7 335.4,410.8 336.4,410.3 336.8,409.2 336.9,408.8 336.9,408.1 337.0,407.3 337.1,406.3 337.2,405.3 337.2,404.2 337.3,403.1 337.4,402.1 337.5,401.1 337.5,400.3 337.6,399.6 337.6,399.1 337.7,398.9 337.8,399.0 337.9,399.6 338.0,400.4 338.1,401.4 338.2,402.6 338.3,403.8 338.4,404.8 338.5,405.7 338.6,406.3 338.9,407.3 339.4,408.2 340.3,408.8 340.8,408.8 341.4,409.0 342.2,408.6 343.2,408.7 344.1,409.0 345.1,408.9 346.0,408.9 346.9,409.3 347.5,409.2 348.0,409.4 348.3,410.3 348.6,411.2 348.9,412.1 349.1,413.0 349.3,414.4 349.5,414.8 349.6,415.8 349.8,416.5 350.0,416.8 350.2,416.6 350.6,415.6 351.0,415.2 351.4,414.2 351.8,413.2 352.2,412.3 352.5,410.8 352.8,410.1 353.0,409.7" fill="none" stroke="#0F8020" stroke-width="1.5" stroke-linejoin="round" stroke-linecap="round"/>
<polyline points="205.0,409.8 205.3,409.7 205.7,409.8 206.1,409.6 206.6,409.8 207.1,409.7 207.7,409.5 208.3,409.3 209.0,409.6 209.7,409.6 210.4,409.6 211.2,409.5 212.0,409.4 212.9,409.2 213.7,409.3 214.6,409.2 215.5,409.2 216.4,409.1 217.4,409.1 218.3,408.9 219.3,408.6 220.2,408.8 221.1,408.7 222.1,408.6 223.0,408.6 223.9,408.3 224.8,408.2 225.7,408.3 226.6,408.3 227.4,408.3 228.2,408.1 229.0,407.9 229.7,407.9 230.4,407.8 231.1,407.9 231.7,407.8 232.3,407.9 232.8,407.8 233.4,407.6 234.0,407.8 234.7,407.7 235.3,407.7 236.0,407.3 236.8,407.2 237.5,407.2 238.3,407.1 239.1,407.1 240.0,407.2 240.8,406.9 241.7,406.8 242.6,406.9 243.4,406.6 244.3,406.3 245.2,406.4 246.1,406.2 247.0,406.4 247.9,406.0 248.8,405.9 249.7,406.0 250.6,405.9 251.5,405.8 252.3,405.6 253.2,405.6 254.0,405.4 254.8,405.6 255.6,405.6 256.3,405.4 257.0,405.2 257.7,405.2 258.4,405.1 259.0,405.1 259.6,404.9 260.1,404.8 260.6,404.9 261.1,404.8 261.5,405.0 262.4,404.7 263.2,405.0 264.1,405.0 265.0,404.9 266.0,405.1 266.9,404.8 267.8,405.0 268.7,405.2 269.6,405.2 270.4,405.1 271.2,405.2 272.0,405.1 272.7,405.3 273.3,405.6 273.9,405.5 274.4,405.6 274.9,405.9 275.2,405.9 276.1,406.4 276.4,406.9 276.6,407.9 276.9,408.7 277.1,409.1 277.4,409.9 277.7,410.4 278.1,411.2 278.5,412.2 279.0,413.1 279.4,413.9 279.8,414.8 280.2,415.6 280.5,416.0 280.8,416.4 281.3,417.4 281.9,418.0 282.6,418.7 283.3,419.3 284.0,419.8 284.7,419.3 285.0,419.0 285.3,418.6 285.6,418.2 286.0,417.6 286.5,416.9 286.9,416.3 287.4,415.4 287.9,414.7 288.4,413.9 288.9,413.1 289.5,412.2 290.0,411.5 290.5,410.6 290.9,409.6 291.4,409.2 291.8,408.7 292.2,408.1 292.5,407.8 293.0,407.4 293.5,406.9 294.1,406.3 294.8,406.0 295.4,405.7 296.1,405.2 296.9,405.0 297.6,404.5 298.3,404.1 299.0,403.5 299.7,403.3 300.3,403.0 300.6,402.4 301.0,402.1 301.5,401.5 302.0,401.2 302.5,400.8 303.1,400.2 303.7,399.5 304.4,398.5 305.0,397.9 305.7,397.4 306.4,396.5 307.1,396.0 307.8,395.2 308.5,394.6 309.2,393.9 309.8,393.4 310.5,392.5 311.1,392.0 311.7,391.5 312.2,391.1 312.7,390.9 313.2,390.7 313.6,390.2 313.9,390.2 314.4,390.3 314.9,390.5 315.4,391.0 315.9,391.7 316.5,392.2 317.0,393.0 317.6,394.0 318.1,394.6 318.7,395.8 319.2,396.8 319.7,397.6 320.2,398.1 320.6,398.6 321.0,399.3 321.4,399.7 321.7,399.8 322.1,399.8 322.6,399.7 323.1,399.2 323.6,398.6 324.1,397.7 324.6,397.0 325.2,396.0 325.7,395.2 326.2,394.6 326.7,393.9 327.2,393.5 327.6,393.1 328.2,392.9 328.9,392.4 329.8,392.3 330.7,392.0 331.7,392.0 332.7,391.9 333.6,391.4 334.3,391.4 335.0,391.4 335.4,391.2 336.4,390.1 336.5,389.7 336.6,389.0 336.7,388.1 336.8,387.1 336.9,386.0 337.0,385.0 337.1,384.0 337.1,383.2 337.2,382.7 337.3,382.4 337.4,382.6 337.6,383.4 337.7,384.5 337.9,385.8 338.1,386.8 338.2,387.5 338.4,388.6 339.3,388.9 339.7,389.1 340.4,389.0 341.2,388.9 342.1,389.1 343.1,389.3 344.1,389.2 345.1,389.1 346.1,388.8 346.9,388.7 347.5,389.3 348.0,389.4 348.3,390.0 348.6,390.7 348.9,391.4 349.1,392.3 349.2,393.1 349.4,394.3 349.5,395.1 349.7,396.2 349.8,396.4 350.0,396.5 350.2,396.5 350.4,396.6 350.7,396.1 351.1,394.8 351.4,394.0 351.8,392.7 352.1,391.8 352.4,391.3 352.7,390.1 352.9,389.1 353.0,389.0" fill="none" stroke="#6EA4CF" stroke-width="1.5" stroke-linejoin="round" stroke-linecap="round"/>
<polyline points="205.0,378.1 205.3,378.2 205.6,378.1 206.0,378.1 206.5,378.2 207.0,378.1 207.6,378.1 208.2,377.8 208.8,377.8 209.5,377.8 210.2,377.7 210.9,377.7 211.7,377.9 212.5,377.6 213.3,377.6 214.1,377.4 215.0,377.6 215.9,377.4 216.8,377.3 217.7,377.3 218.6,377.5 219.5,377.5 220.4,377.3 221.4,377.4 222.3,377.4 223.2,377.2 224.1,377.2 225.0,377.3 225.9,377.1 226.8,376.9 227.7,377.2 228.5,377.0 229.3,376.8 230.1,376.8 230.9,376.8 231.6,376.8 232.3,377.0 232.8,377.1 233.2,377.0 233.8,377.0 234.3,376.9 234.9,377.1 235.5,377.2 236.2,377.1 236.9,377.3 237.6,377.2 238.3,377.1 239.1,377.0 239.9,377.1 240.7,377.1 241.5,377.3 242.4,377.1 243.2,377.0 244.1,377.3 245.0,377.2 245.9,377.1 246.8,377.3 247.8,377.2 248.7,377.5 249.6,377.5 250.6,377.6 251.5,377.3 252.5,377.4 253.4,377.5 254.4,377.7 255.3,377.4 256.3,377.4 257.2,377.3 258.2,377.5 259.1,377.5 260.0,377.4 260.9,377.7 261.8,377.7 262.7,377.8 263.6,377.7 264.4,377.8 265.3,377.8 266.1,377.9 266.9,377.9 267.6,377.9 268.4,377.9 269.1,377.8 269.8,378.0 270.5,378.2 271.1,377.9 271.7,378.0 272.3,378.2 272.8,378.3 273.3,378.1 273.8,378.5 274.2,378.5 274.6,378.3 274.9,378.4 275.2,378.5 275.7,378.8 276.1,379.3 276.3,380.3 276.4,381.1 276.5,382.1 276.6,382.8 276.7,383.4 276.9,384.1 277.1,384.8 277.3,385.5 277.6,386.2 277.9,387.0 278.2,387.8 278.5,388.8 278.9,389.5 279.2,390.4 279.6,391.3 279.9,392.2 280.3,392.9 280.5,393.6 280.8,393.8 281.1,394.5 281.6,395.2 282.1,396.2 282.6,396.9 283.1,397.9 283.7,398.5 284.2,399.0 284.8,399.5 285.3,399.8 285.7,400.0 286.1,400.0 286.6,399.4 287.1,398.9 287.7,398.2 288.3,397.7 289.0,396.8 289.6,396.1 290.3,395.4 290.9,394.5 291.5,394.1 292.0,393.7 292.5,393.0 293.1,392.9 293.7,392.6 294.5,392.6 295.3,392.4 296.1,392.5 297.0,392.2 297.8,392.3 298.7,392.2 299.5,391.5 300.3,391.0 300.6,390.7 301.0,390.3 301.4,390.0 301.9,389.5 302.4,388.9 303.0,388.5 303.6,388.0 304.2,387.2 304.8,386.4 305.4,385.9 306.1,385.0 306.8,384.2 307.4,383.3 308.1,382.6 308.8,381.8 309.4,381.3 310.0,380.4 310.6,379.7 311.2,379.2 311.8,378.9 312.3,378.5 312.8,378.1 313.2,377.6 313.6,377.7 313.9,377.6 314.4,377.7 314.8,377.8 315.3,378.1 315.8,378.6 316.3,379.6 316.8,380.2 317.4,381.0 317.9,382.0 318.4,382.9 318.9,383.8 319.4,384.9 319.8,385.8 320.3,386.6 320.7,387.2 321.1,387.7 321.4,388.2 321.7,388.3 322.1,388.3 322.5,387.8 323.0,387.4 323.4,386.6 323.9,385.9 324.4,385.1 324.9,384.3 325.4,383.3 325.9,382.6 326.3,381.7 326.8,381.3 327.2,380.9 327.6,380.3 328.2,380.2 328.9,380.1 329.8,380.0 330.7,379.9 331.7,379.8 332.7,379.8 333.6,379.5 334.3,379.4 335.0,379.4 335.4,379.3 336.4,378.5 336.5,378.1 336.6,377.4 336.7,376.5 336.8,375.5 336.9,374.5 337.0,373.5 337.1,372.6 337.2,372.0 337.3,371.7 337.5,371.9 337.7,372.8 338.0,373.9 338.2,374.6 339.3,375.4 339.7,375.5 340.4,375.2 341.2,375.3 342.1,375.2 343.1,374.2 344.1,373.9 345.1,373.7 346.1,373.3 346.9,373.3 347.5,373.2 348.0,373.5 348.4,373.6 348.7,374.7 348.9,375.7 349.2,376.7 349.3,378.0 349.5,379.0 349.7,379.6 349.8,379.9 350.0,380.6 350.3,380.5 350.7,379.4 351.1,378.9 351.6,377.9 352.1,377.4 352.5,376.5 352.8,375.8 353.0,375.0" fill="none" stroke="#E91E7A" stroke-width="1.5" stroke-linejoin="round" stroke-linecap="round"/>
<polyline points="205.0,348.9 205.3,348.5 205.7,348.5 206.2,348.9 206.8,348.5 207.5,348.4 208.2,348.8 208.9,348.3 209.8,348.4 210.6,348.6 211.5,348.2 212.4,347.8 213.4,347.7 214.3,348.2 215.3,347.9 216.2,347.5 217.1,347.3 218.0,347.9 218.9,347.9 219.7,348.1 220.5,347.7 221.2,347.7 221.9,347.5 222.5,347.3 223.0,346.9 223.6,346.7 224.2,346.6 224.8,346.7 225.5,346.8 226.1,346.6 226.9,346.8 227.6,346.7 228.4,346.8 229.1,347.0 229.9,346.3 230.7,346.2 231.6,346.5 232.4,345.9 233.2,345.6 234.1,346.1 234.9,345.8 235.7,345.4 236.6,345.2 237.4,345.9 238.2,345.8 239.0,345.3 239.8,345.8 240.5,345.6 241.3,345.7 242.0,345.5 242.4,345.0 242.9,345.3 243.5,345.1 244.1,345.7 244.7,345.4 245.4,345.1 246.1,345.6 246.8,345.1 247.6,345.0 248.4,345.4 249.2,345.1 250.1,345.0 250.9,345.0 251.8,345.7 252.7,346.0 253.7,346.0 254.6,345.8 255.5,345.5 256.5,345.5 257.5,345.6 258.4,345.2 259.4,345.8 260.3,345.3 261.3,345.5 262.2,345.9 263.2,345.7 264.1,346.1 265.0,345.8 265.9,345.8 266.7,345.6 267.6,345.7 268.4,345.4 269.2,346.2 269.9,346.4 270.6,345.9 271.3,346.1 272.0,346.1 272.6,346.2 273.1,345.9 273.6,345.8 274.1,345.8 274.5,346.2 274.9,346.5 275.2,346.0 276.1,346.4 276.4,347.2 276.6,348.2 276.9,348.9 277.1,349.3 277.3,350.0 277.5,350.9 277.8,351.4 278.1,352.3 278.4,353.4 278.8,354.1 279.1,354.5 279.4,355.4 279.7,356.4 280.0,357.5 280.3,358.2 280.6,358.2 280.8,359.2 281.0,359.8 281.3,360.7 281.6,361.0 281.9,362.2 282.2,363.2 282.6,363.4 282.9,364.6 283.3,365.2 283.6,366.4 284.0,367.0 284.4,367.8 284.7,368.2 285.1,367.9 285.7,368.1 286.4,368.7 287.2,368.9 288.0,369.2 288.9,369.7 289.7,370.0 290.5,371.0 291.3,371.5 291.9,371.3 292.5,372.1 293.0,372.3 293.5,372.8 294.1,373.3 294.8,373.5 295.4,374.2 296.1,375.0 296.8,375.4 297.5,376.1 298.2,377.1 298.8,377.5 299.4,377.9 299.9,378.6 300.3,379.0 301.0,378.5 301.7,378.4 302.5,378.4 303.4,378.0 304.2,377.6 304.9,377.4 305.6,377.2 306.1,376.8 306.6,375.9 307.1,375.5 307.6,375.2 308.1,374.1 308.6,373.9 309.1,372.8 309.6,371.9 310.0,371.6 310.3,371.0 310.7,370.5 311.1,369.9 311.6,369.0 312.0,368.1 312.5,367.3 313.0,366.2 313.4,366.0 313.9,365.3 314.3,365.0 314.6,365.9 314.9,365.8 315.3,366.9 315.7,367.5 316.2,368.3 316.7,369.1 317.2,369.8 317.7,371.1 318.2,371.7 318.8,372.5 319.3,373.6 319.7,374.6 320.2,374.9 320.6,375.0 320.9,375.8 321.2,376.0 321.6,375.9 321.9,375.8 322.3,375.0 322.7,374.8 323.1,373.6 323.5,372.6 323.9,372.2 324.4,371.0 324.8,369.8 325.2,369.3 325.6,368.6 326.0,367.9 326.4,367.3 326.9,367.0 327.5,367.1 328.1,366.1 328.8,365.6 329.6,365.5 330.3,364.6 331.1,364.8 331.8,363.8 332.5,363.5 333.1,363.0 333.7,362.6 334.1,361.9 334.5,362.0 334.8,361.4 335.1,360.5 335.3,359.7 335.6,358.8 335.8,358.1 336.1,357.4 336.3,356.9 336.5,355.9 336.7,354.7 336.9,354.3 337.1,353.4 337.3,352.5 337.5,351.9 337.7,351.8 338.0,350.7 338.5,350.2 338.9,349.2 339.4,349.1 340.0,348.6 340.5,347.8 341.0,347.3 341.5,346.8 341.9,346.2 342.2,345.0 342.6,344.5 343.1,344.1 343.5,342.8 344.1,342.3 344.6,341.2 345.1,340.7 345.6,339.7 346.1,338.7 346.5,338.4 346.9,338.4 347.2,338.0 347.5,337.9 347.8,338.4 348.2,339.3 348.6,340.4 348.9,341.3 349.3,341.9 349.6,343.3 349.9,344.0 350.2,344.3 350.4,344.6 350.7,344.5 351.0,343.9 351.3,343.0 351.7,342.3 352.0,341.3 352.3,340.0 352.6,339.7 352.9,338.5 353.0,338.3" fill="none" stroke="#F28A1A" stroke-width="1.5" stroke-linejoin="round" stroke-linecap="round"/>
<line x1="293.20" y1="358.00" x2="293.20" y2="473.50" stroke="#333" stroke-width="1.35" stroke-linecap="butt" stroke-dasharray="4,3"/>
<circle cx="293.5" cy="354.7" r="1.6" fill="#111"/>
<line x1="286.80" y1="465.60" x2="286.80" y2="511.00" stroke="#333" stroke-width="1.3" stroke-linecap="butt" stroke-dasharray="4,3"/>
<text x="287.00" y="516.50" font-family="Liberation Sans" font-size="6.5" font-weight="normal" text-anchor="middle" fill="#111" >▼</text>
<text x="294.00" y="350.20" font-family="Liberation Serif" font-size="7" font-weight="bold" text-anchor="middle" fill="#222" letter-spacing="0.6">formate</text>
<text x="292.50" y="522.30" font-family="Liberation Serif" font-size="7" font-weight="bold" text-anchor="middle" fill="#222" letter-spacing="0.6">Bicarbonate</text>
<text x="260.60" y="342.30" font-family="Liberation Sans" font-size="8.6" font-weight="bold" text-anchor="end" fill="#222" stroke="#222" stroke-width="0.2">500°C</text>
<text x="260.60" y="375.90" font-family="Liberation Sans" font-size="8.6" font-weight="bold" text-anchor="end" fill="#222" stroke="#222" stroke-width="0.2">450°C</text>
<text x="260.60" y="405.20" font-family="Liberation Sans" font-size="8.6" font-weight="bold" text-anchor="end" fill="#222" stroke="#222" stroke-width="0.2">400°C</text>
<text x="260.60" y="422.70" font-family="Liberation Sans" font-size="8.6" font-weight="bold" text-anchor="end" fill="#222" stroke="#222" stroke-width="0.2">350°C</text>
<text x="260.60" y="437.80" font-family="Liberation Sans" font-size="8.6" font-weight="bold" text-anchor="end" fill="#222" stroke="#222" stroke-width="0.2">300°C</text>
<text x="260.60" y="452.50" font-family="Liberation Sans" font-size="8.6" font-weight="bold" text-anchor="end" fill="#222" stroke="#222" stroke-width="0.2">250°C</text>
<text x="260.60" y="469.10" font-family="Liberation Sans" font-size="8.6" font-weight="bold" text-anchor="end" fill="#222" stroke="#222" stroke-width="0.2">200°C</text>
<text x="260.60" y="481.70" font-family="Liberation Sans" font-size="8.6" font-weight="bold" text-anchor="end" fill="#222" stroke="#222" stroke-width="0.2">150°C</text>
<text x="260.60" y="497.30" font-family="Liberation Sans" font-size="8.6" font-weight="bold" text-anchor="end" fill="#222" stroke="#222" stroke-width="0.2">100°C</text>
<text x="260.60" y="511.00" font-family="Liberation Sans" font-size="8.6" font-weight="bold" text-anchor="end" fill="#222" stroke="#222" stroke-width="0.2">50°C</text>
<polyline points="379.0,512.1 379.3,512.0 379.6,512.3 380.0,512.2 380.4,512.0 380.9,512.2 381.4,512.0 381.9,512.0 382.5,511.9 383.1,512.1 383.8,512.3 384.4,512.3 385.1,512.1 385.9,512.3 386.6,512.4 387.4,512.2 388.2,512.1 389.1,512.3 389.9,512.5 390.8,512.5 391.7,512.5 392.6,512.5 393.5,512.3 394.4,512.4 395.3,512.3 396.3,512.4 397.2,512.4 398.2,512.3 399.1,512.5 400.1,512.3 401.1,512.3 402.0,512.3 403.0,512.6 403.9,512.4 404.8,512.5 405.8,512.7 406.7,512.6 407.6,512.7 408.5,512.5 409.4,512.5 410.2,512.5 411.1,512.5 411.9,512.5 412.7,512.4 413.5,512.7 414.2,512.7 415.0,512.7 415.7,512.6 416.3,512.5 417.0,512.5 417.6,512.8 418.1,512.8 418.7,512.6 419.2,512.7 419.6,512.8 420.3,512.5 421.0,512.5 421.8,512.5 422.6,512.5 423.4,512.6 424.2,512.5 425.1,512.3 425.9,512.6 426.8,512.5 427.7,512.6 428.6,512.3 429.5,512.3 430.4,512.4 431.3,512.2 432.3,512.3 433.2,512.2 434.0,512.2 434.9,512.2 435.8,512.3 436.6,512.3 437.5,512.1 438.3,512.2 439.0,512.1 439.8,512.0 440.5,512.1 441.2,512.1 441.8,511.8 442.4,511.9 443.0,511.9 443.5,511.7 444.0,512.0 444.4,511.9 444.8,512.0 445.1,511.8 445.8,511.2 446.0,510.4 446.1,509.7 446.3,508.9 447.0,508.2 447.4,508.3 447.8,508.1 448.4,507.7 449.0,507.8 449.7,507.5 450.5,507.4 451.3,507.0 452.2,506.6 453.1,506.5 454.1,506.3 455.0,506.2 456.0,505.9 456.9,505.6 457.8,505.4 458.7,505.3 459.6,505.2 460.4,505.2 461.2,504.9 461.9,504.7 462.6,504.6 463.1,504.8 463.7,504.7 464.3,505.1 464.9,505.1 465.6,505.5 466.3,505.5 467.1,506.0 467.8,506.0 468.6,506.3 469.4,506.7 470.1,507.0 470.9,507.4 471.7,507.8 472.5,508.2 473.3,508.3 474.1,508.7 474.8,508.9 475.6,509.2 476.3,509.2 477.0,509.5 477.5,509.4 478.0,509.3 478.6,509.5 479.2,509.6 479.9,509.4 480.7,509.4 481.5,509.4 482.3,509.3 483.2,509.4 484.0,509.4 484.9,509.4 485.9,509.5 486.8,509.2 487.8,509.2 488.7,509.3 489.7,509.3 490.6,509.3 491.5,509.0 492.4,508.9 493.3,508.7 494.2,508.8 495.0,508.7 495.8,508.8 496.6,508.7 497.3,508.7 498.0,508.4 498.6,508.4 499.1,508.4 499.6,508.2 500.0,508.3 500.9,508.3 501.7,507.9 502.6,507.4 503.5,507.1 504.3,506.7 505.1,506.4 505.9,505.7 506.6,505.4 507.3,505.0 507.9,504.5 508.4,504.1 508.8,503.7 509.2,503.8 510.1,503.3 510.9,503.1 511.4,502.7 511.8,501.8 511.9,501.4 511.9,500.8 512.0,500.1 512.0,499.3 512.1,498.5 512.1,497.5 512.2,496.5 512.2,495.4 512.3,494.4 512.3,493.3 512.4,492.3 512.4,491.3 512.4,490.4 512.5,489.6 512.5,488.9 512.6,488.3 512.6,487.9 512.7,487.6 512.9,487.5 513.2,488.0 513.6,488.8 514.0,489.9 514.4,492.0 514.7,493.1 514.9,493.6 515.1,494.6 515.4,496.0 515.6,496.5 515.9,495.5 516.1,495.5 516.3,495.0 516.6,494.1 516.9,493.0 517.3,493.9 517.8,493.2 518.4,493.4 518.6,493.5 518.9,491.9 519.2,492.5 519.5,492.9 519.9,493.3 520.4,495.8 520.8,496.8 521.3,497.4 521.8,496.2 522.4,496.7 522.9,498.3 523.4,500.8 523.9,501.7 524.4,503.1 524.9,501.3 525.4,501.8 525.9,502.6 526.3,506.0 526.7,506.1 527.0,507.2 527.3,507.2 527.5,507.6 527.7,507.1" fill="none" stroke="#EB8B46" stroke-width="1.5" stroke-linejoin="round" stroke-linecap="round"/>
<polyline points="379.0,498.3 379.3,498.4 379.6,498.4 380.0,498.2 380.4,498.3 380.9,498.2 381.4,498.5 381.9,498.5 382.5,498.3 383.2,498.4 383.8,498.4 384.5,498.3 385.2,498.4 385.9,498.4 386.7,498.4 387.5,498.7 388.3,498.7 389.2,498.4 390.0,498.4 390.9,498.7 391.8,498.7 392.7,498.7 393.6,498.7 394.6,498.7 395.5,498.5 396.5,498.6 397.4,498.6 398.4,498.6 399.3,498.8 400.3,498.6 401.3,498.6 402.2,498.8 403.2,499.0 404.1,498.8 405.1,499.0 406.0,499.0 406.9,498.8 407.8,499.0 408.7,498.8 409.6,498.9 410.5,498.7 411.3,498.7 412.1,498.9 412.9,499.1 413.7,498.8 414.4,498.8 415.1,499.0 415.8,499.0 416.5,498.8 417.1,499.0 417.7,498.8 418.2,499.1 418.7,499.0 419.2,499.0 419.6,499.1 420.4,498.8 421.2,498.7 422.0,498.8 422.9,498.9 423.7,498.8 424.6,498.7 425.5,498.5 426.4,498.3 427.3,498.3 428.2,498.2 429.1,498.1 430.0,498.0 430.8,497.7 431.7,497.6 432.6,497.3 433.4,497.2 434.2,497.2 435.0,497.1 435.7,496.7 436.5,496.6 437.2,496.6 437.8,496.6 438.4,496.4 439.0,496.3 439.5,496.5 440.0,496.3 440.4,496.2 440.8,496.4 441.9,496.1 442.8,496.2 443.6,496.2 444.3,496.6 445.0,496.9 445.6,496.8 446.3,496.9 447.0,496.7 447.4,496.8 448.0,496.6 448.6,496.4 449.4,496.5 450.1,496.2 451.0,496.0 451.8,495.9 452.7,495.5 453.6,495.2 454.5,495.1 455.3,494.7 456.1,494.6 456.8,494.2 457.5,494.1 458.0,493.7 458.5,493.5 458.9,493.0 459.4,492.4 459.9,491.8 460.4,491.2 460.9,490.5 461.5,489.7 462.0,488.9 462.5,488.0 463.0,487.3 463.5,486.7 463.9,486.0 464.4,485.2 464.8,484.6 465.1,484.4 465.4,484.1 466.1,483.6 466.9,483.5 467.7,483.4 468.5,483.6 469.3,484.1 470.0,484.1 470.5,484.1 471.0,484.6 471.7,485.0 472.4,485.4 473.2,485.8 474.0,486.1 474.8,486.6 475.6,487.2 476.3,487.4 477.0,487.7 477.5,487.9 478.1,487.8 478.8,487.6 479.5,487.3 480.3,487.5 481.2,487.2 482.1,487.0 483.0,486.9 483.9,486.8 484.8,486.6 485.7,486.5 486.5,486.3 487.2,486.2 487.9,486.5 488.5,486.3 489.1,486.3 489.8,486.5 490.5,486.6 491.3,486.9 492.1,487.1 493.0,487.1 493.9,487.1 494.8,487.3 495.7,487.4 496.5,487.4 497.4,487.6 498.1,487.7 498.8,487.6 499.5,487.6 500.0,487.5 500.6,487.2 501.2,487.3 501.9,486.9 502.6,486.4 503.4,485.7 504.2,485.2 505.0,484.6 505.8,484.4 506.5,483.8 507.2,483.3 507.8,482.9 508.4,482.4 508.8,482.0 509.2,482.0 510.1,481.3 510.9,481.3 511.4,480.9 511.8,480.0 511.9,479.6 511.9,479.0 512.0,478.3 512.0,477.5 512.1,476.6 512.2,475.6 512.2,474.6 512.2,473.5 512.3,472.5 512.3,471.5 512.4,470.5 512.4,469.6 512.5,468.7 512.5,468.0 512.6,467.4 512.6,467.0 512.7,466.8 512.9,466.8 513.1,467.2 513.3,468.0 513.6,468.9 513.9,470.0 514.2,471.2 514.5,473.2 514.7,474.3 514.9,474.6 515.0,475.6 515.1,476.6 515.2,477.2 515.2,478.1 515.4,479.1 515.7,479.9 516.1,478.4 516.4,478.7 516.8,479.0 517.3,481.8 517.9,481.8 518.5,482.9 519.2,480.9 520.0,481.8 520.8,484.2 521.6,485.2 522.4,483.4 523.1,484.1 523.9,487.3 524.7,487.7 525.4,486.1 526.0,486.3 526.6,489.3 527.0,489.7 527.4,489.9 527.7,488.7" fill="none" stroke="#0C9188" stroke-width="1.5" stroke-linejoin="round" stroke-linecap="round"/>
<polyline points="379.0,484.5 379.3,484.5 379.6,484.5 380.0,484.5 380.4,484.7 380.9,484.5 381.4,484.5 382.0,484.5 382.6,484.4 383.2,484.4 383.9,484.4 384.6,484.4 385.3,484.5 386.1,484.8 386.9,484.9 387.7,484.9 388.5,484.7 389.4,484.8 390.2,484.9 391.1,484.8 392.1,484.7 393.0,484.9 393.9,485.0 394.9,484.8 395.8,484.8 396.8,485.0 397.8,485.1 398.7,485.0 399.7,485.3 400.7,485.1 401.7,485.2 402.6,485.0 403.6,485.3 404.6,485.3 405.5,485.4 406.4,485.5 407.4,485.5 408.3,485.2 409.2,485.2 410.0,485.2 410.9,485.2 411.7,485.6 412.5,485.6 413.3,485.7 414.0,485.5 414.8,485.6 415.5,485.5 416.1,485.7 416.7,485.7 417.3,485.5 417.9,485.6 418.4,485.7 418.8,485.7 419.2,485.6 419.6,485.6 420.7,485.6 421.7,485.5 422.7,485.5 423.6,485.3 424.4,485.0 425.3,484.8 426.1,484.6 426.8,484.5 427.5,484.4 428.2,484.3 428.9,484.0 429.5,483.9 430.1,483.8 430.7,483.8 431.2,483.8 431.8,483.7 432.3,483.6 432.9,483.4 433.5,483.0 434.3,483.0 435.1,483.0 435.9,482.7 436.8,482.4 437.7,482.3 438.7,482.2 439.6,482.0 440.5,482.0 441.3,482.0 442.1,481.7 442.9,481.8 443.6,481.4 444.2,481.5 444.6,481.4 445.0,481.4 446.1,481.6 447.0,481.9 447.4,481.6 447.9,481.8 448.6,481.8 449.4,481.6 450.2,481.3 451.1,481.2 452.1,481.3 453.1,480.9 454.0,481.0 455.0,480.8 455.9,480.4 456.7,480.4 457.4,480.2 458.0,480.0 458.5,479.4 458.9,478.9 459.3,478.7 459.8,478.1 460.2,477.3 460.7,476.5 461.1,475.8 461.5,475.0 462.0,473.9 462.4,473.2 462.8,472.5 463.1,471.7 463.5,470.9 463.8,470.1 464.1,469.7 464.3,469.3 464.7,468.3 465.1,467.2 465.5,466.2 465.8,465.2 466.3,464.6 466.7,463.7 467.2,463.3 467.7,463.3 468.0,463.6 468.3,463.7 468.7,464.4 469.2,465.0 469.7,465.7 470.2,466.4 470.8,466.9 471.4,467.5 472.0,468.5 472.6,469.2 473.2,470.0 473.8,470.9 474.4,471.5 475.0,472.1 475.6,472.8 476.1,473.0 476.6,473.3 477.0,473.5 477.5,473.8 478.2,473.8 478.9,473.8 479.6,473.4 480.5,473.0 481.3,472.7 482.2,472.3 483.1,472.0 484.0,471.6 484.9,471.1 485.7,470.8 486.5,470.6 487.2,470.5 487.9,470.2 488.5,470.3 489.1,470.4 489.7,470.6 490.5,470.6 491.3,470.8 492.1,471.3 493.0,471.7 493.9,472.1 494.7,472.4 495.6,472.7 496.5,472.9 497.3,473.2 498.1,473.4 498.8,473.8 499.4,473.8 500.0,473.9 500.6,473.6 501.2,473.3 501.9,473.1 502.7,472.8 503.5,472.5 504.4,471.8 505.2,471.5 506.1,471.1 506.9,470.3 507.7,469.8 508.4,469.5 509.0,469.2 509.6,468.5 510.1,468.1 510.4,467.8 511.3,467.4 511.6,467.1 511.8,465.8 511.8,465.4 511.9,464.9 511.9,464.2 512.0,463.5 512.0,462.7 512.0,461.8 512.1,460.8 512.1,459.8 512.2,458.7 512.2,457.7 512.2,456.6 512.3,455.6 512.3,454.6 512.4,453.6 512.4,452.7 512.5,451.9 512.5,451.2 512.6,450.6 512.6,450.1 512.6,449.7 512.7,449.5 512.8,449.5 513.0,449.7 513.1,450.3 513.3,451.0 513.6,451.9 513.8,452.9 514.0,454.0 514.2,455.1 514.4,457.5 514.6,458.5 514.8,459.2 514.9,459.9 515.0,460.3 515.1,460.7 515.1,461.8 515.2,463.0 515.2,463.1 515.3,464.4 515.5,465.0 515.8,463.5 516.1,464.4 516.4,464.5 516.7,465.1 517.1,465.6 517.6,468.2 518.2,469.5 518.8,467.2 519.5,468.0 520.2,468.9 520.9,471.5 521.6,472.7 522.3,471.3 523.0,471.3 523.7,474.8 524.4,475.5 525.1,473.8 525.7,474.0 526.2,477.2 526.7,477.4 527.1,477.5 527.5,477.9 527.7,477.2" fill="none" stroke="#6262C0" stroke-width="1.5" stroke-linejoin="round" stroke-linecap="round"/>
<polyline points="379.0,470.6 379.3,470.4 379.6,470.4 380.0,470.5 380.4,470.6 380.9,470.6 381.4,470.6 382.0,470.7 382.6,470.6 383.2,470.6 383.9,470.8 384.6,470.8 385.3,470.9 386.1,471.0 386.9,471.0 387.7,471.0 388.5,470.9 389.4,471.1 390.2,471.1 391.1,471.0 392.1,470.9 393.0,471.0 393.9,471.0 394.9,471.1 395.8,471.1 396.8,471.1 397.8,471.0 398.7,471.2 399.7,471.5 400.7,471.2 401.7,471.4 402.6,471.5 403.6,471.7 404.6,471.4 405.5,471.5 406.4,471.4 407.4,471.4 408.3,471.6 409.2,471.5 410.0,471.4 410.9,471.7 411.7,471.7 412.5,471.8 413.3,471.7 414.0,471.9 414.8,471.8 415.5,471.7 416.1,471.9 416.7,471.8 417.3,471.7 417.9,471.6 418.4,471.9 418.8,471.9 419.2,471.8 419.6,471.8 420.7,471.6 421.7,471.4 422.7,471.2 423.6,471.3 424.5,471.1 425.3,471.0 426.1,470.8 426.9,470.4 427.6,470.3 428.3,469.9 429.0,469.6 429.6,469.5 430.2,469.3 430.8,468.8 431.3,468.6 431.8,468.7 432.3,468.6 432.9,468.2 433.7,468.2 434.5,467.8 435.3,467.6 436.2,467.1 437.1,467.1 438.0,466.7 438.9,466.3 439.8,466.4 440.6,465.9 441.4,465.6 442.0,465.5 442.6,465.4 443.0,465.1 443.9,465.1 444.6,465.4 445.3,465.7 446.1,465.7 447.0,465.6 447.4,465.6 448.0,465.7 448.7,465.6 449.5,465.3 450.3,465.4 451.2,465.1 452.2,464.9 453.2,464.8 454.1,464.6 455.0,464.5 455.9,464.2 456.7,464.3 457.4,464.1 458.0,463.6 458.5,463.3 458.9,463.0 459.3,462.4 459.8,462.1 460.2,461.4 460.7,460.4 461.1,459.5 461.5,458.9 462.0,458.0 462.4,457.3 462.8,456.3 463.1,455.6 463.5,455.0 463.8,454.0 464.1,453.3 464.3,453.0 464.6,452.2 464.9,451.6 465.1,450.5 465.4,449.5 465.7,448.8 466.0,447.8 466.3,447.1 466.6,446.2 466.9,445.4 467.3,444.9 467.7,444.7 468.0,444.9 468.5,445.2 469.0,445.4 469.6,445.7 470.2,446.2 470.9,447.0 471.6,447.8 472.4,448.5 473.1,449.2 473.8,449.6 474.6,450.2 475.2,450.7 475.9,451.3 476.5,451.5 477.0,451.6 477.5,452.1 478.2,452.3 478.9,452.1 479.6,452.3 480.5,452.2 481.3,451.9 482.2,451.9 483.1,451.9 484.0,451.8 484.9,451.9 485.7,451.7 486.5,451.6 487.2,451.5 487.9,451.6 488.5,451.6 489.0,452.0 489.7,452.1 490.3,452.3 491.1,452.6 491.8,453.0 492.6,453.2 493.5,453.4 494.3,453.8 495.1,454.0 495.9,454.4 496.7,454.6 497.5,454.9 498.2,455.0 498.9,455.1 499.5,455.3 500.0,455.3 500.6,455.1 501.2,455.0 501.9,454.9 502.7,454.4 503.5,453.8 504.4,453.4 505.2,452.8 506.1,452.3 506.9,451.9 507.7,451.6 508.4,450.9 509.0,450.4 509.6,449.9 510.1,449.5 510.4,449.5 511.3,449.0 511.6,448.5 511.8,446.9 511.8,446.5 511.9,446.0 511.9,445.4 511.9,444.7 512.0,444.0 512.0,443.1 512.0,442.2 512.1,441.3 512.1,440.3 512.1,439.2 512.2,438.2 512.2,437.1 512.2,436.1 512.3,435.1 512.3,434.0 512.3,433.1 512.4,432.1 512.4,431.3 512.5,430.4 512.5,429.7 512.5,429.1 512.6,428.5 512.6,428.1 512.7,427.8 512.7,427.6 512.8,427.6 512.9,427.8 513.0,428.2 513.2,428.8 513.3,429.6 513.5,430.5 513.7,431.5 513.9,432.6 514.1,433.7 514.2,434.8 514.4,437.0 514.6,437.6 514.7,438.7 514.8,439.7 514.9,439.9 515.0,440.5 515.0,441.6 515.1,441.9 515.1,443.1 515.2,443.6 515.2,445.1 515.3,445.6 515.3,446.8 515.5,447.1 515.6,448.3 515.8,446.4 516.1,447.2 516.3,447.7 516.6,447.7 517.0,448.2 517.4,451.0 517.8,452.1 518.4,452.2 518.9,451.0 519.5,451.8 520.1,452.6 520.7,455.8 521.3,456.3 522.0,454.6 522.6,455.0 523.2,458.4 523.8,459.2 524.4,459.9 525.0,457.7 525.5,458.8 526.0,459.3 526.5,462.2 526.9,462.6 527.2,463.0 527.5,462.8 527.7,462.2" fill="none" stroke="#CF2F86" stroke-width="1.5" stroke-linejoin="round" stroke-linecap="round"/>
<polyline points="379.0,456.8 379.3,457.0 379.6,457.1 380.0,457.1 380.4,456.9 380.9,456.9 381.4,457.0 382.0,457.0 382.6,456.8 383.2,456.9 383.9,457.1 384.6,456.8 385.3,457.0 386.1,456.9 386.9,457.1 387.7,457.2 388.5,457.3 389.4,457.2 390.2,457.2 391.1,457.3 392.1,457.3 393.0,457.2 393.9,457.2 394.9,457.4 395.8,457.3 396.8,457.6 397.8,457.4 398.7,457.4 399.7,457.6 400.7,457.7 401.7,457.8 402.6,457.6 403.6,457.5 404.6,457.4 405.5,457.8 406.4,457.6 407.4,457.9 408.3,457.9 409.2,457.9 410.0,457.7 410.9,457.8 411.7,457.8 412.5,458.0 413.3,458.1 414.0,457.8 414.8,458.0 415.5,458.1 416.1,457.9 416.7,458.1 417.3,458.0 417.9,458.0 418.4,457.9 418.8,458.0 419.2,457.7 419.6,458.0 420.7,457.9 421.7,457.7 422.7,457.7 423.6,457.4 424.5,457.4 425.3,457.2 426.1,456.8 426.9,456.8 427.6,456.5 428.3,456.3 429.0,455.9 429.6,455.7 430.2,455.4 430.8,455.2 431.3,454.9 431.8,454.8 432.3,454.7 432.9,454.6 433.6,454.1 434.3,453.9 435.1,453.6 435.9,452.9 436.8,452.3 437.6,452.0 438.5,451.6 439.3,451.2 440.1,450.7 440.8,450.4 441.5,450.1 442.1,449.9 442.6,449.5 443.0,449.5 443.9,449.3 444.6,449.5 445.3,450.0 446.1,450.4 447.0,450.6 447.4,450.6 448.0,450.7 448.7,450.5 449.5,450.4 450.3,450.5 451.2,450.2 452.2,450.2 453.2,450.2 454.1,449.8 455.0,449.6 455.9,449.7 456.7,449.4 457.4,449.1 458.0,448.6 458.5,448.4 458.8,447.9 459.2,447.4 459.5,446.9 459.8,446.2 460.2,445.4 460.5,444.8 460.9,443.9 461.2,442.9 461.6,442.4 461.9,441.4 462.2,440.6 462.6,439.7 462.9,438.8 463.2,438.0 463.4,437.2 463.7,436.5 463.9,435.8 464.1,435.2 464.3,434.7 464.5,433.9 464.8,433.0 465.0,432.3 465.3,431.4 465.5,430.6 465.7,429.6 466.0,428.4 466.2,427.8 466.5,427.0 466.8,426.5 467.1,425.9 467.4,425.5 467.7,425.5 468.0,425.5 468.5,425.4 469.0,425.9 469.6,426.2 470.2,426.6 470.9,427.2 471.6,428.2 472.4,428.8 473.1,429.2 473.8,429.8 474.6,430.7 475.2,431.2 475.9,431.8 476.5,431.9 477.0,432.1 477.5,432.3 478.2,432.6 478.9,432.7 479.6,432.9 480.5,432.8 481.3,432.8 482.2,432.8 483.1,432.8 484.0,433.0 484.9,433.3 485.7,433.0 486.5,432.9 487.2,433.4 487.9,433.5 488.5,433.5 489.0,433.4 489.7,433.9 490.3,434.2 491.1,434.1 491.8,434.5 492.6,434.6 493.5,434.9 494.3,435.5 495.1,435.9 495.9,435.9 496.7,436.1 497.5,436.4 498.2,436.9 498.9,436.7 499.5,436.9 500.0,436.8 500.6,436.7 501.2,436.4 501.9,436.4 502.7,436.1 503.5,435.6 504.4,435.0 505.2,434.3 506.1,433.9 506.9,433.6 507.7,432.8 508.4,432.6 509.0,432.0 509.6,431.7 510.1,431.2 510.4,431.0 511.3,430.6 511.6,430.3 511.8,429.3 511.8,428.9 511.9,428.3 511.9,427.6 512.0,426.8 512.0,425.9 512.1,424.9 512.1,423.9 512.2,422.8 512.2,421.8 512.3,420.7 512.3,419.7 512.4,418.8 512.5,418.0 512.5,417.3 512.6,416.7 512.6,416.3 512.7,416.1 512.8,416.1 513.0,416.5 513.3,417.2 513.5,418.0 513.8,419.1 514.1,420.2 514.3,422.4 514.6,423.6 514.8,424.5 514.9,424.8 515.0,425.8 515.1,426.2 515.1,427.1 515.2,427.6 515.3,428.6 515.5,430.0 515.7,428.0 516.1,428.7 516.4,429.6 516.8,429.3 517.2,432.6 517.7,432.7 518.4,433.7 519.0,432.1 519.7,432.3 520.4,435.0 521.2,436.0 522.0,434.5 522.7,435.1 523.5,437.7 524.2,438.1 524.9,436.9 525.5,437.4 526.1,437.7 526.6,440.3 527.1,440.8 527.4,441.4 527.7,440.3" fill="none" stroke="#EE8AB0" stroke-width="1.5" stroke-linejoin="round" stroke-linecap="round"/>
<polyline points="379.0,443.0 379.3,443.2 379.6,443.1 380.0,443.2 380.4,443.0 380.9,442.9 381.4,443.0 382.0,442.9 382.6,443.1 383.2,443.2 383.9,443.3 384.6,443.5 385.3,443.3 386.1,443.3 386.9,443.5 387.7,443.6 388.5,443.5 389.4,443.7 390.2,443.6 391.1,443.7 392.1,443.7 393.0,443.8 393.9,443.9 394.9,444.1 395.8,444.2 396.8,444.4 397.8,444.1 398.7,444.1 399.7,444.3 400.7,444.3 401.7,444.6 402.6,444.6 403.6,444.8 404.6,444.8 405.5,444.9 406.4,444.6 407.4,444.9 408.3,445.0 409.2,444.7 410.0,445.0 410.9,444.8 411.7,445.1 412.5,445.1 413.3,445.1 414.0,444.9 414.8,445.2 415.5,445.1 416.1,445.3 416.7,445.1 417.3,445.1 417.9,445.1 418.4,445.1 418.8,445.0 419.2,444.9 419.6,444.9 420.6,445.1 421.6,445.1 422.5,444.6 423.4,444.5 424.2,444.2 425.0,444.0 425.8,443.7 426.6,443.4 427.3,443.1 427.9,442.6 428.6,442.2 429.2,441.8 429.8,441.5 430.3,440.9 430.8,440.9 431.4,440.5 431.8,440.1 432.3,440.0 432.8,439.6 433.3,439.1 433.9,438.7 434.6,438.1 435.2,437.5 435.9,437.0 436.6,436.5 437.3,435.9 438.0,435.4 438.7,434.6 439.4,434.2 440.1,433.5 440.7,432.8 441.3,432.4 441.8,432.3 442.3,432.0 442.7,431.5 443.0,431.4 443.9,431.3 444.6,431.3 445.3,431.5 446.1,432.0 447.0,432.3 447.4,432.2 448.0,432.4 448.7,432.3 449.5,432.6 450.3,432.6 451.2,432.4 452.2,432.3 453.2,432.2 454.1,432.4 455.0,432.3 455.9,432.2 456.7,432.0 457.4,431.6 458.0,431.4 458.5,431.0 458.8,430.7 459.0,430.5 459.3,429.8 459.6,429.1 459.8,428.7 460.1,428.2 460.4,427.4 460.7,426.7 460.9,425.9 461.2,424.9 461.5,423.7 461.8,422.7 462.0,421.9 462.3,421.1 462.5,420.4 462.8,419.5 463.0,418.4 463.2,417.6 463.4,416.9 463.6,416.0 463.8,415.6 464.0,415.0 464.2,414.4 464.3,413.9 464.5,413.2 464.7,412.4 464.9,411.6 465.0,410.7 465.2,409.8 465.4,408.8 465.6,407.8 465.8,406.8 465.9,405.9 466.1,404.9 466.3,404.2 466.5,403.5 466.7,402.9 467.0,402.2 467.2,401.7 467.4,401.5 467.7,401.4 468.0,401.2 468.4,401.2 468.9,401.6 469.4,402.0 470.0,402.6 470.7,403.2 471.3,403.9 472.0,404.7 472.7,405.3 473.4,405.9 474.1,406.7 474.7,407.6 475.4,408.1 476.0,408.5 476.5,409.1 477.0,409.1 477.5,409.5 478.2,409.8 478.9,409.9 479.6,409.9 480.5,409.8 481.3,409.9 482.2,410.2 483.1,410.2 484.0,410.1 484.9,410.0 485.7,410.4 486.5,410.4 487.2,410.1 487.9,410.2 488.5,410.6 489.1,410.4 489.7,410.8 490.5,410.8 491.3,410.9 492.1,411.1 493.0,411.4 493.9,411.6 494.7,412.1 495.6,412.4 496.5,412.4 497.3,412.5 498.1,412.5 498.8,412.9 499.4,412.9 500.0,412.6 500.6,412.7 501.2,412.5 501.9,412.0 502.7,411.7 503.5,411.1 504.4,410.8 505.2,410.1 506.1,409.5 506.9,409.3 507.7,408.8 508.4,408.4 509.0,407.8 509.6,407.3 510.1,407.0 510.4,407.1 511.5,406.5 511.8,406.1 511.9,405.6 512.0,404.8 512.1,403.8 512.2,402.7 512.3,401.7 512.4,400.8 512.6,400.2 512.7,400.0 512.9,400.2 513.1,400.8 513.5,401.7 513.8,402.7 514.1,403.7 514.4,405.5 514.7,407.1 514.9,407.1 515.0,408.2 515.1,408.8 515.2,409.6 515.2,410.5 515.4,411.0 515.7,412.0 516.1,410.2 516.4,410.4 516.7,411.0 517.1,411.6 517.6,414.4 518.2,414.8 518.8,413.5 519.5,414.2 520.2,414.7 520.9,417.8 521.6,418.1 522.3,417.0 523.0,417.3 523.7,420.3 524.4,421.2 525.1,419.4 525.7,420.2 526.2,422.3 526.7,422.8 527.1,423.2 527.5,423.7 527.7,423.0" fill="none" stroke="#D8A070" stroke-width="1.5" stroke-linejoin="round" stroke-linecap="round"/>
<polyline points="379.0,430.2 379.3,430.4 379.7,430.3 380.2,430.2 380.8,430.1 381.4,430.4 382.1,430.4 382.9,430.6 383.7,430.4 384.5,430.6 385.4,430.6 386.3,430.5 387.2,430.8 388.2,430.7 389.2,430.8 390.1,431.0 391.1,430.8 392.0,431.1 392.9,431.3 393.8,431.1 394.7,431.0 395.5,431.1 396.3,431.2 397.0,431.5 397.7,431.4 398.3,431.2 398.8,431.5 399.4,431.5 400.1,431.3 400.8,431.2 401.5,431.5 402.3,431.7 403.1,431.4 403.9,431.6 404.8,431.4 405.6,431.6 406.5,431.8 407.4,431.4 408.3,431.6 409.2,431.5 410.1,431.6 411.0,431.6 411.9,431.5 412.8,431.5 413.6,431.5 414.5,431.7 415.3,431.6 416.0,431.7 416.7,431.5 417.4,431.3 418.0,431.4 418.6,431.5 419.1,431.4 419.6,431.4 420.3,431.2 421.0,431.1 421.7,430.9 422.5,430.5 423.3,430.3 424.0,429.8 424.8,429.2 425.6,428.8 426.4,428.6 427.2,428.2 427.9,427.5 428.7,427.1 429.4,426.9 430.1,426.4 430.7,425.9 431.3,425.7 431.8,425.4 432.3,425.0 432.7,424.8 433.2,424.3 433.7,423.5 434.2,423.1 434.7,422.3 435.3,421.9 435.8,421.1 436.4,420.7 437.0,420.0 437.6,419.3 438.2,418.7 438.8,417.8 439.4,417.2 439.9,416.7 440.5,416.0 441.0,415.7 441.6,415.3 442.1,414.8 442.6,414.3 443.0,414.1 443.5,414.3 444.2,414.3 444.9,414.3 445.7,414.0 446.6,414.3 447.5,414.5 448.5,414.5 449.4,414.6 450.4,414.6 451.4,414.8 452.3,415.0 453.2,415.3 454.1,415.4 454.8,415.8 455.5,416.0 456.1,416.0 456.6,415.9 457.0,416.2 458.0,416.3 458.5,415.1 458.7,414.8 458.9,414.4 459.2,413.6 459.4,413.4 459.8,412.7 460.1,411.7 460.5,410.9 460.9,410.1 461.2,409.3 461.6,408.5 462.0,408.0 462.3,406.9 462.6,406.1 462.9,405.5 463.1,404.8 463.2,404.4 463.3,403.6 463.4,403.2 463.6,402.6 463.7,401.6 463.8,401.1 464.0,400.2 464.1,399.2 464.3,398.6 464.4,397.5 464.6,396.5 464.7,395.7 464.9,394.4 465.0,393.5 465.2,392.6 465.4,391.8 465.5,390.9 465.7,390.0 465.9,389.1 466.0,388.0 466.2,387.3 466.3,386.3 466.5,385.3 466.6,384.9 466.8,384.0 466.9,383.5 467.1,383.2 467.2,382.7 467.4,382.4 467.5,381.9 467.9,381.8 468.3,381.7 468.9,382.1 469.5,382.5 470.1,383.3 470.8,384.0 471.4,384.8 472.1,385.4 472.7,386.4 473.3,386.8 473.8,387.5 474.3,388.1 474.8,388.5 475.3,388.8 475.9,389.3 476.6,389.9 477.3,390.6 478.0,391.2 478.8,392.1 479.5,392.6 480.2,393.1 480.9,393.3 481.5,393.5 482.1,393.9 482.6,393.7 483.2,393.5 483.8,393.2 484.6,392.9 485.4,392.8 486.2,392.2 487.1,391.8 487.9,391.2 488.8,390.8 489.6,390.1 490.4,389.6 491.1,389.6 491.8,389.1 492.3,389.2 492.8,388.9 493.4,389.2 494.0,389.3 494.6,389.8 495.2,390.4 495.8,391.2 496.5,391.9 497.1,392.3 497.8,393.1 498.4,393.3 499.0,393.8 499.6,393.7 500.0,393.7 500.6,393.7 501.2,393.3 501.9,393.2 502.7,392.8 503.6,392.4 504.4,392.0 505.3,391.6 506.2,391.1 507.0,390.5 507.8,389.9 508.6,389.3 509.3,389.3 510.0,388.9 510.5,388.4 511.0,388.2 511.3,388.0 511.6,387.5 511.7,387.1 511.8,385.8 511.8,385.4 511.9,384.9 511.9,384.2 511.9,383.5 511.9,382.7 512.0,381.8 512.0,380.8 512.1,379.8 512.1,378.8 512.2,377.7 512.2,376.7 512.2,375.6 512.3,374.6 512.3,373.7 512.4,372.8 512.4,372.0 512.5,371.2 512.5,370.6 512.6,370.1 512.6,369.7 512.7,369.5 512.8,369.4 513.0,369.7 513.2,370.3 513.4,371.0 513.6,372.0 513.9,373.0 514.1,374.1 514.3,375.7 514.5,376.7 514.7,377.7 514.9,378.0 515.1,378.7 515.2,379.5 515.4,379.8 515.6,380.3 515.8,379.6 516.1,380.3 516.4,381.2 516.7,382.4 517.2,384.8 517.4,385.3 517.6,385.4 517.8,386.2 518.1,386.6 518.4,386.9 518.7,387.8 519.0,387.3 519.4,387.7 519.8,388.5 520.2,389.4 520.6,391.9 521.0,392.9 521.4,393.3 521.9,393.2 522.3,393.7 522.8,394.6 523.2,397.2 523.6,397.9 524.1,398.7 524.5,399.9 524.9,399.0 525.3,400.1 525.7,400.6 526.0,401.3 526.3,403.6 526.6,404.1 526.9,404.6 527.2,405.4 527.4,405.7 527.6,405.9 527.7,405.5" fill="none" stroke="#0F8020" stroke-width="1.5" stroke-linejoin="round" stroke-linecap="round"/>
<polyline points="379.0,415.0 379.3,415.1 379.7,415.1 380.2,414.9 380.8,415.2 381.4,415.1 382.1,415.3 382.9,415.2 383.7,415.4 384.5,415.4 385.4,415.5 386.3,415.5 387.2,415.7 388.1,415.8 389.1,415.8 390.0,416.0 390.9,415.9 391.8,415.9 392.7,415.9 393.6,415.9 394.4,416.0 395.1,416.1 395.8,416.1 396.5,416.2 397.0,416.2 397.5,416.5 398.1,416.6 398.8,416.4 399.5,416.6 400.2,416.6 401.0,416.4 401.8,416.7 402.7,416.7 403.5,416.9 404.4,417.0 405.3,417.0 406.2,417.0 407.2,417.2 408.1,417.2 409.0,417.1 409.9,417.1 410.8,417.0 411.7,417.2 412.6,417.2 413.5,417.5 414.3,417.2 415.1,417.2 415.9,417.5 416.6,417.5 417.3,417.4 417.9,417.3 418.5,417.3 419.0,417.4 419.5,417.5 419.9,417.4 420.7,417.2 421.6,416.9 422.4,416.6 423.2,416.5 424.0,416.2 424.7,415.8 425.5,415.1 426.2,414.7 426.9,414.3 427.5,414.1 428.1,413.7 428.7,413.4 429.2,412.9 429.7,412.6 430.2,412.2 430.7,411.5 431.2,411.0 431.8,410.6 432.4,410.1 433.1,409.2 433.7,408.7 434.3,407.8 434.9,407.1 435.5,406.5 436.1,405.8 436.6,405.5 437.1,405.1 437.5,404.8 438.0,404.3 438.5,403.7 439.1,403.0 439.8,402.6 440.4,401.9 441.1,401.2 441.8,400.7 442.5,399.7 443.2,399.4 443.8,398.9 444.4,398.2 444.9,398.1 445.3,397.8 445.9,397.9 446.7,398.1 447.5,398.2 448.3,398.4 449.1,398.8 449.8,399.4 450.5,399.8 451.1,399.9 451.8,399.9 452.7,400.1 453.7,400.1 454.7,400.2 455.6,400.6 456.4,400.6 457.0,400.6 458.0,401.1 458.9,401.5 459.7,400.8 459.9,400.2 460.0,399.7 460.2,399.4 460.4,398.5 460.7,397.9 460.9,397.1 461.2,396.4 461.5,395.5 461.7,394.7 462.0,394.0 462.3,392.9 462.5,391.9 462.8,391.1 463.0,390.2 463.2,389.6 463.4,388.6 463.6,388.1 463.7,387.7 463.8,387.2 463.9,386.4 464.0,385.9 464.1,384.9 464.3,384.1 464.4,383.6 464.5,382.6 464.6,381.6 464.8,380.7 464.9,379.6 465.1,378.9 465.2,377.9 465.4,377.1 465.5,376.2 465.6,375.2 465.8,374.0 465.9,373.1 466.1,372.5 466.2,371.4 466.4,370.7 466.5,369.9 466.7,369.3 466.8,368.8 467.0,368.2 467.1,367.7 467.2,367.3 467.4,367.0 467.5,366.8 467.9,366.3 468.5,366.0 469.2,366.4 469.9,366.6 470.7,367.1 471.5,367.8 472.3,368.5 473.1,369.4 473.7,369.8 474.3,370.5 474.8,370.7 475.3,371.2 475.9,371.8 476.6,372.3 477.3,372.7 478.0,373.1 478.8,373.6 479.5,374.3 480.2,374.8 480.9,374.9 481.5,375.1 482.1,375.3 482.6,375.3 483.2,375.1 483.8,374.9 484.6,374.3 485.4,374.1 486.2,373.4 487.1,373.1 487.9,372.4 488.8,372.1 489.6,371.8 490.4,371.4 491.1,371.0 491.8,370.5 492.3,370.4 492.8,370.2 493.4,370.4 494.0,370.7 494.6,371.2 495.2,372.0 495.8,372.8 496.5,373.1 497.1,373.9 497.8,374.7 498.4,374.8 499.0,375.1 499.6,375.4 500.0,375.4 500.6,375.0 501.2,374.9 501.9,374.5 502.7,374.2 503.6,373.7 504.4,373.5 505.3,373.0 506.2,372.4 507.0,371.8 507.8,371.4 508.6,370.9 509.3,370.7 510.0,370.3 510.5,369.9 511.0,369.6 511.3,369.5 511.7,368.9 511.8,367.6 511.8,367.2 511.9,366.7 511.9,366.0 511.9,365.2 512.0,364.4 512.0,363.4 512.1,362.4 512.1,361.4 512.2,360.3 512.2,359.3 512.3,358.3 512.3,357.4 512.4,356.5 512.5,355.7 512.5,355.0 512.6,354.5 512.6,354.1 512.7,353.9 512.8,353.9 513.0,354.2 513.2,354.8 513.4,355.6 513.6,356.5 513.9,357.5 514.1,358.6 514.3,360.3 514.5,361.0 514.7,361.9 514.9,362.8 515.1,363.1 515.2,363.9 515.4,364.6 515.6,364.9 515.8,364.6 516.1,365.4 516.4,366.2 516.7,366.8 517.2,369.3 517.4,369.8 517.6,370.0 517.9,370.7 518.2,370.9 518.6,371.7 519.0,370.9 519.4,371.5 519.8,372.2 520.3,374.7 520.8,375.1 521.3,376.1 521.8,375.4 522.3,376.3 522.8,377.0 523.3,379.6 523.8,380.4 524.3,381.4 524.8,380.7 525.2,381.2 525.6,382.0 526.1,382.8 526.4,384.6 526.8,385.4 527.1,385.5 527.3,385.9 527.5,386.4 527.7,386.0" fill="none" stroke="#6EA4CF" stroke-width="1.5" stroke-linejoin="round" stroke-linecap="round"/>
<polyline points="379.0,401.7 379.3,401.7 379.7,401.9 380.2,401.7 380.8,402.0 381.4,402.2 382.1,402.0 382.9,402.2 383.7,402.4 384.5,402.5 385.4,402.4 386.3,402.6 387.2,402.7 388.1,402.9 389.1,403.0 390.0,403.0 390.9,403.0 391.8,403.1 392.7,403.3 393.6,403.5 394.4,403.7 395.1,403.7 395.8,403.7 396.5,403.7 397.0,403.8 397.5,403.7 398.1,404.0 398.8,404.0 399.5,404.1 400.2,404.1 401.0,403.9 401.8,404.1 402.7,404.0 403.5,404.3 404.4,404.3 405.3,404.1 406.2,404.4 407.2,404.2 408.1,404.2 409.0,404.5 409.9,404.3 410.8,404.6 411.7,404.4 412.6,404.5 413.5,404.6 414.3,404.7 415.1,404.7 415.9,404.8 416.6,404.9 417.3,404.9 417.9,404.9 418.5,404.6 419.0,404.6 419.5,404.5 419.9,404.4 420.7,404.5 421.6,404.3 422.4,404.1 423.2,403.8 424.0,403.3 424.7,403.0 425.5,402.5 426.2,402.4 426.9,401.8 427.5,401.3 428.1,400.9 428.7,400.6 429.2,400.3 429.7,399.8 430.1,399.2 430.6,399.0 431.0,398.6 431.5,397.6 432.1,397.2 432.6,396.5 433.1,395.9 433.7,395.1 434.2,394.1 434.8,393.3 435.3,392.6 435.8,392.2 436.3,391.5 436.7,391.0 437.1,390.5 437.5,390.2 438.0,389.6 438.6,389.0 439.3,388.6 440.0,387.9 440.7,387.6 441.5,387.2 442.2,386.8 443.0,386.4 443.7,385.6 444.3,385.3 444.8,385.0 445.3,385.1 445.9,385.3 446.7,385.5 447.5,386.0 448.3,386.4 449.1,387.0 449.8,387.5 450.5,387.8 451.1,388.1 451.8,388.4 452.7,388.5 453.7,388.4 454.7,388.7 455.6,388.6 456.4,389.0 457.0,389.0 458.0,389.8 458.9,390.5 459.7,390.2 459.9,389.7 460.1,389.1 460.4,388.7 460.6,388.4 460.9,387.7 461.2,386.9 461.6,386.1 461.9,385.5 462.2,384.7 462.5,383.9 462.8,382.7 463.1,382.0 463.4,381.2 463.6,380.2 463.7,379.8 463.8,379.4 463.9,378.8 464.1,378.1 464.2,377.4 464.3,376.8 464.5,376.1 464.6,375.0 464.8,374.3 465.0,373.5 465.1,372.5 465.3,371.3 465.5,370.4 465.6,369.6 465.8,368.8 466.0,367.8 466.2,366.9 466.4,365.7 466.5,364.8 466.7,363.8 466.9,363.1 467.1,362.2 467.2,361.5 467.4,360.7 467.6,360.0 467.7,359.2 467.9,358.5 468.0,357.9 468.1,357.7 468.3,357.3 468.4,356.7 469.0,355.7 469.8,355.4 470.7,355.0 471.7,355.0 472.6,355.5 473.5,355.6 474.3,355.7 474.8,355.9 475.4,356.1 476.1,356.8 476.8,356.9 477.6,357.7 478.4,358.1 479.2,358.7 480.0,359.2 480.8,359.4 481.5,359.7 482.1,359.8 482.6,359.8 483.3,359.7 484.0,359.6 484.8,359.0 485.7,358.8 486.6,358.4 487.5,358.3 488.4,357.8 489.3,357.5 490.2,357.3 491.0,357.1 491.7,356.9 492.3,356.6 492.8,356.9 493.4,357.1 494.1,357.4 494.8,357.7 495.5,358.2 496.2,358.8 496.9,359.4 497.6,359.9 498.3,360.3 498.9,360.5 499.6,360.6 500.1,360.8 500.7,360.5 501.4,360.1 502.1,360.0 503.0,359.6 503.9,359.3 504.8,359.0 505.7,358.5 506.6,358.3 507.5,357.9 508.4,357.5 509.2,357.1 509.9,356.7 510.5,356.5 511.0,356.1 511.3,355.8 511.7,355.2 511.8,353.8 511.8,353.4 511.9,352.9 511.9,352.2 511.9,351.4 512.0,350.6 512.0,349.6 512.1,348.6 512.1,347.6 512.2,346.6 512.2,345.5 512.3,344.5 512.3,343.5 512.4,342.6 512.4,341.7 512.5,340.9 512.5,340.3 512.6,339.8 512.6,339.4 512.7,339.2 512.8,339.2 513.0,339.5 513.2,340.2 513.4,341.0 513.6,342.0 513.9,343.1 514.1,344.2 514.3,346.2 514.5,346.9 514.7,348.1 514.9,348.4 515.1,349.0 515.2,349.8 515.4,350.5 515.6,351.1 515.8,350.8 516.1,351.3 516.4,352.1 516.7,353.0 517.2,355.6 517.4,355.8 517.6,356.5 517.9,356.7 518.2,357.4 518.6,358.0 519.0,357.3 519.4,357.7 519.8,358.5 520.3,360.9 520.8,361.7 521.3,362.7 521.8,361.9 522.3,362.9 522.8,363.7 523.3,366.1 523.8,366.9 524.3,367.6 524.8,366.8 525.2,367.6 525.6,368.3 526.1,368.9 526.4,370.8 526.8,371.4 527.1,371.8 527.3,372.3 527.5,372.6 527.7,372.4" fill="none" stroke="#E91E7A" stroke-width="1.5" stroke-linejoin="round" stroke-linecap="round"/>
<polyline points="379.0,387.7 379.3,387.5 379.7,387.8 380.2,387.9 380.8,388.0 381.4,388.0 382.1,388.3 382.9,388.1 383.7,388.4 384.5,388.6 385.4,388.8 386.3,389.0 387.2,389.0 388.1,389.1 389.1,389.4 390.0,389.3 390.9,389.5 391.8,389.6 392.7,389.5 393.6,389.5 394.4,389.6 395.1,389.7 395.8,389.7 396.5,389.8 397.0,390.0 397.5,390.1 398.1,390.2 398.8,390.0 399.5,390.3 400.2,390.2 401.0,390.2 401.8,390.2 402.7,390.5 403.5,390.3 404.4,390.5 405.3,390.2 406.2,390.3 407.2,390.3 408.1,390.6 409.0,390.4 409.9,390.6 410.8,390.5 411.7,390.5 412.6,390.7 413.5,390.7 414.3,390.7 415.1,390.6 415.9,390.7 416.6,390.7 417.3,390.4 417.9,390.5 418.5,390.5 419.0,390.5 419.5,390.4 419.9,390.5 420.7,390.3 421.6,390.3 422.4,390.1 423.2,389.7 424.0,389.5 424.7,389.0 425.5,388.6 426.2,388.3 426.9,387.9 427.5,387.5 428.1,387.1 428.7,386.6 429.2,386.3 429.7,386.2 430.1,386.0 430.6,385.4 431.1,384.7 431.7,384.3 432.2,383.7 432.8,383.0 433.4,382.2 434.0,381.4 434.6,380.5 435.1,379.8 435.7,379.0 436.2,378.7 436.7,378.0 437.1,377.5 437.5,377.3 438.0,376.9 438.6,376.6 439.3,376.0 440.0,375.6 440.7,375.1 441.5,374.5 442.2,374.1 443.0,373.6 443.7,373.1 444.3,373.2 444.8,373.0 445.3,372.7 445.9,372.9 446.7,373.3 447.5,373.7 448.3,374.3 449.1,374.9 449.8,375.3 450.5,375.7 451.1,375.9 451.7,376.0 452.5,376.4 453.3,376.7 454.2,377.3 455.1,377.6 455.8,377.7 456.5,378.2 457.0,378.5 457.6,379.1 458.2,380.1 458.7,380.9 459.2,381.3 459.7,381.3 459.9,380.9 460.2,380.3 460.5,380.2 460.8,379.4 461.2,378.5 461.6,378.1 461.9,376.9 462.3,376.3 462.7,375.3 463.0,374.3 463.3,373.2 463.6,372.3 463.7,372.1 463.8,371.8 463.9,371.0 464.1,370.3 464.2,369.6 464.3,369.1 464.5,368.3 464.6,367.6 464.8,366.8 465.0,365.7 465.1,364.9 465.3,364.0 465.5,363.0 465.6,362.2 465.8,360.9 466.0,359.8 466.2,358.8 466.4,357.8 466.5,357.1 466.7,356.3 466.9,355.5 467.1,354.7 467.2,353.6 467.4,353.0 467.6,352.0 467.7,351.2 467.9,350.9 468.0,350.4 468.1,350.0 468.3,349.2 468.4,348.8 468.9,348.0 469.5,347.5 470.1,346.5 470.8,345.9 471.6,345.7 472.3,345.4 473.1,345.2 473.7,345.3 474.3,345.1 474.8,345.1 475.5,344.9 476.3,345.1 477.1,345.3 478.0,345.4 478.9,345.7 479.8,345.9 480.6,346.2 481.4,346.2 482.1,346.1 482.6,346.0 483.2,345.8 483.8,345.3 484.6,345.2 485.4,344.9 486.2,344.6 487.1,344.1 487.9,344.0 488.8,343.3 489.6,342.9 490.4,342.9 491.1,342.6 491.8,342.3 492.3,342.2 492.8,342.2 493.4,342.3 494.1,342.7 494.8,343.1 495.5,343.4 496.2,344.0 496.9,344.5 497.6,345.0 498.3,345.4 498.9,345.9 499.6,346.1 500.1,345.9 500.7,346.0 501.4,345.5 502.1,345.4 503.0,345.1 503.9,345.0 504.8,344.7 505.7,344.5 506.6,344.0 507.5,343.6 508.4,343.2 509.2,342.9 509.9,342.7 510.5,342.4 511.0,342.5 511.3,342.2 511.7,341.7 511.8,340.4 511.8,340.0 511.9,339.5 511.9,338.8 511.9,338.0 512.0,337.1 512.0,336.1 512.1,335.1 512.1,334.1 512.2,333.0 512.3,332.0 512.3,331.1 512.4,330.2 512.4,329.4 512.5,328.7 512.6,328.1 512.6,327.7 512.7,327.5 512.8,327.5 513.0,327.9 513.2,328.5 513.5,329.4 513.7,330.4 514.0,331.5 514.3,332.6 514.5,334.6 514.7,335.2 514.9,335.9 515.1,336.4 515.3,337.1 515.5,337.5 515.7,338.6 516.0,337.9 516.3,338.6 516.7,339.7 517.2,341.9 517.4,342.5 517.7,342.5 518.1,343.1 518.5,344.0 518.9,342.9 519.4,343.8 519.9,344.3 520.5,346.4 521.1,347.5 521.7,348.5 522.3,347.8 522.8,348.6 523.4,350.6 524.0,351.6 524.6,352.4 525.1,351.6 525.6,352.4 526.1,352.7 526.5,354.7 526.9,355.3 527.2,356.1 527.5,356.4 527.7,355.8" fill="none" stroke="#F28A1A" stroke-width="1.5" stroke-linejoin="round" stroke-linecap="round"/>
<line x1="468.40" y1="341.00" x2="468.40" y2="486.40" stroke="#333" stroke-width="1.35" stroke-linecap="butt" stroke-dasharray="4,3"/>
<circle cx="468.4" cy="337.3" r="1.6" fill="#111"/>
<line x1="462.70" y1="492.00" x2="462.70" y2="511.00" stroke="#333" stroke-width="1.3" stroke-linecap="butt" stroke-dasharray="4,3"/>
<text x="462.70" y="518.00" font-family="Liberation Sans" font-size="6.5" font-weight="normal" text-anchor="middle" fill="#111" >▼</text>
<text x="470.30" y="333.40" font-family="Liberation Serif" font-size="7" font-weight="bold" text-anchor="middle" fill="#222" letter-spacing="0.6">formate</text>
<text x="466.00" y="522.30" font-family="Liberation Serif" font-size="7" font-weight="bold" text-anchor="middle" fill="#222" letter-spacing="0.6">Bicarbonate</text>
<text x="423.80" y="389.30" font-family="Liberation Sans" font-size="8.6" font-weight="bold" text-anchor="end" fill="#222" stroke="#222" stroke-width="0.2">500°C</text>
<text x="423.80" y="402.00" font-family="Liberation Sans" font-size="8.6" font-weight="bold" text-anchor="end" fill="#222" stroke="#222" stroke-width="0.2">450°C</text>
<text x="423.80" y="414.30" font-family="Liberation Sans" font-size="8.6" font-weight="bold" text-anchor="end" fill="#222" stroke="#222" stroke-width="0.2">400°C</text>
<text x="423.80" y="429.50" font-family="Liberation Sans" font-size="8.6" font-weight="bold" text-anchor="end" fill="#222" stroke="#222" stroke-width="0.2">350°C</text>
<text x="423.80" y="443.30" font-family="Liberation Sans" font-size="8.6" font-weight="bold" text-anchor="end" fill="#222" stroke="#222" stroke-width="0.2">300°C</text>
<text x="423.80" y="456.10" font-family="Liberation Sans" font-size="8.6" font-weight="bold" text-anchor="end" fill="#222" stroke="#222" stroke-width="0.2">250°C</text>
<text x="423.80" y="468.90" font-family="Liberation Sans" font-size="8.6" font-weight="bold" text-anchor="end" fill="#222" stroke="#222" stroke-width="0.2">200°C</text>
<text x="423.80" y="482.70" font-family="Liberation Sans" font-size="8.6" font-weight="bold" text-anchor="end" fill="#222" stroke="#222" stroke-width="0.2">150°C</text>
<text x="423.80" y="495.50" font-family="Liberation Sans" font-size="8.6" font-weight="bold" text-anchor="end" fill="#222" stroke="#222" stroke-width="0.2">100°C</text>
<text x="423.80" y="510.30" font-family="Liberation Sans" font-size="8.6" font-weight="bold" text-anchor="end" fill="#222" stroke="#222" stroke-width="0.2">50°C</text>
</svg>
</body></html>
